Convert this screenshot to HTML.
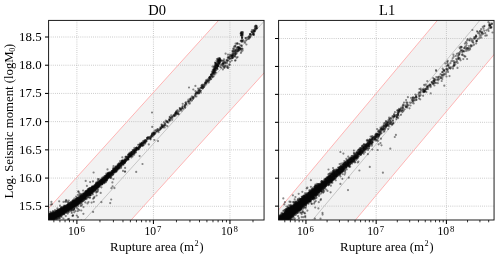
<!DOCTYPE html><html><head><meta charset="utf-8"><style>html,body{margin:0;padding:0;background:#fff}svg{display:block}text{font-family:"Liberation Serif",serif;fill:#000}</style></head><body>
<svg style="will-change:transform" xmlns="http://www.w3.org/2000/svg" width="500" height="258" viewBox="0 0 500 258">
<rect width="500" height="258" fill="#fff"/>
<defs>
<clipPath id="c0"><rect x="48.6" y="20.4" width="215.45000000000002" height="199.6"/></clipPath>
<clipPath id="c1"><rect x="278.6" y="20.4" width="215.45" height="199.6"/></clipPath>
</defs>
<g clip-path="url(#c0)">
<polygon points="43.60,213.95 269.05,-35.42 269.05,67.45 43.60,316.82" fill="#f2f2f2"/>
<line x1="76.90" y1="20.4" x2="76.90" y2="220.0" stroke="#b0b0b0" stroke-width="0.8" stroke-dasharray="0.8 1.32"/>
<line x1="153.43" y1="20.4" x2="153.43" y2="220.0" stroke="#b0b0b0" stroke-width="0.8" stroke-dasharray="0.8 1.32"/>
<line x1="229.95" y1="20.4" x2="229.95" y2="220.0" stroke="#b0b0b0" stroke-width="0.8" stroke-dasharray="0.8 1.32"/>
<line x1="48.6" y1="206.29" x2="264.05" y2="206.29" stroke="#b0b0b0" stroke-width="0.8" stroke-dasharray="0.8 1.32"/>
<line x1="48.6" y1="178.07" x2="264.05" y2="178.07" stroke="#b0b0b0" stroke-width="0.8" stroke-dasharray="0.8 1.32"/>
<line x1="48.6" y1="149.86" x2="264.05" y2="149.86" stroke="#b0b0b0" stroke-width="0.8" stroke-dasharray="0.8 1.32"/>
<line x1="48.6" y1="121.64" x2="264.05" y2="121.64" stroke="#b0b0b0" stroke-width="0.8" stroke-dasharray="0.8 1.32"/>
<line x1="48.6" y1="93.43" x2="264.05" y2="93.43" stroke="#b0b0b0" stroke-width="0.8" stroke-dasharray="0.8 1.32"/>
<line x1="48.6" y1="65.22" x2="264.05" y2="65.22" stroke="#b0b0b0" stroke-width="0.8" stroke-dasharray="0.8 1.32"/>
<line x1="48.6" y1="37.00" x2="264.05" y2="37.00" stroke="#b0b0b0" stroke-width="0.8" stroke-dasharray="0.8 1.32"/>
<line x1="43.60" y1="213.95" x2="269.05" y2="-35.42" stroke="#ffadad" stroke-width="0.9"/>
<line x1="43.60" y1="316.82" x2="269.05" y2="67.45" stroke="#ffadad" stroke-width="0.9"/>
<line x1="43.60" y1="265.13" x2="269.05" y2="15.76" stroke="#a8a8a8" stroke-width="0.6"/>
<path d="M42.2 220.3h0M49.9 218.8h0M44.3 218.4h0M40.6 221.0h0M43.1 221.6h0M47.5 220.6h0M40.5 222.1h0M45.2 220.0h0M53.4 218.4h0M61.7 232.0h0M45.1 218.9h0M60.6 225.0h0M46.7 218.9h0M51.8 216.7h0M41.4 220.9h0M42.9 219.5h0M47.2 220.5h0M44.6 219.6h0M54.5 215.1h0M51.2 219.0h0M55.1 216.2h0M40.5 221.5h0M47.6 216.1h0M57.1 214.9h0M47.4 217.3h0M47.1 221.6h0M50.6 218.2h0M46.8 216.9h0M46.8 220.6h0M51.1 218.4h0M55.7 213.3h0M45.6 220.7h0M52.8 215.8h0M52.7 218.9h0M49.4 218.0h0M42.2 224.8h0M50.3 219.6h0M44.6 221.4h0M44.7 223.0h0M55.8 216.8h0M56.7 214.1h0M47.9 219.2h0M45.9 217.8h0M47.0 219.0h0M53.0 217.1h0M55.2 212.4h0M48.5 220.4h0M43.6 220.2h0M50.7 216.3h0M47.7 221.4h0M54.7 216.1h0M57.4 215.9h0M49.3 218.2h0M41.8 223.6h0M44.4 218.9h0M49.2 218.9h0M50.9 216.9h0M52.0 218.9h0M52.9 214.9h0M52.6 215.5h0M55.9 214.7h0M52.3 215.0h0M55.5 214.7h0M53.9 214.5h0M45.3 219.2h0M45.7 218.6h0M42.4 222.8h0M56.3 215.8h0M53.1 216.2h0M48.7 216.1h0M55.6 215.2h0M39.7 218.8h0M49.8 219.4h0M43.6 219.9h0M43.5 219.3h0M50.5 215.9h0M50.3 216.2h0M45.0 218.6h0M50.9 215.5h0M55.0 215.3h0M42.4 219.9h0M50.0 216.8h0M55.8 214.8h0M46.9 220.8h0M51.6 218.6h0M45.1 219.4h0M44.0 219.8h0M43.2 218.6h0M50.7 218.6h0M39.5 220.1h0M50.1 219.6h0M56.3 216.0h0M40.3 218.3h0M55.1 213.8h0M45.5 218.1h0M41.6 217.6h0M42.3 219.3h0M40.6 221.8h0M43.2 218.6h0M51.0 217.8h0M44.1 220.7h0M41.7 220.2h0M52.7 217.3h0M48.2 217.7h0M45.6 221.7h0M53.1 218.1h0M47.9 219.5h0M43.6 221.7h0M55.5 216.8h0M43.7 221.9h0M47.6 218.9h0M49.7 216.9h0M41.1 223.2h0M44.9 221.2h0M43.3 220.3h0M46.1 218.6h0M51.7 218.3h0M53.8 216.0h0M41.9 221.8h0M55.5 214.8h0M49.8 218.7h0M55.1 215.1h0M48.7 215.7h0M48.4 217.3h0M41.1 221.6h0M47.0 218.7h0M49.5 218.2h0M48.4 220.0h0M51.2 217.6h0M48.7 220.7h0M40.5 220.8h0M43.6 219.6h0M51.9 214.6h0M46.9 220.3h0M39.3 219.1h0M43.8 220.8h0M53.4 215.8h0M43.0 221.8h0M50.4 217.4h0M55.2 217.7h0M49.4 215.5h0M44.6 221.4h0M45.0 218.8h0M48.5 216.0h0M44.8 219.6h0M41.9 221.8h0M44.2 220.1h0M47.9 216.3h0M43.1 221.7h0M44.5 219.5h0M49.7 217.8h0M48.0 219.2h0M51.8 214.3h0M51.2 216.7h0M52.4 215.0h0M53.3 216.2h0M52.5 217.1h0M43.2 221.5h0M49.4 218.2h0M44.1 218.2h0M45.3 212.3h0M43.1 222.4h0M43.6 219.5h0M44.1 219.8h0M40.4 222.6h0M40.6 222.9h0M49.2 218.9h0M52.5 219.0h0M53.5 218.5h0M40.0 221.3h0M48.9 218.1h0M57.1 215.4h0M52.8 213.4h0M44.6 220.5h0M52.1 218.0h0M41.0 221.3h0M45.0 219.4h0M52.0 216.1h0M52.2 213.0h0M51.1 218.4h0M47.0 218.2h0M42.8 223.1h0M46.5 221.1h0M51.2 214.5h0M40.3 220.6h0M50.7 217.6h0M51.8 218.4h0M41.1 219.6h0M47.5 220.6h0M52.5 216.4h0M45.9 219.1h0M46.7 221.1h0M55.8 216.3h0M47.2 218.6h0M55.2 213.7h0M55.3 215.2h0M53.2 213.6h0M41.8 222.2h0M50.9 216.3h0M44.1 220.8h0M42.6 221.5h0M54.0 215.4h0M52.8 211.7h0M54.6 213.0h0M53.3 218.2h0M48.8 219.2h0M48.9 215.6h0M44.9 218.8h0M50.4 219.6h0M47.0 222.0h0M54.3 215.8h0M56.7 214.2h0M45.0 218.2h0M50.3 217.2h0M42.7 220.4h0M48.4 218.1h0M52.2 216.8h0M48.4 218.9h0M48.0 218.6h0M53.7 215.0h0M40.8 221.0h0M40.5 219.5h0M50.4 217.8h0M47.9 222.1h0M39.9 220.8h0M54.7 219.1h0M45.9 217.7h0M56.2 216.4h0M55.7 216.5h0M44.5 222.3h0M45.2 221.2h0M46.9 219.9h0M39.9 220.4h0M45.5 220.3h0M50.1 217.8h0M49.4 219.4h0M48.3 216.3h0M51.4 217.5h0M52.1 216.9h0M50.7 218.3h0M50.3 216.2h0M47.6 217.6h0M56.0 215.5h0M54.3 217.3h0M53.3 217.0h0M49.5 217.9h0M45.8 220.4h0M45.2 220.1h0M56.4 213.2h0M56.8 215.3h0M51.2 214.8h0M41.7 221.1h0M50.9 218.3h0M53.9 218.8h0M45.5 217.5h0M56.7 213.8h0M52.8 216.8h0M39.6 221.1h0M51.7 217.0h0M46.6 218.3h0M41.1 220.9h0M56.0 215.2h0M41.6 222.2h0M44.3 220.7h0M51.6 213.6h0M44.8 221.2h0M47.4 217.0h0M56.6 214.8h0M46.7 217.4h0M51.0 216.2h0M43.2 220.3h0M46.1 220.0h0M53.1 233.0h0M45.0 219.5h0M47.8 217.6h0M45.6 218.3h0M47.8 219.7h0M52.6 219.4h0M41.3 221.2h0M52.5 218.0h0M49.4 214.5h0M45.6 219.5h0M48.6 216.9h0M56.1 214.4h0M54.3 218.3h0M49.4 217.7h0M46.4 218.9h0M46.2 222.6h0M54.5 215.3h0M49.0 219.1h0M47.2 218.0h0M50.7 216.5h0M42.1 222.5h0M40.5 219.9h0M44.8 219.9h0M43.9 221.8h0M40.8 221.7h0M39.9 220.0h0M47.5 215.2h0M46.3 219.7h0M50.8 223.6h0M49.8 218.4h0M49.6 216.2h0M41.6 223.0h0M44.1 220.0h0M41.4 219.6h0M46.5 220.0h0M40.1 222.1h0M43.0 220.4h0M49.1 220.3h0M47.9 218.2h0M51.0 213.6h0M42.7 222.7h0M48.1 215.9h0M40.9 219.3h0M52.6 215.5h0M56.1 215.9h0M53.9 217.5h0M69.9 205.6h0M63.2 212.7h0M66.8 209.6h0M57.6 211.8h0M69.3 207.8h0M58.6 212.3h0M74.6 202.2h0M65.5 209.8h0M76.7 202.9h0M77.2 202.6h0M76.5 203.3h0M70.3 204.2h0M67.9 205.4h0M69.4 207.6h0M68.8 209.7h0M63.8 207.6h0M64.2 210.1h0M71.0 207.3h0M64.7 206.4h0M75.4 201.4h0M65.6 208.7h0M57.3 212.9h0M66.9 207.9h0M57.8 214.7h0M73.3 203.0h0M67.2 209.2h0M57.8 214.9h0M63.5 201.9h0M67.2 208.5h0M73.5 206.1h0M70.1 206.3h0M66.2 212.2h0M64.0 209.8h0M72.0 203.9h0M61.6 212.2h0M69.1 206.7h0M70.4 204.6h0M62.9 213.8h0M58.7 214.6h0M56.6 213.4h0M75.0 201.4h0M68.3 208.8h0M70.9 208.8h0M74.4 203.6h0M77.2 204.2h0M58.4 213.0h0M74.9 204.8h0M68.6 207.2h0M59.3 212.9h0M60.4 214.1h0M75.0 205.7h0M66.0 210.8h0M70.7 206.7h0M58.3 212.9h0M73.1 204.9h0M73.5 203.4h0M71.6 209.2h0M62.8 210.9h0M77.5 203.5h0M61.4 211.6h0M60.9 214.0h0M75.9 204.3h0M61.8 213.9h0M76.1 202.5h0M63.6 211.1h0M62.3 210.1h0M70.9 207.4h0M58.6 215.1h0M68.4 208.7h0M58.3 214.2h0M71.0 207.1h0M71.9 205.3h0M73.0 200.4h0M74.1 205.2h0M61.0 212.6h0M72.3 205.3h0M64.5 210.9h0M74.8 203.9h0M70.7 204.3h0M76.6 203.5h0M61.7 209.3h0M77.1 203.1h0M75.6 201.9h0M66.3 210.5h0M68.1 209.3h0M73.5 205.0h0M73.8 204.1h0M63.6 208.2h0M66.1 207.3h0M58.2 214.0h0M61.2 210.3h0M69.3 207.2h0M60.6 214.4h0M75.8 204.5h0M69.2 205.2h0M59.0 213.6h0M59.8 211.7h0M73.0 202.5h0M62.2 213.0h0M64.5 211.0h0M67.5 206.9h0M65.8 208.2h0M59.4 211.4h0M75.2 205.1h0M60.6 212.1h0M68.8 206.5h0M65.0 210.0h0M75.3 202.7h0M73.5 204.5h0M64.0 209.7h0M59.9 215.1h0M69.2 208.5h0M67.6 210.1h0M59.3 211.7h0M65.4 211.3h0M65.1 211.2h0M67.6 202.1h0M63.2 211.5h0M68.0 208.3h0M78.0 217.2h0M72.3 207.7h0M75.0 200.9h0M74.8 202.6h0M63.5 209.5h0M76.5 201.5h0M76.3 204.2h0M65.2 210.2h0M65.3 211.0h0M62.2 212.1h0M58.3 216.0h0M66.8 208.3h0M69.5 205.6h0M71.6 208.5h0M65.6 210.6h0M64.8 209.2h0M75.1 204.2h0M61.0 207.4h0M58.2 213.7h0M67.6 208.5h0M67.7 206.8h0M59.6 215.0h0M68.7 206.5h0M68.5 207.2h0M64.7 208.3h0M61.9 214.5h0M75.2 203.4h0M70.5 222.0h0M60.3 209.1h0M75.8 202.9h0M66.8 208.9h0M69.9 206.2h0M77.0 203.0h0M65.9 211.4h0M63.7 209.5h0M69.4 205.2h0M66.7 208.7h0M65.5 209.0h0M72.3 206.1h0M64.3 213.5h0M58.2 211.5h0M62.1 211.6h0M61.7 212.8h0M56.6 211.8h0M64.0 207.5h0M70.3 204.1h0M57.2 212.2h0M61.7 211.2h0M67.9 208.4h0M64.1 209.0h0M63.2 208.6h0M71.3 207.1h0M64.0 209.5h0M69.7 206.4h0M69.7 206.0h0M60.9 210.6h0M63.1 210.8h0M70.4 204.4h0M75.6 202.7h0M69.6 208.5h0M71.5 208.1h0M67.6 207.8h0M71.4 205.1h0M65.1 208.9h0M65.1 207.4h0M60.6 211.6h0M59.7 213.4h0M65.8 210.2h0M76.8 215.5h0M63.2 213.3h0M65.1 206.5h0M57.7 211.4h0M72.8 205.4h0M71.4 205.9h0M65.4 209.6h0M66.7 210.1h0M71.4 203.6h0M70.0 206.9h0M76.7 203.4h0M69.1 208.3h0M70.6 204.8h0M62.3 211.9h0M61.3 213.5h0M64.1 208.4h0M64.6 207.6h0M70.8 202.2h0M65.0 210.3h0M68.1 204.3h0M59.2 212.3h0M59.2 213.8h0M69.0 206.2h0M71.6 204.9h0M74.3 205.2h0M70.2 208.3h0M58.3 213.8h0M75.9 201.7h0M71.4 206.5h0M73.8 202.6h0M71.7 203.5h0M61.5 211.0h0M62.9 211.0h0M61.6 212.6h0M73.7 201.0h0M65.6 207.5h0M62.1 211.3h0M63.8 207.4h0M67.0 210.7h0M66.7 212.8h0M73.0 201.7h0M57.3 212.9h0M75.5 202.4h0M74.6 203.5h0M61.3 212.7h0M67.1 206.1h0M75.6 201.9h0M66.1 205.9h0M73.0 200.7h0M70.6 207.5h0M58.3 212.1h0M74.3 203.7h0M59.6 214.4h0M60.7 210.5h0M60.8 211.1h0M58.9 213.3h0M77.6 204.6h0M65.5 211.2h0M70.4 207.0h0M63.7 209.6h0M63.6 211.4h0M66.6 209.6h0M74.9 205.7h0M61.8 213.3h0M70.2 204.5h0M62.1 211.3h0M57.2 212.9h0M65.7 211.1h0M68.5 208.5h0M62.0 210.0h0M63.7 208.1h0M63.0 211.8h0M65.7 207.2h0M70.7 207.8h0M67.0 206.9h0M57.5 215.2h0M66.6 207.5h0M71.5 209.4h0M70.5 208.1h0M63.0 212.2h0M73.9 202.2h0M73.5 205.5h0M63.8 211.4h0M72.0 205.5h0M76.1 202.8h0M76.8 202.3h0M57.2 211.1h0M71.5 206.0h0M73.4 204.1h0M60.7 211.5h0M60.6 211.2h0M67.5 205.0h0M68.9 207.8h0M75.0 203.6h0M66.7 211.8h0M61.4 212.2h0M69.6 206.1h0M57.5 213.5h0M61.0 211.8h0M59.8 212.9h0M63.5 212.6h0M63.9 209.0h0M71.6 205.2h0M72.9 204.8h0M73.3 203.2h0M61.3 212.1h0M77.3 203.2h0M74.6 202.7h0M77.0 203.6h0M58.9 216.0h0M60.4 212.9h0M63.1 210.6h0M58.1 211.9h0M68.0 208.9h0M63.1 212.5h0M76.7 205.4h0M66.3 207.6h0M78.3 199.4h0M77.1 198.9h0M83.7 196.9h0M78.5 200.5h0M87.8 191.2h0M83.5 194.7h0M88.3 192.4h0M86.1 194.7h0M80.8 199.1h0M86.1 199.1h0M90.3 191.4h0M90.9 190.4h0M95.6 187.3h0M80.8 197.1h0M88.6 191.8h0M78.6 199.1h0M90.1 182.1h0M83.1 197.2h0M96.8 186.1h0M88.9 193.2h0M78.6 200.2h0M93.0 181.4h0M91.5 191.2h0M95.0 186.3h0M82.1 197.4h0M94.7 187.8h0M89.8 193.6h0M77.1 199.6h0M82.5 199.6h0M88.2 191.4h0M78.8 203.6h0M82.8 195.4h0M90.4 189.9h0M84.6 199.7h0M82.2 200.3h0M80.4 202.1h0M83.0 196.8h0M89.5 193.1h0M79.9 202.3h0M76.3 199.1h0M90.7 189.9h0M75.9 199.5h0M86.3 192.8h0M80.0 199.2h0M95.1 186.8h0M89.7 189.5h0M88.1 191.5h0M89.4 191.1h0M80.2 194.9h0M94.3 186.5h0M83.6 195.3h0M81.4 202.9h0M89.6 188.9h0M90.7 189.7h0M89.9 191.1h0M85.0 195.1h0M86.9 194.7h0M91.5 191.5h0M81.8 197.3h0M86.4 191.1h0M93.3 191.0h0M82.0 198.4h0M88.1 193.4h0M87.6 193.7h0M83.0 196.1h0M81.8 197.9h0M78.7 199.2h0M86.7 193.4h0M85.8 193.9h0M97.3 186.2h0M94.9 189.7h0M92.6 188.0h0M87.6 193.3h0M82.5 198.7h0M94.6 188.2h0M97.3 191.9h0M78.6 201.0h0M80.1 197.2h0M93.1 187.9h0M84.8 196.9h0M77.1 199.4h0M88.5 192.4h0M81.1 196.7h0M91.2 191.1h0M82.5 197.0h0M92.5 190.2h0M93.0 188.7h0M96.6 187.7h0M84.7 193.6h0M87.3 191.9h0M85.8 192.5h0M94.3 186.7h0M81.0 198.3h0M86.3 195.8h0M92.2 186.4h0M77.6 201.5h0M90.4 193.9h0M77.5 201.3h0M85.6 194.6h0M84.7 197.1h0M88.2 191.9h0M90.0 191.8h0M89.4 192.7h0M83.8 196.0h0M76.4 199.4h0M80.7 198.8h0M81.9 200.0h0M91.6 188.8h0M84.0 197.9h0M77.6 202.7h0M80.2 198.0h0M94.4 190.8h0M84.3 198.0h0M86.2 193.4h0M87.6 192.3h0M79.6 196.2h0M78.4 200.2h0M92.9 190.3h0M78.4 197.6h0M80.6 199.1h0M95.8 184.4h0M94.3 187.7h0M87.3 194.0h0M77.5 200.5h0M78.1 203.2h0M80.5 199.9h0M100.7 192.9h0M78.1 202.1h0M79.1 202.2h0M77.4 200.2h0M79.2 201.2h0M82.4 196.1h0M77.5 200.0h0M90.3 189.6h0M92.5 191.0h0M91.5 191.1h0M83.3 196.0h0M83.7 199.9h0M96.6 186.2h0M94.8 189.4h0M80.3 201.2h0M93.1 198.7h0M81.8 198.2h0M78.3 202.7h0M86.3 191.8h0M83.9 196.9h0M83.9 199.0h0M77.1 200.3h0M85.4 194.5h0M93.7 188.3h0M83.0 196.4h0M89.1 192.8h0M88.1 191.3h0M79.1 197.6h0M81.3 196.1h0M81.2 196.3h0M96.8 186.0h0M94.9 187.1h0M82.4 195.1h0M79.9 201.3h0M92.6 190.5h0M88.8 189.4h0M94.0 189.5h0M87.0 193.4h0M94.4 187.6h0M81.0 198.2h0M86.7 194.8h0M84.4 196.9h0M91.4 190.5h0M78.4 191.5h0M93.4 187.6h0M86.4 193.8h0M92.4 191.0h0M82.3 195.9h0M79.7 199.5h0M91.6 192.4h0M78.5 199.6h0M97.1 186.2h0M82.3 199.6h0M78.8 201.9h0M82.8 199.5h0M96.4 187.6h0M79.8 197.7h0M78.8 200.9h0M85.7 180.9h0M85.2 197.3h0M92.5 190.8h0M84.9 198.1h0M76.5 200.7h0M93.5 189.6h0M78.7 198.2h0M93.9 190.3h0M91.2 188.0h0M79.2 201.2h0M79.0 198.6h0M93.3 189.7h0M91.4 189.0h0M89.5 195.0h0M95.5 186.5h0M89.8 190.1h0M81.9 194.1h0M96.4 185.6h0M109.3 177.6h0M109.3 176.8h0M97.8 186.1h0M102.8 181.9h0M97.2 184.0h0M99.9 181.6h0M106.4 180.1h0M106.8 177.9h0M100.6 182.2h0M109.9 173.2h0M107.8 176.2h0M112.2 170.9h0M99.2 184.2h0M96.1 182.5h0M101.2 181.5h0M106.2 178.7h0M107.9 178.6h0M117.6 170.1h0M98.1 186.4h0M112.7 173.0h0M98.9 184.8h0M116.0 170.6h0M106.1 176.9h0M103.1 180.5h0M107.6 176.3h0M97.0 185.2h0M112.5 171.2h0M105.0 179.0h0M106.4 176.3h0M114.2 171.3h0M111.2 173.3h0M96.6 184.9h0M105.9 179.5h0M102.3 181.8h0M108.1 175.8h0M105.6 178.7h0M102.4 183.4h0M116.1 171.0h0M117.3 169.2h0M103.7 181.4h0M117.1 169.6h0M100.5 183.2h0M113.8 171.1h0M114.6 172.0h0M97.5 183.1h0M97.5 185.7h0M98.3 185.7h0M110.1 172.9h0M113.3 171.7h0M99.2 184.5h0M109.4 175.7h0M113.5 168.9h0M116.3 171.3h0M96.0 184.5h0M109.6 175.2h0M108.0 175.8h0M112.8 174.4h0M112.5 174.2h0M101.2 184.3h0M110.9 174.1h0M107.5 178.3h0M104.5 178.5h0M101.8 184.2h0M104.4 178.2h0M106.2 178.2h0M97.4 183.9h0M106.4 176.2h0M115.6 169.0h0M102.2 179.7h0M109.0 175.8h0M111.3 173.2h0M103.3 179.5h0M100.1 183.4h0M99.1 185.0h0M100.5 180.4h0M100.0 185.0h0M107.7 177.9h0M101.3 183.3h0M103.3 178.4h0M101.0 183.4h0M107.9 173.7h0M112.9 171.4h0M106.9 178.6h0M101.9 181.6h0M114.9 169.0h0M101.7 181.9h0M111.4 172.8h0M105.7 179.1h0M110.3 172.9h0M103.6 181.7h0M102.7 179.8h0M103.0 181.0h0M101.4 181.5h0M99.3 181.0h0M97.2 184.6h0M101.6 181.8h0M113.4 179.1h0M108.1 177.5h0M101.8 181.6h0M107.9 176.2h0M107.0 175.0h0M99.7 183.6h0M104.1 179.8h0M103.2 181.4h0M105.1 180.3h0M97.0 185.5h0M113.7 171.4h0M102.4 183.3h0M104.1 177.8h0M97.9 183.6h0M112.8 172.2h0M107.7 175.9h0M99.5 185.8h0M128.4 154.9h0M123.6 162.2h0M124.5 160.8h0M124.6 160.5h0M119.1 163.9h0M122.2 162.4h0M126.7 159.0h0M137.0 148.8h0M124.5 160.8h0M127.9 158.9h0M116.3 167.1h0M134.5 149.0h0M127.5 158.1h0M129.4 156.3h0M135.1 149.3h0M118.6 167.8h0M124.6 162.6h0M117.7 166.0h0M119.4 165.2h0M136.2 171.9h0M118.9 166.9h0M120.2 164.6h0M121.2 165.1h0M136.1 149.9h0M119.6 166.1h0M125.6 160.2h0M116.3 167.5h0M117.6 168.2h0M119.0 168.1h0M119.5 165.0h0M132.0 154.1h0M123.0 170.9h0M134.6 151.6h0M121.0 168.0h0M117.1 167.1h0M120.4 165.0h0M128.0 158.5h0M125.5 160.1h0M134.7 151.0h0M123.6 161.5h0M123.7 161.2h0M129.3 156.6h0M119.4 164.2h0M125.4 161.3h0M116.8 167.8h0M128.5 156.1h0M126.2 157.2h0M130.8 155.2h0M135.6 149.7h0M118.5 166.0h0M121.1 163.4h0M119.6 165.2h0M136.2 149.6h0M127.5 158.8h0M147.8 137.6h0M142.7 145.1h0M140.0 145.2h0M154.4 140.0h0M155.6 131.9h0M153.8 133.2h0M151.2 136.1h0M141.9 143.4h0M145.8 141.3h0M152.1 133.8h0M150.9 137.3h0M139.3 144.5h0M153.8 132.4h0M144.3 141.8h0M149.3 137.3h0M145.6 142.0h0M154.5 133.9h0M145.0 142.7h0M156.0 131.6h0M140.6 145.4h0M154.7 130.6h0M149.8 137.9h0M159.8 129.8h0M162.2 126.8h0M162.3 127.0h0M174.7 114.8h0M164.4 125.3h0M169.2 119.3h0M170.9 118.2h0M157.3 129.4h0M172.0 117.0h0M164.8 123.7h0M163.9 122.4h0M172.4 118.0h0M167.3 121.8h0M188.4 103.0h0M195.1 96.2h0M192.9 99.0h0M183.2 108.8h0M177.5 110.2h0M188.6 101.3h0M189.5 99.7h0M194.2 96.8h0M180.8 109.0h0M178.5 114.0h0M188.4 99.7h0M193.2 98.4h0M199.5 92.0h0M198.0 88.6h0M207.9 80.9h0M210.6 78.8h0M208.3 80.5h0M209.0 80.2h0M203.8 87.0h0M200.6 90.7h0M197.3 92.5h0M202.5 86.5h0M207.6 79.4h0M199.3 91.5h0M215.0 67.2h0M217.1 64.0h0M217.7 65.6h0M214.3 67.0h0M211.6 74.5h0M218.7 61.0h0M219.2 60.6h0M214.0 71.2h0M218.1 63.1h0M218.1 61.5h0M212.4 77.0h0M214.2 71.0h0M213.0 72.8h0M220.8 60.4h0M212.7 76.4h0M213.7 73.2h0M220.6 61.4h0M213.6 69.8h0M217.1 65.0h0M213.5 71.1h0M224.9 62.5h0M219.5 60.2h0M214.0 71.5h0M241.6 51.5h0M227.7 57.9h0M226.3 61.5h0M232.1 57.2h0M217.9 65.8h0M233.0 51.2h0M227.1 61.3h0M237.5 47.4h0M233.5 48.4h0M223.7 63.4h0M231.9 58.2h0M242.6 50.6h0M227.0 61.8h0M234.0 49.0h0M221.0 64.9h0M235.4 46.2h0M221.1 65.0h0M229.9 54.5h0M238.4 50.8h0M232.5 55.1h0M237.0 49.8h0M233.2 54.2h0M236.0 50.2h0M237.7 51.3h0M230.8 56.0h0M241.7 40.8h0M242.2 36.7h0M240.9 33.3h0M241.4 35.2h0M241.5 32.9h0M256.7 28.6h0M256.0 25.7h0M249.6 36.4h0M252.0 32.3h0M254.9 26.5h0M246.4 44.5h0M250.5 34.2h0M255.9 29.5h0M253.7 35.0h0M254.0 31.2h0M218.6 66.0h0M214.9 68.5h0M214.0 67.1h0M217.4 63.0h0M216.0 72.6h0M213.8 70.4h0M214.4 65.7h0M218.9 58.3h0M217.9 58.6h0M218.8 62.7h0M215.5 64.8h0M218.6 66.0h0" stroke="#000" stroke-opacity="0.45" stroke-width="2.2" stroke-linecap="round" fill="none"/><path d="M46.5 216.8h0M42.8 222.6h0M47.1 221.4h0M51.8 218.8h0M44.3 220.4h0M48.5 223.3h0M54.8 214.6h0M48.3 219.8h0M55.0 217.2h0M54.1 218.7h0M52.3 215.1h0M42.8 220.2h0M52.6 215.0h0M52.0 204.2h0M50.3 216.3h0M49.2 218.5h0M51.5 217.0h0M46.0 217.7h0M55.2 215.3h0M44.1 218.3h0M47.8 218.1h0M42.6 223.0h0M52.4 216.5h0M50.1 218.0h0M39.9 220.1h0M48.7 221.0h0M44.5 220.4h0M54.8 218.2h0M43.4 218.3h0M42.9 220.8h0M54.9 213.0h0M48.7 217.4h0M49.3 217.2h0M47.7 218.9h0M42.4 223.5h0M51.6 217.9h0M45.0 219.6h0M51.0 217.4h0M40.6 220.7h0M40.7 221.0h0M44.4 219.8h0M56.6 213.7h0M56.4 213.9h0M53.9 216.3h0M43.9 221.0h0M56.5 214.0h0M48.1 220.5h0M50.5 215.0h0M54.5 213.7h0M42.0 221.9h0M49.1 216.6h0M40.4 219.9h0M47.1 219.7h0M53.6 216.2h0M43.7 221.5h0M54.5 214.6h0M39.9 215.6h0M56.0 214.3h0M49.7 217.5h0M53.6 218.9h0M46.7 218.2h0M56.1 214.0h0M52.1 216.8h0M51.2 218.6h0M45.7 219.1h0M54.3 213.4h0M48.2 218.6h0M47.3 218.3h0M48.1 215.6h0M47.6 218.7h0M45.2 218.6h0M55.6 214.4h0M42.7 225.2h0M53.6 215.5h0M56.1 217.2h0M55.9 216.3h0M47.8 219.4h0M57.4 215.8h0M44.7 219.7h0M53.0 215.3h0M46.7 218.5h0M45.7 218.6h0M44.6 220.6h0M55.8 215.4h0M53.2 214.9h0M51.5 215.9h0M50.6 216.1h0M42.2 221.5h0M40.4 221.2h0M49.2 217.6h0M55.0 210.1h0M49.2 216.2h0M46.5 220.5h0M48.1 219.2h0M52.6 217.2h0M46.6 220.0h0M46.3 220.5h0M56.5 214.0h0M51.1 217.8h0M45.8 217.3h0M47.7 217.2h0M42.9 219.8h0M56.1 214.6h0M53.6 215.5h0M49.1 220.6h0M53.1 211.2h0M46.8 216.9h0M52.9 215.3h0M47.9 217.3h0M44.4 218.7h0M56.3 213.4h0M45.6 223.4h0M40.7 220.3h0M46.4 218.1h0M45.1 221.4h0M56.1 216.7h0M44.5 220.1h0M43.8 223.4h0M56.1 216.6h0M52.2 214.0h0M49.2 218.0h0M52.4 216.8h0M49.0 220.0h0M54.6 214.6h0M43.4 220.5h0M47.2 221.2h0M55.5 216.3h0M42.8 220.8h0M48.4 216.5h0M45.0 215.7h0M48.3 216.3h0M55.8 214.8h0M43.1 219.5h0M51.9 214.4h0M47.8 220.2h0M53.0 213.7h0M42.2 218.2h0M45.6 216.9h0M44.0 219.0h0M51.4 218.7h0M40.5 222.4h0M51.4 218.6h0M49.0 217.2h0M46.3 219.9h0M51.4 218.2h0M40.4 220.7h0M47.1 222.0h0M45.4 218.6h0M44.2 219.2h0M52.9 215.9h0M56.2 215.4h0M48.4 215.6h0M47.2 215.3h0M49.8 219.7h0M44.8 220.4h0M41.7 218.0h0M50.9 218.0h0M51.8 217.0h0M45.2 221.3h0M48.8 220.0h0M54.9 215.3h0M53.7 214.5h0M45.5 218.2h0M42.7 221.1h0M49.7 218.2h0M48.0 218.2h0M41.2 221.5h0M40.9 224.0h0M41.5 219.1h0M53.9 216.8h0M50.5 219.2h0M44.3 219.2h0M55.5 223.2h0M46.5 217.9h0M52.1 218.3h0M50.0 218.6h0M47.1 218.2h0M48.8 217.1h0M48.8 216.6h0M41.5 222.5h0M50.9 216.2h0M50.9 217.4h0M53.5 214.2h0M47.1 219.3h0M48.5 217.9h0M51.0 216.9h0M50.1 221.3h0M40.7 219.7h0M50.6 214.4h0M48.4 218.5h0M49.9 218.0h0M48.3 218.2h0M55.3 215.4h0M41.6 222.3h0M41.8 223.4h0M52.1 217.4h0M53.5 218.9h0M50.1 218.2h0M41.9 220.1h0M43.5 221.4h0M46.6 220.0h0M54.2 214.9h0M56.9 214.3h0M54.0 217.0h0M56.8 218.0h0M44.6 219.9h0M48.7 216.8h0M39.2 218.6h0M55.4 215.1h0M43.4 227.7h0M45.2 219.1h0M50.6 221.2h0M55.2 215.5h0M44.2 220.2h0M44.2 217.8h0M41.3 219.7h0M54.3 216.8h0M41.2 218.7h0M51.3 216.7h0M50.6 217.0h0M54.1 215.3h0M51.8 219.3h0M39.9 221.6h0M47.2 217.7h0M42.5 222.8h0M45.7 217.2h0M41.0 220.9h0M50.0 217.8h0M43.8 224.2h0M51.1 216.4h0M51.5 216.3h0M41.6 221.1h0M49.3 216.0h0M51.7 218.6h0M39.4 220.4h0M53.9 214.5h0M44.5 220.3h0M52.9 213.4h0M44.5 218.4h0M49.8 220.6h0M41.5 224.0h0M49.2 218.6h0M40.8 219.6h0M55.9 216.3h0M44.6 222.9h0M55.8 212.3h0M43.6 219.2h0M44.2 222.2h0M41.3 220.9h0M47.4 219.6h0M44.7 221.4h0M54.3 214.9h0M55.9 214.7h0M49.7 218.1h0M52.5 217.3h0M47.2 216.6h0M55.3 216.6h0M50.3 213.9h0M42.0 219.8h0M44.8 220.4h0M56.0 214.4h0M45.2 218.2h0M44.0 221.1h0M42.1 222.6h0M42.6 220.0h0M47.5 220.3h0M46.7 217.7h0M46.9 218.0h0M40.5 221.7h0M46.1 217.9h0M52.2 215.4h0M44.0 220.7h0M45.0 220.8h0M43.7 220.3h0M45.9 219.0h0M39.6 218.3h0M40.6 222.7h0M46.8 219.0h0M49.5 219.3h0M52.0 215.0h0M46.7 221.1h0M51.5 216.7h0M43.8 221.2h0M51.3 216.7h0M55.3 215.9h0M55.2 216.9h0M44.8 220.5h0M40.4 222.0h0M43.3 219.1h0M42.0 220.6h0M57.1 216.0h0M50.0 218.4h0M54.5 215.2h0M51.8 214.2h0M42.9 218.8h0M46.4 217.0h0M41.4 222.3h0M43.6 219.2h0M53.7 215.0h0M40.1 219.2h0M55.4 216.2h0M53.9 218.3h0M46.6 216.3h0M53.7 219.8h0M47.4 219.7h0M49.4 216.5h0M45.7 218.3h0M51.3 216.8h0M44.2 219.7h0M47.3 218.0h0M42.7 217.3h0M45.1 220.3h0M51.7 218.9h0M47.2 219.2h0M44.8 220.4h0M52.5 214.3h0M48.0 219.0h0M44.2 219.3h0M71.0 203.4h0M74.8 201.8h0M59.2 215.5h0M66.4 206.8h0M57.5 214.6h0M60.9 211.2h0M69.1 209.1h0M61.2 213.9h0M61.3 212.8h0M62.3 210.5h0M70.2 208.2h0M57.4 214.0h0M74.3 204.3h0M79.3 210.1h0M69.7 207.4h0M68.6 209.1h0M73.1 205.3h0M62.7 210.2h0M71.0 205.3h0M61.4 207.4h0M68.7 206.1h0M66.9 209.5h0M62.3 211.1h0M73.4 205.2h0M61.7 212.7h0M58.7 216.3h0M73.5 201.3h0M65.1 209.7h0M58.9 213.5h0M56.6 213.5h0M65.1 211.8h0M70.6 205.3h0M65.1 208.8h0M66.8 210.7h0M71.7 206.0h0M76.5 202.3h0M58.9 215.8h0M57.2 212.5h0M74.2 205.1h0M64.8 210.7h0M60.3 211.4h0M74.0 204.1h0M72.2 206.7h0M72.7 204.8h0M68.6 211.3h0M59.3 213.0h0M64.6 210.2h0M64.7 209.1h0M61.6 209.6h0M70.1 206.2h0M75.3 202.3h0M69.5 205.3h0M60.9 210.6h0M59.3 212.3h0M61.3 213.1h0M73.5 205.0h0M68.1 206.7h0M65.9 210.6h0M69.2 207.5h0M75.9 201.5h0M74.9 204.6h0M75.4 201.9h0M61.1 211.7h0M67.4 207.0h0M68.8 209.2h0M65.6 209.8h0M60.4 212.2h0M62.1 208.5h0M62.4 209.0h0M71.4 204.5h0M57.3 214.7h0M69.1 204.4h0M61.3 213.0h0M62.1 211.5h0M61.9 211.6h0M67.0 209.3h0M58.2 212.2h0M74.0 203.1h0M60.0 213.4h0M64.2 208.8h0M67.0 207.6h0M66.8 208.0h0M63.4 213.8h0M68.3 208.3h0M57.8 213.2h0M65.4 210.0h0M75.2 204.3h0M68.6 207.6h0M73.4 206.7h0M71.5 206.0h0M60.9 213.4h0M71.7 206.2h0M66.5 209.2h0M60.9 214.7h0M74.2 202.7h0M69.6 203.5h0M61.1 210.7h0M61.6 210.8h0M68.4 209.3h0M74.4 203.8h0M64.6 209.3h0M67.4 205.4h0M57.9 214.5h0M58.4 214.7h0M73.7 205.1h0M76.7 203.1h0M74.3 203.7h0M65.7 208.1h0M71.7 204.5h0M61.6 211.5h0M63.2 211.5h0M69.2 207.7h0M70.1 207.3h0M64.1 208.2h0M62.9 209.2h0M63.0 210.2h0M73.5 207.3h0M72.7 204.6h0M59.7 213.8h0M59.7 215.8h0M63.2 212.0h0M74.6 205.5h0M59.4 213.2h0M57.7 213.3h0M71.9 205.8h0M67.5 209.4h0M58.3 214.0h0M73.4 210.2h0M72.5 204.3h0M63.4 211.3h0M57.9 213.1h0M69.8 208.7h0M64.5 208.1h0M68.5 210.6h0M60.8 211.3h0M75.9 202.5h0M64.9 209.2h0M65.2 210.7h0M58.3 209.9h0M59.9 209.8h0M60.8 211.1h0M71.3 206.7h0M72.4 206.3h0M67.5 207.3h0M61.4 212.0h0M72.3 203.8h0M60.3 212.1h0M62.7 211.7h0M58.4 214.1h0M70.5 205.0h0M64.2 205.6h0M68.2 206.8h0M73.4 204.3h0M60.5 215.6h0M65.7 208.1h0M74.8 205.8h0M57.7 215.2h0M65.3 201.7h0M62.7 212.1h0M74.1 200.0h0M58.2 215.8h0M59.9 214.0h0M60.8 213.4h0M71.1 203.1h0M61.8 208.9h0M76.1 201.8h0M66.5 209.8h0M58.8 214.2h0M68.8 207.6h0M76.5 201.8h0M60.3 212.5h0M65.7 209.2h0M74.0 206.9h0M62.3 208.1h0M66.8 221.8h0M58.1 212.9h0M62.0 210.9h0M65.2 206.9h0M63.2 212.6h0M67.1 208.1h0M76.1 201.5h0M72.9 203.7h0M60.2 213.4h0M70.8 207.7h0M58.1 214.6h0M59.0 215.3h0M72.8 203.4h0M58.0 214.4h0M72.2 206.5h0M64.4 208.8h0M73.2 203.5h0M64.4 211.8h0M69.6 206.8h0M76.4 204.0h0M57.4 210.6h0M67.8 209.1h0M62.9 211.5h0M67.2 206.4h0M69.1 208.4h0M66.2 208.9h0M74.5 203.2h0M65.2 210.3h0M61.3 212.4h0M61.4 211.1h0M75.6 204.9h0M72.2 201.1h0M57.3 215.0h0M57.7 214.1h0M73.6 203.4h0M63.3 210.2h0M66.5 206.6h0M60.8 214.0h0M69.3 209.0h0M55.8 211.0h0M59.3 215.3h0M67.0 207.3h0M59.3 215.1h0M57.3 214.7h0M66.4 209.2h0M74.8 203.6h0M61.4 209.8h0M64.7 210.8h0M64.2 211.0h0M58.0 215.2h0M62.8 211.1h0M66.9 210.0h0M59.4 211.5h0M75.5 204.7h0M67.7 206.5h0M63.2 210.8h0M70.0 207.9h0M59.3 214.0h0M58.7 213.6h0M59.5 211.3h0M62.9 211.5h0M72.1 204.8h0M57.8 214.1h0M73.5 204.5h0M71.4 205.3h0M70.4 206.0h0M56.5 213.7h0M66.6 209.3h0M73.5 204.4h0M59.7 211.6h0M76.6 204.4h0M75.3 201.8h0M72.8 215.5h0M72.7 205.4h0M57.7 213.5h0M67.0 207.6h0M65.9 209.6h0M63.6 211.3h0M62.0 211.2h0M63.1 210.0h0M63.4 213.6h0M63.1 210.3h0M58.5 214.3h0M58.0 211.7h0M58.9 212.8h0M68.3 208.1h0M67.5 208.7h0M69.5 204.4h0M62.9 210.3h0M75.1 201.0h0M59.0 217.6h0M66.5 209.5h0M62.7 210.7h0M67.5 207.3h0M69.8 211.1h0M63.7 210.9h0M64.1 213.8h0M63.6 206.3h0M63.5 211.7h0M61.5 211.1h0M61.3 213.2h0M60.5 212.7h0M59.7 216.3h0M63.2 211.8h0M70.2 206.4h0M60.3 212.3h0M71.7 208.5h0M74.3 206.6h0M77.8 211.1h0M67.9 205.1h0M66.7 209.0h0M74.6 206.3h0M67.4 206.7h0M63.5 207.9h0M75.6 201.7h0M67.4 207.2h0M70.4 205.8h0M58.0 214.7h0M74.2 208.1h0M62.2 211.5h0M72.6 202.6h0M74.6 204.9h0M72.8 206.3h0M67.5 205.6h0M59.2 214.7h0M60.0 211.7h0M73.9 201.6h0M77.9 204.6h0M63.6 211.2h0M66.2 209.1h0M83.9 197.0h0M80.4 202.0h0M79.7 202.6h0M92.5 187.0h0M79.5 200.5h0M87.2 191.5h0M90.4 195.0h0M96.6 187.2h0M82.2 196.1h0M78.8 201.9h0M79.9 198.8h0M94.7 189.9h0M91.2 188.3h0M95.5 187.3h0M84.7 195.8h0M85.7 192.1h0M88.8 195.0h0M81.2 196.4h0M94.4 190.2h0M82.8 196.9h0M78.4 203.3h0M88.5 191.1h0M82.3 196.9h0M81.3 198.5h0M80.8 202.4h0M82.0 199.7h0M89.4 194.0h0M92.2 189.2h0M94.8 186.5h0M81.6 195.2h0M93.3 191.4h0M95.6 185.0h0M95.0 186.5h0M87.3 191.2h0M77.1 201.2h0M78.8 202.1h0M77.5 202.1h0M77.6 199.0h0M90.9 190.9h0M85.3 197.2h0M79.6 198.3h0M88.1 194.2h0M91.8 188.9h0M86.8 191.7h0M83.5 198.2h0M82.6 198.5h0M89.3 191.2h0M87.1 194.7h0M84.5 195.7h0M78.3 201.2h0M86.5 194.6h0M96.1 185.7h0M86.4 193.0h0M89.0 193.6h0M85.0 194.3h0M85.2 194.2h0M83.7 193.9h0M80.9 199.3h0M96.5 187.8h0M83.5 193.5h0M77.3 198.5h0M82.0 197.2h0M83.7 196.9h0M87.4 193.4h0M83.2 196.6h0M86.9 185.9h0M94.8 186.7h0M79.2 200.7h0M92.8 186.9h0M78.7 199.8h0M82.1 204.5h0M78.3 200.5h0M84.2 196.9h0M83.4 197.0h0M87.1 193.4h0M78.4 201.8h0M90.9 191.8h0M95.1 186.2h0M82.7 197.3h0M88.4 194.0h0M87.9 194.6h0M91.6 192.3h0M78.1 199.1h0M77.0 201.3h0M92.7 189.9h0M81.6 198.4h0M93.8 186.8h0M85.5 195.9h0M89.8 190.7h0M82.2 196.5h0M88.0 189.4h0M81.1 196.0h0M89.3 190.3h0M81.1 201.5h0M75.9 199.8h0M92.8 194.5h0M92.4 191.3h0M88.7 194.3h0M85.3 202.4h0M78.6 201.7h0M78.6 198.9h0M94.0 188.0h0M90.4 189.4h0M93.9 188.8h0M76.5 201.1h0M79.5 200.1h0M89.8 194.0h0M81.4 199.3h0M84.2 195.2h0M80.6 197.0h0M80.1 199.6h0M92.1 190.7h0M91.0 190.2h0M93.3 190.0h0M93.2 189.1h0M81.4 197.7h0M90.4 190.4h0M87.5 191.0h0M79.8 199.3h0M76.0 199.5h0M83.1 190.6h0M90.4 192.2h0M82.1 196.7h0M92.8 189.2h0M86.4 193.1h0M91.1 190.7h0M81.2 197.3h0M80.6 199.0h0M81.8 195.5h0M87.0 193.8h0M87.4 194.6h0M90.7 191.8h0M80.8 198.5h0M93.9 187.7h0M91.4 188.8h0M80.2 201.8h0M91.0 190.4h0M91.8 187.9h0M78.6 199.9h0M81.7 205.5h0M96.5 186.1h0M87.2 193.8h0M84.5 197.7h0M88.2 192.8h0M84.8 197.4h0M90.2 191.9h0M81.4 195.8h0M85.9 194.9h0M88.7 189.8h0M86.4 193.9h0M88.7 195.5h0M83.9 198.3h0M81.2 200.6h0M77.8 202.3h0M82.1 201.5h0M81.1 204.3h0M82.2 198.3h0M84.5 197.0h0M80.3 198.8h0M88.4 193.4h0M84.6 198.6h0M78.7 198.9h0M93.3 186.3h0M90.3 189.1h0M95.6 187.6h0M84.0 195.7h0M90.1 188.4h0M77.2 198.8h0M92.8 188.6h0M82.6 198.7h0M76.9 200.4h0M91.2 189.4h0M77.7 200.1h0M77.9 200.3h0M93.0 189.4h0M75.7 200.1h0M80.3 202.8h0M88.0 192.7h0M76.5 200.6h0M87.2 194.3h0M90.9 190.8h0M94.9 190.1h0M80.9 199.6h0M86.4 193.0h0M96.7 187.0h0M82.7 197.1h0M79.2 199.9h0M81.3 197.4h0M88.3 192.3h0M91.3 190.9h0M86.8 194.9h0M95.8 184.5h0M88.2 197.0h0M90.5 191.3h0M85.9 193.5h0M96.3 188.7h0M85.1 198.5h0M91.7 190.0h0M82.8 198.4h0M83.1 196.0h0M84.9 194.6h0M90.0 189.7h0M99.7 184.0h0M107.2 175.9h0M97.7 185.8h0M109.2 173.8h0M104.8 178.5h0M107.9 175.5h0M98.0 184.0h0M106.9 176.5h0M105.8 178.5h0M109.1 175.4h0M106.2 175.8h0M108.2 178.0h0M112.5 170.9h0M101.1 181.1h0M99.0 185.4h0M101.3 182.5h0M115.9 169.8h0M98.2 182.2h0M116.3 170.3h0M104.9 180.3h0M101.8 181.7h0M105.2 181.7h0M103.4 177.3h0M115.0 169.2h0M97.3 185.1h0M101.6 180.6h0M108.3 176.2h0M97.2 184.5h0M101.4 184.1h0M109.8 174.7h0M97.2 185.3h0M100.0 184.0h0M112.1 172.4h0M101.1 182.2h0M104.9 178.4h0M105.2 179.6h0M101.6 178.5h0M97.6 182.7h0M103.5 178.4h0M107.6 177.4h0M107.0 179.2h0M107.5 177.1h0M98.2 186.7h0M107.8 176.9h0M108.8 175.2h0M108.9 173.7h0M100.0 184.5h0M97.7 183.6h0M104.6 177.7h0M106.6 177.0h0M111.1 174.5h0M107.5 177.1h0M114.1 169.9h0M102.3 183.6h0M112.0 174.4h0M109.2 174.7h0M102.3 183.1h0M116.8 168.0h0M114.1 171.2h0M105.5 180.5h0M113.8 170.7h0M101.0 183.4h0M108.5 174.6h0M112.4 174.2h0M108.0 176.7h0M99.3 182.0h0M113.7 169.5h0M113.0 174.7h0M98.1 186.5h0M103.2 182.0h0M112.8 172.0h0M102.4 180.6h0M102.8 181.1h0M108.3 173.6h0M106.9 174.9h0M110.6 174.3h0M106.2 177.8h0M101.7 181.4h0M106.5 177.2h0M106.8 177.4h0M100.5 181.7h0M101.3 179.5h0M114.4 169.6h0M113.1 170.1h0M109.5 175.3h0M112.8 171.6h0M106.9 180.4h0M109.4 175.9h0M105.3 175.9h0M102.2 182.9h0M114.2 172.2h0M101.5 182.0h0M98.9 182.2h0M100.8 183.6h0M107.6 178.1h0M105.2 179.9h0M104.0 178.6h0M116.5 168.4h0M112.4 172.4h0M111.8 175.3h0M115.3 170.0h0M97.9 184.0h0M98.4 184.3h0M104.2 176.7h0M106.8 179.2h0M102.3 178.8h0M100.4 183.3h0M112.0 172.6h0M114.5 188.1h0M100.9 183.4h0M113.8 171.0h0M104.6 179.4h0M122.3 157.3h0M133.4 151.9h0M118.4 168.0h0M126.8 157.3h0M118.4 165.8h0M134.8 151.4h0M131.5 152.9h0M121.3 163.3h0M134.7 149.4h0M125.8 160.4h0M134.9 149.4h0M118.0 167.0h0M125.1 159.1h0M135.6 151.7h0M122.3 164.2h0M119.5 167.3h0M117.5 167.4h0M121.4 162.4h0M125.9 158.9h0M132.5 152.3h0M118.4 167.0h0M117.2 168.1h0M119.0 164.4h0M120.1 161.2h0M127.9 159.2h0M123.5 163.0h0M131.4 154.3h0M135.5 148.6h0M134.4 152.9h0M117.8 164.3h0M134.4 147.9h0M134.2 154.7h0M132.2 152.6h0M120.3 165.5h0M130.7 155.6h0M129.1 154.0h0M129.7 155.7h0M125.9 156.6h0M132.6 151.7h0M123.8 162.4h0M121.7 164.9h0M121.8 160.9h0M122.0 161.2h0M135.9 151.0h0M121.4 163.0h0M142.5 164.0h0M122.9 163.9h0M127.0 160.1h0M137.0 149.5h0M127.6 157.6h0M117.6 168.2h0M120.3 163.8h0M126.0 159.9h0M127.8 157.3h0M118.6 164.6h0M145.3 140.2h0M147.9 137.4h0M150.3 139.1h0M155.4 133.3h0M145.2 143.6h0M147.3 138.9h0M139.9 147.4h0M139.8 144.9h0M140.0 146.9h0M144.7 142.6h0M136.5 147.8h0M143.9 143.6h0M142.5 143.6h0M138.5 148.7h0M153.7 133.1h0M147.3 137.7h0M138.3 148.3h0M146.7 141.0h0M140.8 144.1h0M138.8 146.5h0M152.2 134.2h0M143.3 143.3h0M161.6 124.5h0M167.3 126.2h0M175.2 114.2h0M165.2 123.4h0M157.9 129.2h0M169.1 120.4h0M172.8 116.4h0M152.0 112.5h0M158.1 129.3h0M174.7 115.7h0M158.6 132.2h0M161.0 128.1h0M158.5 130.8h0M182.6 108.2h0M196.5 92.9h0M194.8 95.3h0M186.0 103.8h0M176.3 112.2h0M195.2 95.1h0M184.7 106.5h0M189.8 103.6h0M190.6 99.0h0M196.0 93.8h0M176.2 112.0h0M202.1 86.2h0M201.4 87.5h0M207.9 82.3h0M193.3 89.5h0M199.8 88.4h0M202.9 87.9h0M205.9 83.2h0M197.3 93.4h0M195.4 85.9h0M208.8 82.4h0M202.5 85.1h0M207.3 80.7h0M209.2 78.1h0M216.1 67.7h0M215.8 64.8h0M220.2 59.8h0M219.7 62.3h0M228.6 67.3h0M217.2 65.8h0M210.6 77.0h0M215.7 68.1h0M213.5 70.7h0M212.0 74.3h0M219.4 61.5h0M218.1 64.0h0M211.8 73.6h0M213.9 69.6h0M219.3 63.7h0M215.9 63.5h0M210.1 77.1h0M217.8 64.0h0M216.1 66.2h0M217.9 59.8h0M214.4 71.4h0M217.5 64.0h0M216.1 66.6h0M233.7 53.2h0M237.9 47.1h0M241.8 46.2h0M230.0 58.4h0M228.2 68.1h0M235.1 55.7h0M238.9 49.0h0M234.6 47.2h0M228.0 54.7h0M224.3 66.7h0M233.7 52.0h0M226.5 60.2h0M234.0 46.6h0M225.1 63.0h0M235.6 60.3h0M228.7 58.3h0M223.0 63.3h0M227.5 60.2h0M233.9 55.4h0M238.3 47.4h0M233.7 54.8h0M237.5 43.3h0M235.0 54.7h0M239.3 48.2h0M242.0 48.5h0M242.4 34.4h0M242.9 41.5h0M242.1 33.5h0M242.0 37.7h0M241.6 33.3h0M251.0 35.8h0M254.4 30.3h0M255.3 26.4h0M250.7 34.7h0M255.4 25.8h0M243.9 41.6h0M248.9 39.0h0M256.8 26.2h0M253.0 34.0h0M257.0 27.8h0M220.1 59.1h0M219.3 62.2h0M219.6 59.8h0M214.7 72.6h0M214.2 71.5h0M219.9 59.0h0M213.5 72.1h0M217.9 65.9h0M215.9 63.7h0M218.2 60.5h0M216.3 66.3h0M217.2 68.7h0" stroke="#000" stroke-opacity="0.45" stroke-width="2.2" stroke-linecap="round" fill="none"/><path d="M42.6 224.2h0M53.8 217.7h0M51.8 218.8h0M45.9 220.0h0M51.4 218.4h0M44.8 218.8h0M51.5 215.7h0M41.8 222.1h0M44.7 219.7h0M57.0 215.1h0M43.4 222.3h0M50.8 218.0h0M48.7 218.7h0M48.6 216.7h0M47.0 214.5h0M47.4 220.8h0M52.6 216.1h0M51.3 215.0h0M44.1 218.2h0M49.5 217.0h0M47.0 217.0h0M51.7 215.1h0M41.1 222.6h0M49.7 217.2h0M53.0 215.9h0M42.9 221.4h0M51.3 217.2h0M54.7 217.3h0M54.8 215.6h0M50.7 218.6h0M51.2 216.8h0M42.1 220.6h0M42.8 220.5h0M54.6 214.5h0M52.2 216.6h0M45.4 221.9h0M47.5 218.8h0M44.2 218.4h0M45.1 219.6h0M48.5 214.8h0M51.5 214.5h0M42.3 218.4h0M56.7 214.2h0M56.8 214.1h0M46.7 217.0h0M54.9 214.1h0M50.7 216.9h0M50.4 215.8h0M56.9 217.1h0M45.7 221.9h0M53.9 214.4h0M50.2 217.9h0M39.5 219.0h0M55.2 214.4h0M44.5 220.9h0M44.0 221.9h0M51.3 217.9h0M56.0 215.9h0M43.3 220.5h0M45.8 218.1h0M49.1 214.9h0M50.8 204.7h0M44.9 219.8h0M53.7 212.9h0M50.9 219.9h0M54.0 228.4h0M49.4 214.9h0M50.1 221.3h0M49.3 216.2h0M50.8 213.6h0M43.1 224.4h0M52.1 212.8h0M54.0 215.5h0M55.8 216.2h0M50.0 218.7h0M50.6 212.9h0M48.5 218.4h0M49.9 215.7h0M51.9 216.1h0M45.5 220.9h0M49.4 215.3h0M53.7 218.3h0M42.5 222.3h0M49.0 219.9h0M39.9 219.9h0M55.1 212.7h0M50.9 216.3h0M51.3 217.4h0M39.8 219.7h0M55.1 215.5h0M52.5 215.4h0M55.2 216.0h0M50.9 217.1h0M44.9 221.3h0M44.8 218.8h0M42.6 220.3h0M46.7 219.7h0M52.9 218.7h0M54.2 222.6h0M40.7 218.5h0M46.2 218.1h0M51.9 218.9h0M53.3 216.2h0M41.5 219.3h0M53.5 216.9h0M52.1 216.8h0M55.9 215.4h0M40.2 220.7h0M45.9 219.2h0M53.5 216.7h0M47.1 218.1h0M53.7 216.7h0M51.0 218.0h0M47.1 217.5h0M53.0 217.8h0M48.7 216.8h0M41.1 220.2h0M52.0 218.1h0M50.1 218.1h0M47.5 224.1h0M40.7 221.1h0M47.5 216.9h0M40.5 223.1h0M47.4 222.0h0M51.2 216.5h0M45.3 220.4h0M43.0 219.1h0M48.2 217.5h0M51.2 216.9h0M55.2 214.8h0M54.3 214.7h0M51.5 217.2h0M54.8 212.5h0M52.4 214.1h0M47.7 215.7h0M53.4 215.2h0M53.9 216.1h0M51.3 218.6h0M41.3 224.7h0M43.3 219.9h0M54.1 215.4h0M40.3 220.4h0M47.7 218.7h0M53.6 218.0h0M56.9 216.5h0M52.7 216.9h0M44.4 222.3h0M50.5 220.1h0M49.3 215.3h0M45.8 217.5h0M45.4 220.4h0M49.4 219.1h0M47.2 217.4h0M50.0 217.7h0M39.6 220.6h0M53.9 217.1h0M42.7 220.7h0M46.0 217.7h0M44.5 219.6h0M53.1 217.3h0M45.5 217.6h0M40.2 221.5h0M50.9 217.3h0M43.9 218.8h0M55.6 214.3h0M50.9 226.7h0M49.7 216.6h0M46.2 220.4h0M42.6 221.6h0M52.3 217.4h0M46.7 217.3h0M56.2 215.9h0M44.0 219.8h0M46.3 218.8h0M53.0 213.9h0M50.5 216.8h0M45.4 219.6h0M47.4 220.1h0M43.6 219.9h0M48.3 217.6h0M52.9 215.9h0M52.8 217.9h0M41.1 219.8h0M47.8 217.5h0M52.3 218.1h0M47.2 219.9h0M46.0 219.7h0M40.3 222.2h0M55.4 241.0h0M48.7 218.4h0M52.9 216.1h0M57.6 216.8h0M48.3 216.1h0M45.7 220.0h0M40.7 221.5h0M55.0 214.6h0M43.3 220.8h0M45.4 218.4h0M49.5 219.5h0M52.9 219.6h0M51.6 219.1h0M44.8 217.7h0M54.7 214.7h0M52.4 215.4h0M47.4 219.6h0M48.9 216.0h0M48.5 216.6h0M50.7 218.0h0M47.0 220.6h0M50.4 218.7h0M43.2 220.7h0M44.5 222.5h0M44.7 219.2h0M43.3 218.0h0M51.3 216.8h0M49.6 214.7h0M48.3 218.9h0M52.5 218.2h0M42.9 224.0h0M56.6 215.5h0M54.0 216.4h0M52.9 218.1h0M42.3 219.2h0M41.3 220.9h0M52.8 217.9h0M39.2 220.2h0M40.9 221.5h0M53.3 216.3h0M47.4 216.8h0M47.8 218.7h0M41.3 222.5h0M41.6 218.8h0M41.2 220.6h0M46.0 218.9h0M54.8 214.5h0M43.1 221.0h0M40.3 218.9h0M49.9 218.4h0M40.6 218.4h0M43.6 225.0h0M53.2 215.8h0M49.4 220.3h0M40.3 222.3h0M48.0 218.3h0M45.5 218.6h0M48.9 218.5h0M46.7 221.2h0M45.7 220.8h0M54.4 214.5h0M55.6 216.5h0M55.0 216.1h0M41.1 220.0h0M43.5 219.4h0M43.6 221.9h0M55.7 214.8h0M53.3 216.2h0M53.7 215.6h0M56.8 218.9h0M54.5 213.2h0M53.1 218.1h0M45.2 218.9h0M45.4 220.7h0M41.0 220.3h0M47.6 218.4h0M52.1 217.2h0M40.7 223.5h0M43.2 219.0h0M50.9 214.1h0M42.0 221.7h0M47.8 217.3h0M51.2 218.3h0M45.6 219.0h0M52.5 216.7h0M45.1 221.5h0M51.8 217.9h0M45.0 224.1h0M44.6 220.7h0M42.8 219.7h0M52.1 217.1h0M56.0 215.5h0M55.2 216.2h0M42.5 221.4h0M51.0 215.2h0M51.5 217.0h0M45.9 220.4h0M51.1 217.1h0M44.3 218.8h0M44.7 221.7h0M46.1 218.9h0M55.3 213.5h0M51.0 215.6h0M52.1 217.6h0M42.5 220.6h0M56.5 214.6h0M42.7 223.0h0M44.6 221.5h0M48.2 219.0h0M54.2 217.2h0M41.3 220.9h0M52.3 217.8h0M40.7 223.6h0M51.7 216.3h0M40.6 221.6h0M53.9 212.1h0M46.1 218.8h0M46.8 219.4h0M43.9 222.3h0M50.6 216.4h0M56.4 214.6h0M53.3 218.4h0M47.8 219.2h0M50.8 220.5h0M56.8 217.6h0M53.2 215.7h0M42.5 217.9h0M52.8 214.5h0M40.5 222.6h0M76.4 205.5h0M59.6 211.8h0M71.6 204.2h0M59.6 211.8h0M76.6 203.1h0M70.3 205.3h0M61.6 210.6h0M76.0 206.1h0M74.1 203.8h0M62.9 209.7h0M60.5 208.7h0M65.3 209.5h0M69.0 206.5h0M59.9 213.5h0M72.1 205.1h0M72.2 205.3h0M75.4 203.0h0M68.7 206.2h0M70.3 206.3h0M63.2 209.9h0M74.3 207.6h0M74.7 204.1h0M75.8 202.7h0M73.4 204.8h0M65.2 210.2h0M68.4 208.6h0M61.8 213.4h0M64.1 207.6h0M67.7 206.6h0M62.5 214.2h0M68.6 208.1h0M58.4 211.8h0M57.7 214.7h0M76.5 202.4h0M67.7 206.4h0M64.4 211.6h0M66.9 209.2h0M67.1 208.9h0M61.9 209.5h0M60.1 211.2h0M58.0 212.2h0M58.1 214.8h0M61.9 213.3h0M73.4 203.3h0M71.0 204.1h0M69.6 207.9h0M73.0 204.9h0M59.2 215.2h0M72.0 202.5h0M57.4 215.0h0M61.2 213.9h0M67.0 208.4h0M62.0 209.5h0M65.4 209.1h0M71.2 204.0h0M63.7 211.9h0M71.2 207.6h0M72.2 204.6h0M69.6 208.5h0M68.7 206.3h0M71.2 207.4h0M71.6 206.0h0M69.6 203.3h0M59.7 213.0h0M75.6 204.0h0M74.6 205.8h0M63.2 211.1h0M60.0 213.2h0M66.5 212.2h0M65.5 209.2h0M73.0 201.9h0M62.3 213.5h0M58.7 213.7h0M64.7 209.7h0M76.0 200.6h0M66.9 209.4h0M76.2 203.2h0M58.2 212.4h0M61.3 215.3h0M62.2 213.1h0M63.4 210.1h0M61.4 211.4h0M70.4 205.2h0M63.1 211.0h0M68.0 208.5h0M77.9 203.6h0M56.2 211.6h0M74.5 203.7h0M69.7 206.7h0M61.4 210.8h0M67.9 208.0h0M61.6 211.2h0M59.2 212.8h0M57.4 213.2h0M73.5 201.7h0M65.3 210.7h0M65.6 207.1h0M59.1 213.0h0M61.3 210.5h0M69.2 207.9h0M57.9 212.0h0M60.5 214.8h0M66.2 208.5h0M70.0 208.5h0M76.5 202.6h0M57.0 211.2h0M66.8 209.5h0M55.5 211.3h0M59.0 214.5h0M70.4 203.7h0M71.7 205.4h0M77.1 203.5h0M60.2 214.6h0M59.5 213.2h0M60.1 210.6h0M59.7 218.1h0M73.3 203.1h0M75.0 206.8h0M66.8 209.2h0M71.6 205.7h0M67.9 204.5h0M59.7 214.5h0M74.0 205.5h0M58.7 214.4h0M73.4 202.5h0M68.9 208.0h0M67.4 206.3h0M65.3 208.3h0M68.2 208.1h0M59.1 212.0h0M66.2 206.9h0M71.6 202.5h0M68.9 208.6h0M62.5 211.0h0M76.5 204.2h0M72.0 208.8h0M67.7 207.3h0M75.6 202.3h0M73.7 207.7h0M69.1 207.2h0M61.2 210.5h0M63.3 210.5h0M71.2 206.8h0M73.3 206.3h0M62.3 213.0h0M63.1 208.5h0M71.1 207.5h0M62.4 212.5h0M64.2 208.6h0M65.8 211.4h0M69.8 207.0h0M66.3 210.6h0M74.1 205.8h0M59.4 211.6h0M70.2 207.4h0M60.3 211.9h0M67.0 207.8h0M71.3 204.2h0M66.0 200.3h0M58.1 209.7h0M59.2 201.3h0M66.7 205.4h0M69.3 209.2h0M58.7 212.7h0M61.5 212.6h0M62.8 210.7h0M58.0 212.8h0M67.8 208.3h0M59.7 211.5h0M65.8 209.6h0M64.9 210.7h0M62.7 211.2h0M60.3 212.2h0M66.4 211.2h0M66.8 209.3h0M59.5 214.2h0M62.2 209.7h0M73.6 204.2h0M60.2 212.3h0M66.1 208.2h0M63.7 211.0h0M72.3 203.3h0M58.0 213.5h0M65.2 208.1h0M61.3 210.0h0M69.0 207.6h0M65.8 216.1h0M66.8 210.2h0M59.2 215.2h0M70.5 205.1h0M60.3 213.6h0M71.8 205.9h0M60.7 211.9h0M59.6 212.2h0M74.3 203.9h0M76.3 202.3h0M74.9 203.0h0M60.5 211.6h0M75.7 203.5h0M66.6 208.6h0M68.8 209.5h0M74.5 203.0h0M73.0 202.5h0M74.6 201.8h0M74.8 202.3h0M63.5 210.1h0M72.3 204.3h0M74.8 201.8h0M70.2 204.4h0M75.2 202.0h0M73.2 204.1h0M76.2 202.6h0M72.1 204.5h0M68.0 208.6h0M68.3 207.2h0M71.7 207.1h0M57.4 211.7h0M74.3 203.8h0M66.2 210.5h0M69.9 204.2h0M65.6 211.1h0M66.3 209.8h0M68.0 209.6h0M66.8 209.5h0M62.5 208.4h0M67.0 208.1h0M61.5 212.3h0M59.9 212.7h0M59.2 213.9h0M62.3 211.4h0M59.0 211.8h0M70.7 207.6h0M65.9 207.6h0M69.2 206.8h0M75.8 203.3h0M76.6 202.3h0M77.5 204.1h0M62.5 211.4h0M62.9 209.3h0M56.5 211.2h0M66.4 207.9h0M57.5 213.4h0M71.1 204.8h0M62.5 209.6h0M75.2 205.1h0M73.7 226.7h0M71.0 204.3h0M66.3 209.1h0M58.8 210.8h0M67.0 207.5h0M76.1 201.7h0M63.0 210.5h0M59.5 212.7h0M73.9 203.8h0M68.2 205.9h0M66.5 211.7h0M66.2 209.2h0M60.4 210.6h0M66.1 210.2h0M68.6 212.2h0M61.6 210.7h0M69.0 208.6h0M61.3 210.3h0M70.5 204.8h0M61.2 213.2h0M64.6 207.4h0M76.1 203.9h0M74.3 200.4h0M72.7 206.3h0M61.6 212.3h0M63.3 213.1h0M74.7 203.4h0M76.2 203.8h0M66.7 209.1h0M60.8 214.2h0M59.8 211.8h0M66.6 209.2h0M67.9 207.0h0M73.6 210.1h0M71.0 206.8h0M68.5 202.7h0M58.7 211.9h0M57.8 215.0h0M62.8 212.7h0M56.9 213.7h0M66.0 200.0h0M69.3 208.3h0M71.9 206.2h0M58.6 210.9h0M63.6 211.5h0M72.5 216.0h0M63.6 209.2h0M73.5 202.6h0M70.5 205.0h0M68.7 206.3h0M64.6 208.3h0M72.4 204.5h0M75.5 204.9h0M57.1 212.9h0M68.3 204.4h0M72.1 210.2h0M74.1 207.2h0M58.0 211.8h0M68.8 207.5h0M71.4 205.3h0M87.4 189.9h0M88.5 189.0h0M92.7 190.2h0M87.4 194.5h0M85.2 197.2h0M90.9 189.7h0M85.0 195.9h0M82.9 197.5h0M92.2 187.3h0M82.1 198.1h0M79.7 195.4h0M83.1 194.5h0M83.8 194.2h0M85.8 191.7h0M79.1 199.7h0M84.5 196.0h0M89.7 190.8h0M91.3 190.4h0M86.5 194.4h0M81.0 199.3h0M88.3 192.2h0M86.7 194.7h0M92.3 189.8h0M90.2 191.6h0M85.0 193.2h0M97.7 187.5h0M79.4 199.2h0M94.6 187.4h0M97.3 186.3h0M84.0 197.4h0M86.6 195.5h0M88.1 197.5h0M88.8 193.0h0M85.9 194.4h0M89.0 189.9h0M96.2 188.1h0M85.5 195.3h0M80.3 201.3h0M94.7 187.6h0M84.5 194.0h0M90.8 190.8h0M86.7 191.9h0M89.1 192.9h0M85.9 195.2h0M95.5 188.5h0M80.1 198.9h0M85.3 196.9h0M94.6 187.7h0M87.2 194.4h0M87.1 196.0h0M81.6 199.4h0M94.2 187.1h0M85.9 195.7h0M81.0 199.9h0M84.9 197.7h0M81.3 197.3h0M84.5 194.4h0M94.0 188.2h0M94.6 188.2h0M85.7 194.1h0M82.0 196.6h0M96.7 185.6h0M88.2 191.9h0M91.6 189.8h0M77.2 199.4h0M80.0 199.9h0M91.7 189.1h0M91.6 189.8h0M77.5 200.6h0M91.2 187.9h0M87.6 193.2h0M84.9 193.2h0M94.7 188.3h0M76.8 201.6h0M84.4 196.2h0M78.4 191.6h0M78.0 199.2h0M87.5 193.4h0M93.3 188.5h0M77.2 199.5h0M89.8 193.3h0M77.6 202.0h0M77.5 200.9h0M79.5 200.6h0M94.9 187.0h0M89.2 194.8h0M77.8 200.6h0M80.7 198.3h0M85.9 196.7h0M77.0 197.8h0M79.6 200.9h0M91.8 190.1h0M81.4 201.2h0M81.6 198.0h0M81.4 198.7h0M87.2 193.5h0M77.7 202.5h0M86.8 193.4h0M90.0 191.3h0M81.0 199.0h0M89.1 193.6h0M91.1 191.6h0M83.5 197.9h0M85.2 195.4h0M92.6 187.1h0M93.6 187.9h0M82.5 198.2h0M80.4 198.4h0M87.2 192.0h0M80.7 205.9h0M88.1 193.0h0M80.2 198.0h0M86.2 193.4h0M89.8 191.4h0M91.2 192.2h0M92.9 189.4h0M93.8 187.9h0M80.6 196.0h0M87.2 194.1h0M98.2 188.5h0M91.2 189.6h0M79.7 201.7h0M79.8 201.2h0M79.1 200.6h0M88.2 193.4h0M87.4 194.8h0M92.1 190.8h0M98.1 189.1h0M89.9 192.7h0M97.6 187.3h0M86.7 191.6h0M95.7 187.8h0M85.5 195.7h0M91.1 191.1h0M79.0 200.0h0M95.4 187.7h0M91.8 193.1h0M87.7 192.8h0M89.2 192.1h0M82.9 196.7h0M89.4 189.8h0M93.7 189.6h0M94.6 187.5h0M87.1 198.5h0M93.7 188.1h0M78.1 202.5h0M89.7 190.2h0M90.5 192.3h0M91.1 191.2h0M88.9 193.8h0M82.6 198.9h0M80.6 194.2h0M92.6 187.7h0M82.6 196.6h0M86.8 194.1h0M85.9 192.0h0M92.7 189.7h0M83.1 193.6h0M85.1 198.5h0M91.9 189.4h0M83.9 194.4h0M78.7 199.7h0M96.1 187.1h0M88.1 194.4h0M83.2 196.6h0M85.8 194.3h0M85.9 193.3h0M79.6 203.0h0M90.0 190.9h0M97.4 187.0h0M93.9 187.0h0M86.4 195.4h0M93.1 188.3h0M97.1 188.0h0M82.6 198.7h0M86.1 193.2h0M81.3 197.0h0M95.9 186.0h0M95.6 186.8h0M88.7 193.5h0M85.8 194.9h0M83.7 198.0h0M96.2 192.6h0M97.0 187.6h0M84.2 194.8h0M78.9 201.3h0M81.5 201.1h0M87.1 193.9h0M92.0 190.5h0M80.6 200.4h0M95.4 185.4h0M88.1 193.6h0M79.8 200.7h0M90.7 189.9h0M86.9 193.4h0M87.7 194.7h0M77.0 200.5h0M88.9 191.5h0M78.7 198.7h0M92.8 191.0h0M89.5 194.5h0M112.9 171.7h0M105.4 179.3h0M110.4 172.8h0M108.4 174.8h0M105.5 178.8h0M99.0 185.9h0M110.0 175.8h0M112.3 171.2h0M106.0 177.4h0M102.4 177.7h0M111.1 178.1h0M104.4 180.5h0M108.1 176.0h0M112.6 186.4h0M106.8 179.8h0M109.9 174.6h0M105.2 178.7h0M105.8 178.2h0M104.5 176.6h0M106.6 177.1h0M99.6 186.8h0M96.5 184.6h0M113.3 170.9h0M102.4 183.0h0M93.6 172.5h0M102.1 182.4h0M108.2 173.7h0M98.5 182.9h0M106.6 177.4h0M100.0 182.0h0M101.6 184.1h0M115.6 167.3h0M105.7 182.3h0M111.4 176.1h0M100.6 183.8h0M102.0 183.7h0M110.5 173.2h0M104.4 177.9h0M109.2 176.5h0M100.3 184.4h0M103.4 180.4h0M115.4 171.0h0M102.2 180.5h0M115.4 168.0h0M102.4 179.7h0M100.8 183.2h0M99.2 182.3h0M100.3 181.2h0M110.7 175.2h0M113.5 171.0h0M109.7 172.8h0M108.7 172.6h0M107.5 178.5h0M96.2 183.8h0M114.4 169.9h0M108.9 176.8h0M101.1 180.6h0M99.6 184.3h0M97.5 186.0h0M111.7 172.5h0M101.8 184.0h0M102.8 181.7h0M110.2 176.5h0M104.3 181.9h0M115.5 168.8h0M114.3 170.7h0M111.5 174.0h0M105.3 178.6h0M109.6 173.4h0M114.6 169.7h0M107.5 173.5h0M116.9 168.6h0M100.9 183.7h0M106.0 178.4h0M107.0 179.5h0M101.5 184.8h0M111.3 174.2h0M102.6 181.0h0M105.9 176.8h0M100.5 181.5h0M108.4 174.2h0M99.0 185.1h0M99.2 183.9h0M109.8 175.6h0M106.6 179.0h0M104.5 178.0h0M110.8 174.2h0M105.7 179.5h0M104.3 177.5h0M109.1 176.1h0M107.7 175.1h0M98.9 179.2h0M102.8 181.4h0M109.5 175.9h0M112.1 172.8h0M96.5 184.1h0M112.9 171.8h0M97.0 184.1h0M112.6 171.2h0M106.8 176.2h0M116.8 168.6h0M115.8 171.5h0M100.1 183.3h0M99.8 183.9h0M99.8 181.3h0M102.1 183.8h0M96.9 184.4h0M105.7 178.3h0M100.3 184.0h0M111.7 175.3h0M112.4 171.5h0M107.2 177.1h0M107.9 178.1h0M127.9 159.3h0M135.4 151.9h0M122.7 160.0h0M128.1 157.4h0M139.6 156.1h0M120.5 165.5h0M130.9 155.9h0M124.3 159.7h0M129.1 156.8h0M122.3 164.4h0M123.4 161.1h0M125.2 160.7h0M131.3 152.9h0M125.2 161.1h0M129.6 153.6h0M117.8 167.5h0M131.3 155.2h0M135.4 151.5h0M129.3 156.5h0M134.3 151.7h0M133.1 152.8h0M135.2 150.5h0M128.4 154.3h0M129.9 156.3h0M130.2 156.4h0M120.9 163.2h0M132.8 151.6h0M130.7 153.5h0M134.2 153.1h0M129.7 157.0h0M122.7 161.9h0M136.2 147.8h0M123.5 163.8h0M119.7 164.9h0M118.6 167.7h0M132.6 154.4h0M124.6 162.5h0M125.7 159.8h0M132.5 152.2h0M122.8 162.2h0M128.6 159.5h0M129.3 154.6h0M123.8 160.6h0M124.9 160.4h0M128.9 157.2h0M119.0 165.3h0M117.6 168.9h0M134.2 150.6h0M136.2 149.8h0M133.4 150.0h0M127.4 156.5h0M132.7 152.8h0M117.6 166.9h0M134.8 152.6h0M131.7 156.1h0M138.6 148.7h0M154.1 133.7h0M144.3 142.0h0M150.6 137.9h0M154.8 132.8h0M143.1 141.0h0M147.1 138.3h0M142.4 143.6h0M147.8 139.2h0M139.2 148.6h0M140.6 146.1h0M143.3 145.4h0M154.7 133.7h0M139.0 146.9h0M144.7 141.1h0M142.9 143.5h0M139.4 147.7h0M137.2 147.9h0M141.1 144.7h0M140.0 146.0h0M151.8 134.9h0M156.2 130.6h0M177.0 114.2h0M166.9 121.2h0M156.0 130.2h0M175.9 113.0h0M170.3 119.5h0M163.2 127.4h0M170.2 120.3h0M172.0 117.0h0M172.2 119.8h0M169.7 116.9h0M171.2 115.3h0M175.1 113.1h0M162.5 125.9h0M190.4 100.2h0M189.4 101.7h0M179.4 111.2h0M176.6 111.7h0M178.7 114.3h0M176.1 111.6h0M179.3 110.7h0M193.1 98.3h0M185.1 107.8h0M176.5 111.0h0M189.0 87.5h0M208.5 80.2h0M209.8 78.2h0M203.2 86.3h0M205.3 83.2h0M211.1 79.1h0M206.0 82.9h0M198.9 93.5h0M198.0 93.0h0M205.5 83.3h0M196.3 92.5h0M206.8 80.6h0M204.2 85.4h0M197.6 91.5h0M220.0 60.4h0M216.4 68.4h0M212.2 72.6h0M212.7 71.8h0M212.2 76.2h0M211.0 74.9h0M216.2 68.9h0M215.1 72.0h0M217.1 65.6h0M218.9 60.3h0M218.2 60.3h0M215.7 66.4h0M219.1 60.2h0M219.1 63.1h0M213.1 72.9h0M216.1 65.8h0M214.8 69.9h0M217.7 66.1h0M209.6 77.4h0M214.4 67.6h0M211.7 75.6h0M212.1 76.8h0M222.8 60.9h0M230.9 58.4h0M240.5 45.5h0M232.2 56.1h0M223.2 65.9h0M235.2 45.9h0M239.1 47.8h0M239.0 47.4h0M222.0 64.1h0M229.8 58.9h0M235.3 56.4h0M223.8 61.7h0M236.7 53.4h0M233.9 56.6h0M227.1 67.0h0M223.5 64.6h0M237.2 50.9h0M234.6 50.8h0M237.7 50.2h0M240.9 48.8h0M232.7 52.4h0M236.1 52.0h0M236.2 51.7h0M232.8 57.7h0M235.8 53.9h0M240.9 35.0h0M241.2 32.1h0M242.0 34.2h0M242.9 33.3h0M243.1 40.1h0M241.0 32.9h0M252.0 30.2h0M256.4 26.5h0M245.8 38.2h0M255.2 28.8h0M245.1 42.8h0M251.6 31.4h0M255.0 31.3h0M252.6 34.4h0M253.5 32.4h0M256.1 27.9h0M215.7 69.7h0M219.9 62.8h0M214.4 66.9h0M211.9 71.6h0M214.4 69.0h0M214.6 69.5h0M217.4 69.2h0M215.0 67.3h0M216.9 59.0h0M215.3 63.0h0M216.8 68.3h0" stroke="#000" stroke-opacity="0.45" stroke-width="2.2" stroke-linecap="round" fill="none"/><path d="M45.1 218.2h0M43.0 217.8h0M52.6 215.2h0M52.9 218.1h0M49.0 217.5h0M40.0 221.6h0M44.0 221.3h0M41.8 221.3h0M40.4 222.2h0M44.9 219.3h0M56.8 215.1h0M48.2 216.7h0M50.6 217.6h0M42.3 222.7h0M43.3 221.2h0M41.7 220.8h0M46.3 218.6h0M49.0 219.6h0M43.9 218.6h0M50.5 217.1h0M46.0 217.4h0M50.5 217.6h0M42.8 223.6h0M45.1 217.7h0M52.5 216.6h0M47.1 218.6h0M48.9 216.0h0M51.8 217.2h0M42.5 221.2h0M44.9 218.2h0M53.4 216.2h0M46.0 222.1h0M50.4 216.1h0M53.0 216.5h0M49.8 215.8h0M52.2 214.4h0M50.0 218.6h0M44.9 221.0h0M52.6 216.2h0M51.4 216.1h0M46.5 218.6h0M46.2 221.5h0M56.4 213.5h0M48.2 216.5h0M48.0 217.7h0M42.3 224.2h0M52.2 216.4h0M56.0 214.9h0M41.8 221.5h0M48.5 217.8h0M40.0 220.5h0M45.6 217.7h0M46.6 218.6h0M56.3 217.3h0M52.4 215.1h0M51.3 217.6h0M40.5 221.4h0M50.7 216.5h0M46.4 219.7h0M47.6 217.1h0M46.2 216.9h0M50.9 216.1h0M50.4 215.6h0M46.6 220.9h0M57.1 215.0h0M48.2 215.2h0M47.8 217.3h0M48.9 220.5h0M55.2 214.5h0M42.9 222.3h0M38.7 216.7h0M55.0 215.3h0M54.2 218.4h0M42.7 220.8h0M47.5 222.3h0M44.5 218.0h0M43.6 221.7h0M51.3 215.5h0M40.9 223.0h0M43.6 217.3h0M56.8 214.9h0M44.9 218.7h0M50.9 219.2h0M55.1 216.1h0M48.3 219.1h0M53.3 215.6h0M47.8 217.9h0M52.2 217.7h0M55.5 212.6h0M41.5 221.1h0M55.0 213.4h0M54.8 218.1h0M52.8 219.0h0M48.9 220.8h0M44.4 218.0h0M50.2 218.3h0M47.2 220.6h0M50.4 218.6h0M52.2 218.1h0M41.6 221.0h0M56.0 215.1h0M49.1 220.1h0M49.5 217.2h0M48.6 220.2h0M51.6 217.5h0M54.1 214.3h0M55.4 212.9h0M41.4 221.5h0M41.9 220.4h0M46.4 218.6h0M51.3 218.0h0M42.6 219.2h0M40.9 221.9h0M55.3 216.5h0M49.1 220.5h0M49.3 218.0h0M55.9 214.4h0M56.3 217.8h0M51.6 216.8h0M41.0 223.3h0M53.1 216.1h0M50.1 219.7h0M52.0 216.4h0M45.8 218.5h0M42.2 219.5h0M46.5 220.4h0M54.0 214.7h0M44.7 218.3h0M43.2 220.3h0M47.5 217.4h0M43.3 222.1h0M47.0 222.4h0M44.1 219.2h0M44.7 219.0h0M50.1 217.6h0M56.7 216.4h0M41.7 221.3h0M54.0 215.7h0M46.7 210.5h0M45.8 219.1h0M45.8 221.5h0M42.0 216.4h0M56.0 216.8h0M46.4 216.5h0M42.3 220.8h0M48.7 218.6h0M53.9 213.7h0M41.6 223.7h0M49.1 219.6h0M53.4 213.2h0M48.9 218.6h0M48.5 216.2h0M43.4 218.3h0M45.1 219.3h0M41.5 221.4h0M56.3 214.3h0M49.3 219.3h0M50.0 214.6h0M41.4 221.1h0M51.7 218.6h0M52.9 214.1h0M45.7 219.2h0M41.7 224.8h0M49.8 216.9h0M57.3 216.5h0M46.9 230.8h0M54.1 215.8h0M47.1 214.5h0M43.2 220.1h0M45.1 221.8h0M49.3 218.5h0M46.0 219.1h0M47.3 219.8h0M46.0 217.6h0M55.7 214.3h0M48.7 218.1h0M43.1 219.0h0M50.8 214.9h0M45.6 218.3h0M48.1 221.1h0M49.9 219.2h0M44.9 219.5h0M45.0 218.1h0M48.5 219.6h0M54.9 215.1h0M40.9 221.0h0M45.4 219.9h0M52.8 216.4h0M56.4 216.9h0M55.6 215.2h0M41.4 219.0h0M41.6 220.2h0M42.2 219.3h0M50.7 216.2h0M45.0 218.0h0M52.8 218.8h0M47.5 218.7h0M48.8 216.6h0M54.7 213.4h0M55.3 215.0h0M55.4 215.0h0M46.6 217.9h0M49.2 217.0h0M52.4 216.8h0M45.1 218.4h0M44.6 222.2h0M40.0 218.5h0M53.7 215.2h0M44.8 220.7h0M43.6 221.1h0M53.7 215.8h0M45.8 220.2h0M41.1 221.7h0M46.1 221.5h0M55.6 215.8h0M44.4 223.0h0M41.3 223.6h0M46.9 220.5h0M50.4 219.4h0M44.3 221.9h0M53.4 217.7h0M41.1 221.1h0M49.1 217.4h0M52.5 216.3h0M48.8 214.1h0M50.3 217.1h0M43.2 220.9h0M50.7 217.6h0M43.1 220.9h0M52.6 217.0h0M44.8 222.4h0M41.1 222.4h0M47.0 218.8h0M40.1 222.0h0M51.5 215.1h0M45.3 220.4h0M46.4 218.4h0M44.7 220.3h0M42.2 221.8h0M55.6 213.5h0M57.1 216.5h0M46.3 218.4h0M53.3 215.4h0M47.7 216.5h0M55.6 214.0h0M56.1 217.7h0M42.0 221.7h0M55.0 216.1h0M45.7 217.9h0M41.9 224.0h0M48.3 219.3h0M53.4 216.4h0M52.8 216.3h0M56.0 216.9h0M43.2 219.8h0M43.6 220.3h0M56.3 214.5h0M56.7 214.6h0M56.1 213.7h0M39.5 219.1h0M46.5 219.4h0M48.1 220.3h0M41.1 220.2h0M43.5 221.3h0M49.3 215.8h0M55.4 215.4h0M52.2 217.9h0M46.2 219.2h0M49.7 225.3h0M42.6 219.3h0M46.9 219.8h0M43.3 220.0h0M50.5 216.2h0M57.1 216.0h0M43.1 220.6h0M54.7 218.7h0M41.2 221.6h0M43.6 222.0h0M52.4 219.4h0M45.9 219.7h0M55.1 214.5h0M56.3 216.1h0M50.3 215.0h0M55.9 215.6h0M49.7 218.2h0M49.3 215.8h0M42.4 222.9h0M41.5 219.9h0M49.6 221.7h0M48.0 219.6h0M41.6 221.7h0M49.8 216.5h0M44.1 218.7h0M48.8 218.4h0M56.1 213.3h0M51.8 216.2h0M43.8 218.3h0M51.4 216.7h0M43.0 218.9h0M43.8 218.2h0M51.7 216.4h0M55.0 214.1h0M43.2 221.3h0M44.8 220.7h0M44.4 221.6h0M48.0 218.7h0M46.0 218.3h0M43.5 218.7h0M40.4 220.5h0M41.9 221.8h0M41.4 222.8h0M49.8 218.3h0M52.4 215.5h0M48.8 218.0h0M44.5 220.3h0M42.8 222.0h0M42.6 220.9h0M65.3 207.5h0M60.5 212.8h0M58.6 215.5h0M60.5 216.3h0M68.6 208.9h0M76.5 202.2h0M59.5 212.7h0M75.7 202.7h0M62.3 212.2h0M68.9 205.7h0M66.6 208.8h0M63.7 207.4h0M61.3 211.7h0M63.1 211.8h0M75.6 201.5h0M64.9 206.7h0M56.8 213.8h0M76.0 204.0h0M65.7 210.0h0M63.1 209.2h0M64.9 207.6h0M62.0 211.1h0M67.8 206.7h0M70.5 205.7h0M63.7 210.3h0M57.7 214.0h0M69.4 206.1h0M59.9 212.7h0M77.2 202.6h0M58.7 210.4h0M61.0 213.2h0M61.8 212.8h0M70.4 206.9h0M60.6 211.6h0M76.2 203.1h0M73.7 205.6h0M65.3 212.6h0M66.2 209.3h0M69.3 208.9h0M62.1 210.2h0M69.0 205.1h0M59.1 215.0h0M74.9 202.1h0M76.3 202.7h0M71.8 206.2h0M72.3 203.8h0M72.9 202.3h0M67.9 205.0h0M58.1 213.5h0M63.5 212.1h0M73.7 203.0h0M60.2 211.2h0M72.7 203.1h0M59.5 214.0h0M71.6 205.4h0M75.2 202.5h0M60.4 214.7h0M56.9 214.0h0M75.6 203.3h0M66.8 210.3h0M56.1 212.9h0M67.8 213.6h0M67.3 207.4h0M67.9 207.9h0M58.5 211.9h0M68.3 209.4h0M73.4 202.6h0M70.3 207.1h0M64.0 210.4h0M69.4 208.2h0M64.8 209.9h0M69.3 204.5h0M61.3 209.4h0M68.0 219.2h0M74.5 205.7h0M65.1 210.8h0M65.2 208.6h0M76.4 203.4h0M71.6 205.6h0M62.2 208.4h0M67.8 205.9h0M73.3 203.9h0M67.8 208.7h0M64.7 208.5h0M61.0 212.1h0M59.3 210.0h0M65.6 208.7h0M64.9 210.3h0M61.0 210.4h0M69.5 209.9h0M66.3 209.7h0M67.5 209.3h0M76.4 201.8h0M73.1 204.9h0M62.8 212.3h0M73.3 202.8h0M63.4 210.8h0M71.5 207.2h0M63.4 207.4h0M69.3 203.1h0M73.8 206.7h0M69.2 209.6h0M66.6 207.2h0M71.0 205.8h0M68.4 207.7h0M64.5 209.1h0M72.9 202.7h0M61.1 211.1h0M70.6 209.2h0M67.6 207.3h0M61.8 212.9h0M67.1 208.4h0M63.3 210.8h0M60.0 211.8h0M63.6 211.3h0M65.9 209.1h0M70.1 209.9h0M70.7 207.9h0M61.2 211.6h0M75.0 201.0h0M58.5 212.6h0M64.4 210.6h0M59.2 213.6h0M58.2 213.5h0M74.1 203.7h0M59.3 211.3h0M65.3 210.5h0M68.5 209.9h0M59.4 212.9h0M60.4 210.9h0M68.7 206.3h0M62.2 209.7h0M62.9 211.6h0M69.1 207.9h0M72.8 203.5h0M64.5 210.1h0M68.1 207.6h0M77.4 204.3h0M65.8 208.5h0M68.7 227.8h0M51.4 201.9h0M76.2 205.1h0M62.6 210.2h0M74.4 206.3h0M64.0 209.5h0M74.9 202.1h0M60.0 215.6h0M63.8 210.4h0M58.3 212.8h0M63.7 212.2h0M57.2 214.8h0M60.1 210.7h0M61.8 210.0h0M71.7 207.5h0M57.9 213.6h0M57.4 214.6h0M59.6 214.9h0M69.3 208.2h0M63.5 212.4h0M76.8 207.9h0M75.6 201.9h0M65.9 209.2h0M64.2 208.6h0M70.7 206.4h0M77.2 204.1h0M74.4 204.8h0M57.4 208.4h0M74.8 203.3h0M66.9 209.0h0M75.7 205.0h0M76.1 202.3h0M59.5 211.7h0M58.1 214.0h0M75.4 202.1h0M60.4 213.2h0M61.8 208.3h0M75.5 202.9h0M71.2 205.4h0M60.0 211.1h0M72.4 204.9h0M58.5 215.1h0M67.9 208.9h0M65.4 210.4h0M64.2 213.0h0M62.1 209.9h0M60.1 211.3h0M66.4 206.4h0M64.4 207.3h0M72.1 206.9h0M72.2 207.8h0M61.5 212.1h0M63.5 212.7h0M71.8 201.8h0M71.2 206.5h0M58.4 213.6h0M60.9 211.4h0M74.1 202.1h0M61.8 211.2h0M60.1 213.2h0M60.5 210.8h0M63.4 218.5h0M73.1 205.1h0M66.6 207.8h0M63.5 210.5h0M65.5 212.0h0M77.2 204.0h0M58.0 215.2h0M62.8 209.1h0M60.5 211.1h0M71.8 205.4h0M68.0 208.1h0M57.7 212.1h0M72.5 206.0h0M64.2 212.2h0M59.7 212.0h0M61.9 212.1h0M58.3 216.1h0M60.1 213.1h0M58.3 215.1h0M73.6 206.0h0M75.2 202.3h0M66.1 208.0h0M63.9 206.5h0M63.1 207.9h0M60.3 210.9h0M66.1 209.5h0M75.6 202.1h0M72.4 204.0h0M65.3 208.7h0M63.9 210.2h0M59.4 213.3h0M64.1 207.6h0M58.7 212.2h0M71.6 204.6h0M70.6 206.3h0M72.3 204.2h0M62.6 210.4h0M76.1 204.7h0M61.3 212.8h0M74.3 200.9h0M65.2 207.4h0M62.3 210.9h0M67.0 208.9h0M72.6 203.8h0M61.3 210.5h0M69.9 205.7h0M58.9 213.1h0M66.3 206.7h0M68.6 205.2h0M61.3 210.6h0M63.8 208.7h0M67.1 209.6h0M76.8 203.7h0M62.1 213.3h0M71.5 207.7h0M66.2 210.2h0M58.2 214.5h0M68.9 207.6h0M61.3 211.6h0M61.9 211.4h0M61.7 212.7h0M60.5 208.9h0M71.4 206.1h0M68.6 204.6h0M58.8 213.8h0M72.1 209.5h0M71.0 204.5h0M65.0 206.0h0M67.2 207.2h0M75.5 203.0h0M56.8 213.8h0M57.0 210.4h0M75.2 203.2h0M73.5 203.2h0M57.3 214.5h0M56.8 213.3h0M69.9 209.9h0M64.5 208.3h0M71.1 206.7h0M60.9 211.1h0M69.2 207.3h0M70.8 207.2h0M73.3 205.5h0M76.4 202.7h0M63.8 208.6h0M59.1 212.5h0M70.9 205.7h0M67.9 208.3h0M71.4 203.1h0M74.1 205.1h0M65.3 209.9h0M70.4 206.0h0M61.7 211.4h0M74.7 201.8h0M62.5 209.5h0M73.1 215.3h0M59.4 213.7h0M58.4 210.8h0M62.6 214.8h0M74.8 203.9h0M64.2 214.3h0M75.6 203.6h0M66.0 208.2h0M68.5 208.5h0M70.3 205.7h0M80.4 199.8h0M92.6 193.5h0M87.5 191.4h0M78.5 198.7h0M78.0 200.6h0M83.5 198.1h0M95.6 185.8h0M85.2 197.5h0M87.2 193.4h0M89.5 192.8h0M80.9 198.3h0M85.8 192.1h0M83.7 198.3h0M89.6 191.9h0M85.9 196.1h0M77.4 199.6h0M86.7 195.0h0M81.5 197.8h0M81.6 201.3h0M78.0 201.4h0M96.9 187.0h0M92.7 189.6h0M88.1 191.5h0M82.2 197.4h0M81.5 197.3h0M77.6 202.0h0M83.6 198.2h0M86.6 193.4h0M79.3 204.0h0M85.2 191.7h0M93.4 188.6h0M78.9 197.7h0M79.2 198.6h0M82.4 199.0h0M79.3 193.1h0M81.4 196.6h0M82.6 197.5h0M87.1 196.9h0M95.1 188.5h0M91.0 189.8h0M90.3 190.9h0M75.0 198.5h0M78.9 201.6h0M82.2 197.5h0M94.0 197.9h0M93.6 190.8h0M89.1 193.2h0M82.8 197.3h0M96.8 186.8h0M85.1 193.7h0M90.7 191.6h0M77.7 202.9h0M92.5 189.2h0M77.1 201.8h0M95.2 187.9h0M91.7 190.4h0M89.4 190.9h0M79.3 199.4h0M76.7 199.4h0M83.1 196.6h0M90.7 191.2h0M90.2 191.0h0M92.1 188.3h0M83.0 200.9h0M95.6 187.7h0M93.5 186.6h0M78.1 200.7h0M78.4 200.7h0M90.2 191.1h0M84.5 195.6h0M88.0 190.5h0M93.6 187.7h0M86.6 193.2h0M95.4 185.6h0M83.1 200.4h0M79.0 200.2h0M80.4 196.5h0M74.3 198.5h0M80.6 201.3h0M91.2 192.6h0M86.2 193.5h0M86.7 195.0h0M90.1 193.7h0M79.8 199.2h0M96.3 186.1h0M79.7 197.7h0M81.7 197.2h0M83.9 198.1h0M87.0 193.3h0M81.6 198.9h0M93.8 201.8h0M79.0 202.8h0M78.6 201.8h0M81.3 198.6h0M94.3 188.4h0M90.0 197.8h0M92.3 187.4h0M79.1 198.3h0M96.6 186.8h0M83.9 196.2h0M89.5 191.9h0M81.9 195.2h0M90.1 194.1h0M84.7 196.8h0M86.6 194.5h0M91.4 190.3h0M88.1 194.0h0M89.4 190.7h0M84.6 197.3h0M80.2 198.9h0M92.1 190.8h0M79.6 201.7h0M89.8 192.2h0M90.4 193.6h0M95.0 188.9h0M90.7 194.7h0M91.3 190.7h0M80.3 201.1h0M91.7 191.3h0M79.7 200.4h0M85.2 196.3h0M92.3 191.1h0M81.1 198.0h0M92.3 190.5h0M80.3 198.2h0M79.7 200.1h0M87.6 192.0h0M84.3 194.4h0M91.5 190.4h0M78.2 200.4h0M92.8 192.1h0M91.0 191.0h0M89.9 188.6h0M79.1 201.1h0M82.6 196.3h0M84.9 192.4h0M84.3 195.5h0M83.9 194.6h0M85.7 195.0h0M80.1 198.7h0M81.0 200.8h0M86.6 196.7h0M77.6 200.5h0M87.7 195.8h0M89.8 188.6h0M78.2 201.8h0M78.3 198.4h0M78.2 200.7h0M80.8 197.1h0M93.7 187.1h0M84.7 195.8h0M77.8 198.8h0M78.6 198.6h0M83.6 197.4h0M86.9 195.7h0M92.8 190.4h0M76.2 199.3h0M76.0 199.8h0M78.0 194.9h0M88.2 193.0h0M90.4 193.5h0M96.3 191.5h0M86.7 192.4h0M80.2 197.5h0M94.1 186.8h0M88.6 189.3h0M80.8 199.7h0M86.3 194.3h0M96.0 186.0h0M95.3 187.5h0M79.4 200.9h0M88.9 191.4h0M95.3 189.5h0M87.5 191.6h0M80.6 199.9h0M80.9 196.2h0M92.1 191.6h0M94.5 188.0h0M92.2 192.7h0M78.6 201.5h0M79.0 199.8h0M84.7 194.8h0M94.9 184.8h0M94.5 188.4h0M80.0 199.8h0M83.3 198.8h0M90.8 194.9h0M89.2 191.9h0M81.3 199.6h0M86.5 193.6h0M96.3 188.6h0M77.9 200.5h0M78.1 202.1h0M83.2 197.6h0M93.1 211.9h0M82.6 199.0h0M92.6 192.8h0M79.3 200.0h0M88.2 190.8h0M84.6 195.9h0M76.7 200.7h0M101.6 182.2h0M102.6 184.1h0M105.7 177.5h0M101.4 183.3h0M112.9 172.9h0M96.0 183.6h0M116.1 167.9h0M106.1 178.2h0M102.3 179.6h0M106.2 180.1h0M110.2 177.6h0M113.9 172.0h0M102.9 181.9h0M110.8 173.3h0M114.4 168.7h0M98.9 183.2h0M105.1 176.7h0M113.7 168.8h0M114.7 171.3h0M104.2 182.0h0M105.9 176.5h0M104.1 178.2h0M97.4 184.8h0M97.4 185.9h0M99.4 182.8h0M99.9 182.2h0M107.3 177.1h0M115.4 170.1h0M114.3 169.3h0M98.7 185.0h0M97.3 183.3h0M112.4 172.4h0M113.4 172.3h0M107.0 175.6h0M115.7 171.0h0M102.6 180.4h0M98.1 184.6h0M107.2 176.3h0M110.3 172.0h0M110.5 172.3h0M108.1 177.1h0M112.5 172.3h0M112.6 173.2h0M114.5 170.5h0M115.3 171.3h0M113.7 170.5h0M100.9 180.4h0M106.1 181.5h0M116.5 171.6h0M109.9 175.0h0M102.8 180.7h0M109.4 176.6h0M99.4 184.0h0M102.6 180.0h0M99.4 183.6h0M97.7 185.6h0M103.3 178.7h0M108.8 174.1h0M98.1 183.5h0M107.2 175.8h0M106.3 177.0h0M114.1 171.8h0M106.6 178.8h0M106.8 175.7h0M107.4 176.8h0M104.7 177.3h0M102.2 179.6h0M114.7 168.7h0M116.2 168.7h0M102.7 179.9h0M112.0 172.2h0M109.0 175.2h0M113.5 168.9h0M98.3 184.8h0M107.1 178.3h0M98.4 186.7h0M115.7 168.7h0M99.3 182.9h0M98.8 184.7h0M105.1 178.3h0M105.1 179.9h0M110.7 173.6h0M102.9 179.1h0M98.1 185.0h0M97.8 179.0h0M99.2 184.1h0M104.7 180.2h0M98.2 185.4h0M110.7 172.3h0M109.4 174.9h0M108.9 175.9h0M108.1 174.5h0M107.7 174.7h0M115.3 171.1h0M111.7 171.1h0M110.7 176.6h0M97.1 183.2h0M102.5 181.2h0M111.1 175.6h0M116.3 167.8h0M108.2 173.6h0M106.3 177.5h0M98.5 185.1h0M107.5 169.4h0M104.8 180.2h0M99.5 184.6h0M106.7 177.5h0M105.2 180.3h0M109.6 173.8h0M110.3 174.2h0M97.4 184.7h0M111.4 188.2h0M105.5 175.9h0M122.6 162.5h0M117.5 168.6h0M120.9 163.3h0M118.1 166.9h0M121.2 164.5h0M120.3 164.0h0M123.3 163.6h0M125.9 160.0h0M123.5 161.1h0M121.1 166.2h0M126.0 159.4h0M129.9 153.9h0M134.2 153.3h0M119.6 165.3h0M124.0 161.0h0M130.7 155.7h0M122.5 162.6h0M134.3 150.5h0M126.0 160.9h0M128.8 156.6h0M119.8 166.4h0M118.3 165.3h0M119.1 165.7h0M123.0 162.7h0M119.1 165.4h0M131.4 152.1h0M125.9 159.8h0M130.9 154.1h0M134.2 150.8h0M119.0 167.3h0M122.0 160.9h0M133.3 154.6h0M136.1 148.5h0M121.4 164.9h0M124.8 162.6h0M120.2 165.0h0M126.9 158.7h0M121.9 162.0h0M123.5 164.8h0M121.1 165.4h0M122.4 163.2h0M118.0 165.6h0M127.8 159.5h0M125.3 160.5h0M118.5 164.6h0M119.3 165.7h0M115.7 166.4h0M117.2 168.1h0M118.9 164.3h0M131.3 157.4h0M120.4 164.4h0M125.4 161.2h0M117.6 168.7h0M125.0 161.1h0M129.9 155.4h0M140.1 143.3h0M156.9 131.6h0M138.2 148.3h0M141.3 144.8h0M152.3 136.2h0M151.7 135.4h0M151.6 135.8h0M138.1 144.8h0M150.3 137.8h0M142.2 142.5h0M145.4 141.8h0M150.1 136.9h0M152.2 126.9h0M146.0 140.3h0M143.5 142.7h0M143.6 142.4h0M140.1 144.7h0M153.3 135.0h0M141.5 145.5h0M147.2 138.1h0M139.0 147.3h0M162.9 125.8h0M160.4 128.3h0M174.5 116.1h0M176.3 112.4h0M158.2 130.7h0M160.3 127.4h0M164.0 125.4h0M163.6 126.3h0M161.9 124.9h0M165.6 125.2h0M175.7 115.4h0M162.1 126.7h0M176.0 113.0h0M178.2 112.1h0M192.9 97.4h0M192.4 97.6h0M182.7 103.8h0M177.1 111.7h0M187.6 101.5h0M196.4 96.5h0M184.8 104.9h0M182.4 107.1h0M180.3 109.3h0M185.9 104.0h0M185.6 102.6h0M207.6 81.5h0M200.5 90.7h0M201.1 87.5h0M205.9 80.3h0M199.4 90.5h0M209.8 79.6h0M205.4 83.4h0M206.3 81.5h0M209.1 80.4h0M202.2 84.9h0M202.4 84.9h0M203.9 84.6h0M209.1 78.2h0M219.0 61.0h0M217.5 64.2h0M213.5 76.4h0M212.0 76.3h0M216.6 64.8h0M213.3 73.2h0M216.8 63.2h0M220.6 60.7h0M219.0 60.6h0M220.0 61.3h0M217.1 63.4h0M217.9 65.0h0M219.4 60.3h0M217.7 66.3h0M209.9 76.8h0M214.4 70.0h0M215.1 68.6h0M219.6 60.2h0M220.1 60.6h0M215.3 68.8h0M213.5 73.2h0M219.3 62.2h0M226.9 63.3h0M223.0 64.1h0M235.4 54.2h0M232.3 51.0h0M239.5 49.8h0M230.1 61.9h0M236.8 43.6h0M228.4 60.5h0M225.6 53.7h0M235.4 52.5h0M229.3 57.7h0M235.0 60.6h0M232.6 55.0h0M224.2 67.6h0M225.4 65.6h0M231.5 55.7h0M229.8 64.8h0M222.9 69.4h0M222.0 60.6h0M235.6 43.7h0M241.4 45.3h0M240.0 48.0h0M236.6 57.8h0M232.2 55.4h0M239.1 47.7h0M240.7 41.0h0M241.3 35.5h0M242.1 38.1h0M241.9 33.1h0M242.9 32.2h0M241.8 40.4h0M248.4 37.4h0M249.3 37.8h0M251.7 31.9h0M254.1 31.2h0M254.8 28.0h0M249.9 34.1h0M254.3 30.7h0M253.7 34.9h0M253.5 30.2h0M253.9 34.6h0M217.7 65.4h0M216.5 60.8h0M215.9 63.2h0M213.9 70.2h0M213.3 74.0h0M214.9 73.7h0M214.8 69.8h0M216.9 68.0h0M219.6 58.4h0M212.9 69.7h0M218.6 61.5h0" stroke="#000" stroke-opacity="0.45" stroke-width="2.2" stroke-linecap="round" fill="none"/><path d="M43.0 219.4h0M56.1 217.0h0M50.1 218.1h0M55.3 213.6h0M47.7 218.6h0M51.2 217.7h0M49.1 217.4h0M42.2 222.7h0M41.5 219.5h0M43.3 220.7h0M47.4 219.2h0M53.4 216.0h0M43.5 219.7h0M44.6 219.6h0M50.7 214.8h0M41.0 217.7h0M48.4 217.2h0M48.9 218.2h0M44.2 220.8h0M53.1 217.8h0M49.5 218.3h0M53.1 216.7h0M42.7 220.8h0M54.3 214.3h0M42.7 220.4h0M46.1 218.8h0M43.6 221.1h0M46.6 219.0h0M56.5 218.1h0M47.1 219.4h0M47.3 218.0h0M48.7 217.5h0M53.5 218.4h0M56.8 216.3h0M55.6 216.7h0M47.1 219.5h0M41.9 222.2h0M54.4 215.6h0M44.8 218.1h0M56.7 214.0h0M45.8 220.6h0M42.0 219.6h0M44.3 217.3h0M45.7 220.3h0M55.7 216.1h0M56.6 215.8h0M42.8 225.4h0M54.7 214.4h0M46.3 220.7h0M50.7 224.0h0M56.8 217.5h0M55.5 214.9h0M49.1 219.4h0M42.3 222.9h0M53.8 214.9h0M50.8 217.7h0M51.9 216.2h0M53.6 216.2h0M46.9 221.4h0M46.1 217.7h0M42.0 221.5h0M46.3 221.0h0M57.0 214.7h0M51.5 217.6h0M56.3 214.9h0M40.8 221.4h0M49.5 218.6h0M52.3 218.4h0M43.5 219.7h0M45.2 218.1h0M46.3 218.8h0M54.3 212.3h0M45.3 220.8h0M39.9 221.6h0M53.4 219.0h0M42.6 218.3h0M52.2 218.1h0M43.0 220.4h0M48.0 217.8h0M45.2 221.7h0M50.9 214.3h0M53.2 212.9h0M50.6 216.5h0M49.2 215.4h0M42.2 220.8h0M54.1 216.7h0M44.6 219.2h0M42.5 221.0h0M48.1 218.8h0M41.8 221.8h0M40.8 219.6h0M46.2 219.1h0M42.8 221.2h0M41.7 217.7h0M54.3 215.0h0M48.7 219.2h0M54.8 215.5h0M52.9 216.0h0M52.2 217.7h0M46.1 219.4h0M43.3 223.7h0M52.0 220.5h0M51.9 221.0h0M40.2 221.7h0M44.4 222.1h0M51.9 215.8h0M56.3 215.3h0M51.6 218.0h0M42.1 220.1h0M53.5 214.0h0M48.6 218.0h0M44.4 219.9h0M42.9 224.0h0M44.5 223.7h0M45.2 219.9h0M49.2 215.7h0M42.0 221.6h0M46.7 217.9h0M41.7 217.9h0M43.8 221.3h0M47.8 217.6h0M51.9 217.3h0M44.9 220.1h0M45.7 217.3h0M53.0 215.4h0M49.5 217.7h0M49.5 220.0h0M44.8 220.8h0M44.6 219.8h0M49.1 217.4h0M51.3 218.6h0M43.4 221.3h0M50.5 214.4h0M41.8 222.4h0M54.5 215.8h0M41.9 222.8h0M46.3 221.0h0M51.9 214.9h0M41.4 222.1h0M55.2 215.2h0M50.6 216.4h0M41.8 220.1h0M42.5 223.7h0M42.8 223.6h0M42.9 220.7h0M42.8 219.6h0M49.1 216.3h0M55.2 216.2h0M41.6 219.4h0M43.8 221.2h0M48.5 219.4h0M54.3 215.6h0M52.1 215.0h0M50.9 220.4h0M56.9 217.0h0M42.1 222.4h0M54.7 214.7h0M54.4 215.9h0M38.8 218.5h0M43.3 219.7h0M53.2 216.2h0M50.4 216.8h0M41.5 220.8h0M53.2 215.5h0M53.3 217.9h0M51.6 215.5h0M51.6 217.7h0M55.0 218.6h0M47.9 218.3h0M43.3 219.1h0M51.6 216.2h0M46.7 219.5h0M40.2 221.1h0M46.8 217.9h0M42.1 223.1h0M53.2 217.1h0M54.1 214.7h0M57.6 215.8h0M54.7 218.1h0M52.5 218.0h0M40.4 220.4h0M54.4 217.3h0M50.2 229.7h0M44.6 217.5h0M49.5 215.8h0M53.7 216.3h0M48.5 218.4h0M43.1 218.8h0M55.4 214.1h0M44.5 218.7h0M44.0 219.9h0M50.0 217.2h0M61.7 227.5h0M42.8 222.0h0M51.1 215.5h0M49.0 217.3h0M57.6 224.3h0M51.1 217.5h0M56.4 214.6h0M41.7 220.2h0M46.3 220.0h0M45.1 220.0h0M50.2 217.7h0M44.1 220.4h0M48.4 219.8h0M44.4 219.3h0M47.2 218.6h0M44.9 216.8h0M48.7 216.0h0M42.0 222.2h0M46.7 217.7h0M53.5 214.6h0M42.7 222.2h0M46.1 220.1h0M44.9 219.0h0M44.7 223.1h0M51.1 216.0h0M53.2 217.0h0M51.6 216.5h0M54.5 216.8h0M42.6 221.9h0M46.3 217.5h0M48.5 219.8h0M57.9 218.2h0M48.8 220.0h0M52.5 216.2h0M50.9 218.3h0M48.9 215.7h0M41.6 222.9h0M40.6 221.9h0M55.8 215.5h0M54.1 216.7h0M51.4 217.2h0M47.6 219.6h0M42.7 218.4h0M46.5 218.3h0M41.3 221.2h0M52.7 218.0h0M49.9 219.4h0M55.5 213.9h0M49.5 218.5h0M54.0 217.3h0M39.9 220.5h0M54.3 215.0h0M44.2 218.0h0M57.1 215.1h0M45.5 220.4h0M42.5 220.9h0M55.0 216.2h0M56.6 215.9h0M49.9 218.2h0M45.1 221.4h0M44.5 219.6h0M65.4 236.4h0M52.0 219.8h0M40.4 221.3h0M47.1 218.3h0M49.8 216.4h0M48.6 219.4h0M43.9 227.9h0M42.4 224.3h0M48.5 218.6h0M47.1 222.6h0M44.8 221.1h0M52.5 215.0h0M55.6 216.1h0M50.8 218.5h0M49.1 223.0h0M56.0 214.8h0M43.8 217.9h0M54.6 212.8h0M47.5 218.7h0M51.1 216.1h0M55.3 216.4h0M51.7 219.1h0M52.1 216.4h0M55.3 216.2h0M53.2 215.0h0M52.2 217.0h0M43.5 219.8h0M51.8 222.3h0M53.0 217.3h0M44.6 219.3h0M54.2 214.5h0M47.1 219.2h0M51.4 215.4h0M50.8 218.4h0M52.8 215.9h0M56.9 216.8h0M47.2 219.7h0M43.3 223.0h0M42.1 221.9h0M46.5 220.5h0M55.1 214.7h0M50.9 218.3h0M48.8 216.8h0M51.5 218.0h0M47.2 220.5h0M51.2 216.3h0M44.7 219.2h0M53.4 216.8h0M52.8 219.1h0M56.2 215.3h0M44.5 220.8h0M47.1 220.4h0M43.4 228.7h0M52.2 213.0h0M44.6 221.3h0M51.6 217.0h0M55.4 217.4h0M50.0 217.3h0M50.5 217.5h0M56.2 213.4h0M46.6 218.2h0M52.0 216.6h0M50.3 220.8h0M41.0 223.1h0M71.2 208.3h0M63.5 210.7h0M59.4 213.8h0M74.4 200.9h0M57.2 213.1h0M61.5 213.8h0M59.5 214.8h0M75.5 205.4h0M58.7 214.0h0M72.2 205.0h0M58.9 215.0h0M65.5 208.9h0M68.1 208.6h0M62.9 212.7h0M63.5 210.7h0M64.8 209.8h0M57.8 214.7h0M67.3 206.7h0M55.1 211.4h0M69.6 207.2h0M76.1 201.6h0M58.1 212.9h0M78.1 206.1h0M69.6 207.2h0M59.6 211.4h0M63.8 209.1h0M63.2 210.2h0M62.0 208.3h0M70.6 208.9h0M74.0 204.5h0M71.8 212.9h0M71.7 205.3h0M77.5 203.6h0M65.1 210.2h0M57.4 213.1h0M67.3 206.5h0M61.7 217.0h0M68.2 205.0h0M68.3 209.5h0M76.3 205.7h0M58.8 211.5h0M58.8 213.4h0M68.1 207.4h0M57.5 215.2h0M62.5 208.9h0M72.3 207.1h0M59.4 209.6h0M58.0 215.7h0M66.0 208.1h0M62.5 207.0h0M59.8 212.4h0M56.5 213.4h0M65.8 209.3h0M75.6 204.8h0M61.6 211.4h0M59.2 216.2h0M60.1 213.2h0M67.9 208.9h0M59.9 210.6h0M64.7 211.1h0M57.8 215.7h0M67.6 221.6h0M77.0 204.1h0M69.0 207.1h0M63.0 211.2h0M60.4 209.9h0M58.8 213.3h0M67.4 206.8h0M58.6 212.6h0M64.3 207.3h0M58.0 215.8h0M76.7 201.7h0M62.3 210.3h0M62.5 208.7h0M74.1 203.6h0M67.0 207.1h0M76.2 203.5h0M59.0 213.0h0M63.0 209.8h0M75.0 204.6h0M73.1 201.6h0M69.7 205.0h0M64.0 211.3h0M67.7 208.1h0M61.0 211.3h0M76.6 202.3h0M72.2 203.7h0M55.6 212.2h0M59.0 213.8h0M72.5 205.3h0M75.3 205.4h0M72.5 203.7h0M68.7 205.2h0M62.4 214.3h0M63.6 211.6h0M62.4 209.1h0M59.5 211.7h0M68.8 200.7h0M72.9 222.7h0M68.0 211.3h0M61.3 214.1h0M63.3 213.3h0M57.8 212.4h0M64.0 210.6h0M69.8 208.6h0M60.7 212.9h0M77.7 203.4h0M67.0 207.1h0M71.4 207.2h0M62.3 211.0h0M75.3 204.3h0M68.3 208.2h0M62.6 209.5h0M75.0 201.1h0M64.7 208.9h0M56.6 212.4h0M74.0 203.5h0M75.4 204.2h0M69.8 206.5h0M59.2 212.8h0M63.5 211.2h0M59.2 213.7h0M64.8 210.6h0M66.5 207.5h0M74.9 202.3h0M64.1 209.4h0M69.2 205.0h0M62.2 212.9h0M69.6 204.5h0M75.5 211.1h0M64.4 207.5h0M56.8 213.8h0M69.6 206.2h0M61.7 210.0h0M75.6 201.2h0M76.7 203.3h0M61.0 213.9h0M65.2 207.4h0M61.3 212.8h0M68.6 208.6h0M58.2 213.5h0M60.1 214.4h0M57.2 211.1h0M61.6 210.6h0M65.5 209.9h0M79.1 224.7h0M71.2 205.1h0M72.5 205.0h0M71.4 207.2h0M69.9 208.0h0M68.3 206.1h0M56.8 213.8h0M81.3 210.5h0M58.9 213.0h0M61.1 211.3h0M63.2 207.3h0M64.8 209.5h0M73.8 201.0h0M64.8 210.4h0M67.2 208.3h0M69.1 204.9h0M64.3 209.4h0M65.5 207.7h0M63.2 211.2h0M61.1 213.4h0M67.5 208.5h0M58.7 212.6h0M75.9 201.2h0M73.8 203.5h0M73.8 206.3h0M74.9 204.4h0M75.4 204.2h0M62.7 210.9h0M58.3 216.4h0M77.4 202.8h0M67.7 210.2h0M60.2 209.5h0M58.1 213.4h0M64.9 206.4h0M81.3 220.6h0M72.2 203.5h0M66.8 210.5h0M71.4 206.4h0M62.1 211.1h0M65.0 208.3h0M56.9 212.9h0M60.8 210.8h0M67.6 209.4h0M61.4 212.0h0M67.5 206.2h0M59.0 212.9h0M83.4 213.8h0M77.4 203.1h0M59.2 214.3h0M58.7 213.2h0M74.0 203.6h0M58.4 211.7h0M64.0 212.9h0M67.9 208.2h0M76.2 203.6h0M62.5 208.0h0M72.3 207.4h0M65.2 207.8h0M64.2 213.1h0M61.2 212.0h0M65.4 207.7h0M63.2 209.5h0M77.1 203.7h0M58.0 214.6h0M65.3 207.4h0M60.0 212.4h0M58.6 210.8h0M75.3 203.4h0M58.2 212.0h0M75.7 204.7h0M61.9 211.4h0M58.3 215.1h0M64.7 212.1h0M67.2 209.6h0M73.9 202.9h0M75.5 206.6h0M56.2 211.6h0M70.9 206.0h0M71.0 207.1h0M70.7 204.6h0M64.4 209.7h0M65.4 211.4h0M58.3 211.9h0M58.2 214.3h0M75.2 201.3h0M65.4 210.7h0M61.9 211.3h0M71.1 207.1h0M60.5 211.8h0M68.1 207.6h0M57.5 214.0h0M64.4 207.7h0M62.9 211.3h0M63.7 210.8h0M68.0 204.9h0M67.7 206.8h0M69.7 203.7h0M62.4 213.2h0M76.7 203.1h0M62.4 210.2h0M64.3 210.5h0M76.4 203.8h0M68.0 209.1h0M62.3 211.0h0M59.1 212.0h0M73.6 203.7h0M65.3 209.0h0M61.3 211.6h0M69.5 208.9h0M65.0 209.4h0M58.8 214.9h0M76.1 203.4h0M69.8 205.8h0M63.8 209.7h0M72.9 205.7h0M58.3 210.9h0M58.4 211.6h0M66.1 211.1h0M62.0 212.2h0M75.4 205.8h0M71.1 210.0h0M62.4 213.2h0M58.0 214.1h0M59.5 210.2h0M72.4 205.4h0M65.0 208.1h0M67.0 209.6h0M60.7 211.8h0M61.7 208.6h0M75.6 201.3h0M63.7 208.7h0M68.8 206.0h0M74.8 201.9h0M68.3 203.8h0M72.4 202.9h0M65.0 207.5h0M67.8 207.1h0M75.1 204.1h0M71.2 207.4h0M60.8 212.0h0M63.6 208.5h0M66.3 209.8h0M71.6 205.6h0M58.8 213.3h0M61.2 211.8h0M72.5 206.8h0M64.4 209.0h0M73.0 200.7h0M61.1 210.7h0M61.0 214.6h0M59.4 210.0h0M61.7 212.1h0M58.5 210.7h0M60.1 214.7h0M61.1 210.2h0M77.8 203.3h0M74.3 209.0h0M72.8 206.9h0M73.3 206.0h0M70.4 205.1h0M77.2 202.1h0M96.1 187.1h0M87.9 193.8h0M92.9 187.1h0M93.4 188.5h0M94.7 188.3h0M81.1 196.8h0M76.9 198.7h0M87.1 194.1h0M77.2 201.9h0M88.5 193.4h0M95.3 187.2h0M86.7 193.3h0M89.6 191.1h0M82.9 199.4h0M87.3 193.3h0M97.2 189.4h0M78.9 201.7h0M82.8 198.0h0M96.7 186.3h0M79.6 200.7h0M94.3 190.0h0M85.0 196.7h0M95.8 189.8h0M86.9 191.3h0M88.7 193.0h0M96.7 185.6h0M89.4 192.9h0M81.2 199.1h0M82.7 198.6h0M81.3 200.4h0M93.0 188.9h0M83.4 197.2h0M89.4 191.8h0M83.0 199.1h0M79.5 199.6h0M76.1 196.5h0M93.0 188.7h0M85.3 193.5h0M82.2 199.5h0M84.5 195.3h0M83.4 196.5h0M80.9 200.6h0M96.1 185.7h0M83.2 196.8h0M94.7 189.2h0M76.9 201.8h0M90.4 194.1h0M94.3 185.6h0M77.3 201.5h0M110.2 203.1h0M88.6 194.1h0M96.2 188.2h0M80.7 197.4h0M87.6 194.4h0M91.6 191.5h0M79.7 200.5h0M85.2 195.7h0M78.0 199.8h0M90.5 192.0h0M83.4 196.8h0M87.3 193.0h0M80.8 197.8h0M78.5 199.0h0M78.4 202.5h0M92.9 191.3h0M88.4 193.7h0M79.4 200.8h0M85.9 193.3h0M86.3 194.4h0M88.9 189.8h0M94.4 188.1h0M80.8 197.2h0M93.4 190.5h0M88.1 193.0h0M85.7 196.1h0M79.2 200.0h0M80.0 198.5h0M80.8 197.0h0M92.5 190.0h0M76.8 200.5h0M79.5 199.2h0M85.8 195.3h0M87.3 191.6h0M84.8 194.3h0M96.4 188.5h0M79.6 199.8h0M79.6 199.1h0M78.5 199.7h0M76.6 200.5h0M82.4 196.7h0M84.1 193.7h0M91.1 190.0h0M79.8 201.2h0M88.1 195.2h0M85.8 195.1h0M81.3 198.8h0M91.4 190.4h0M82.3 198.8h0M94.2 190.9h0M81.1 199.0h0M87.5 203.4h0M86.6 195.2h0M84.7 195.7h0M78.9 202.1h0M78.7 198.3h0M97.7 187.2h0M83.1 196.8h0M83.3 197.1h0M92.3 191.3h0M92.5 189.1h0M96.4 185.2h0M81.4 199.1h0M85.4 195.8h0M80.2 199.0h0M78.0 200.6h0M93.5 190.0h0M80.9 198.1h0M80.2 200.3h0M91.6 187.8h0M93.9 189.2h0M81.9 197.4h0M81.5 199.3h0M91.7 192.4h0M85.7 195.1h0M91.6 202.6h0M96.3 188.5h0M82.6 198.0h0M76.8 197.7h0M88.5 191.8h0M81.7 196.5h0M85.7 194.2h0M86.3 194.9h0M80.1 200.4h0M88.5 192.2h0M79.9 200.2h0M92.0 190.1h0M84.7 195.6h0M85.0 195.8h0M81.8 196.8h0M94.6 186.1h0M77.9 200.3h0M91.5 187.6h0M93.8 192.0h0M78.2 199.9h0M91.2 190.6h0M90.8 193.3h0M89.3 190.3h0M91.2 191.3h0M79.7 198.6h0M90.6 191.2h0M83.8 197.3h0M94.3 188.1h0M81.2 196.8h0M95.0 186.9h0M81.7 196.5h0M94.7 187.5h0M84.7 199.3h0M78.5 199.7h0M88.5 193.7h0M87.5 191.4h0M85.5 194.1h0M82.3 196.7h0M78.0 202.2h0M89.0 193.5h0M85.8 197.2h0M82.3 199.9h0M86.6 192.9h0M88.5 191.3h0M92.5 190.4h0M78.7 201.9h0M89.1 190.0h0M78.4 201.6h0M86.3 194.5h0M89.8 191.6h0M79.7 200.9h0M87.2 193.7h0M93.7 188.8h0M81.9 196.7h0M84.9 194.9h0M90.4 195.2h0M95.7 185.5h0M82.0 197.2h0M77.5 200.7h0M84.7 197.1h0M82.6 198.8h0M79.5 198.4h0M81.4 200.0h0M77.5 200.3h0M82.6 197.8h0M91.2 190.0h0M84.2 197.7h0M79.7 198.3h0M77.5 199.1h0M82.6 201.3h0M85.1 195.1h0M77.2 199.7h0M92.1 191.8h0M91.6 187.7h0M93.3 188.1h0M82.4 200.9h0M97.2 185.4h0M103.2 179.2h0M104.5 179.9h0M100.0 181.3h0M106.7 179.8h0M114.8 168.6h0M104.3 180.1h0M97.6 185.6h0M100.8 181.4h0M101.3 181.0h0M99.2 184.1h0M107.5 175.2h0M117.3 169.3h0M99.4 184.8h0M99.8 182.9h0M110.1 173.7h0M112.4 173.7h0M99.9 185.6h0M101.6 182.8h0M105.7 177.0h0M97.6 184.6h0M112.2 172.7h0M108.9 177.0h0M101.3 179.5h0M106.4 177.5h0M106.3 179.1h0M97.1 185.2h0M96.6 183.6h0M98.2 185.8h0M115.5 168.5h0M101.3 181.3h0M112.7 172.5h0M103.1 179.7h0M109.8 175.3h0M105.4 178.2h0M115.8 168.4h0M113.7 171.9h0M105.4 177.4h0M102.3 180.3h0M116.3 170.4h0M98.4 184.1h0M102.8 179.6h0M106.6 178.9h0M107.1 178.2h0M107.4 175.2h0M113.5 170.6h0M114.8 169.5h0M106.6 177.3h0M105.9 177.9h0M108.8 174.2h0M112.6 173.1h0M98.7 184.8h0M109.9 175.6h0M109.8 175.9h0M99.5 185.1h0M101.8 183.3h0M99.6 182.6h0M109.3 173.4h0M103.8 181.5h0M99.9 180.8h0M112.8 171.6h0M105.6 178.5h0M106.5 176.2h0M98.6 183.7h0M103.2 181.7h0M105.5 180.4h0M116.5 168.7h0M97.5 186.1h0M101.8 181.6h0M113.1 171.2h0M98.3 182.5h0M98.8 184.9h0M112.3 174.5h0M113.9 171.2h0M113.3 171.1h0M105.6 179.8h0M101.9 179.9h0M98.3 182.8h0M114.1 171.6h0M103.6 180.9h0M100.1 184.0h0M104.1 178.7h0M113.5 166.2h0M97.3 183.7h0M111.2 199.5h0M97.5 181.7h0M105.3 177.6h0M110.5 173.1h0M101.4 182.5h0M101.3 180.5h0M114.6 171.1h0M104.8 179.6h0M111.2 173.1h0M108.9 177.0h0M107.3 177.3h0M106.8 176.3h0M112.5 173.0h0M113.4 172.1h0M103.3 180.3h0M100.1 183.3h0M98.2 183.5h0M96.8 184.9h0M104.9 179.2h0M106.3 173.6h0M98.8 185.1h0M104.2 183.1h0M109.3 175.8h0M103.8 180.9h0M113.3 171.2h0M97.5 184.9h0M101.0 180.6h0M108.2 173.9h0M97.2 184.5h0M119.2 163.1h0M124.8 162.6h0M118.8 167.5h0M124.9 171.6h0M135.9 152.5h0M126.7 158.0h0M119.2 165.6h0M133.1 150.8h0M131.7 153.2h0M116.3 167.1h0M119.2 166.5h0M130.6 153.5h0M131.1 153.6h0M127.3 157.1h0M121.6 161.6h0M134.7 152.4h0M130.6 152.5h0M130.3 156.1h0M134.5 150.6h0M131.9 154.4h0M122.0 163.3h0M120.5 166.6h0M124.4 161.4h0M122.2 161.7h0M131.1 155.0h0M119.5 164.9h0M129.6 154.4h0M132.2 154.6h0M119.6 163.8h0M124.3 162.3h0M123.6 161.3h0M117.9 165.8h0M119.1 163.6h0M117.7 167.7h0M127.9 158.3h0M118.1 168.8h0M132.9 153.0h0M121.5 162.5h0M132.3 153.0h0M131.6 155.1h0M136.9 150.1h0M130.6 152.7h0M121.3 166.7h0M122.5 161.1h0M130.3 155.4h0M136.3 149.5h0M124.4 160.7h0M129.6 152.8h0M129.6 154.9h0M125.4 157.1h0M128.3 157.6h0M131.4 152.5h0M132.8 153.3h0M122.1 163.2h0M118.1 164.7h0M141.5 145.1h0M146.1 140.0h0M136.8 147.6h0M141.4 143.6h0M142.4 145.5h0M145.1 142.1h0M144.5 140.4h0M142.4 145.7h0M143.5 144.9h0M140.1 146.4h0M152.8 135.2h0M144.3 142.9h0M146.1 141.4h0M148.6 137.4h0M140.6 145.1h0M153.6 133.2h0M144.1 143.5h0M152.3 135.7h0M153.8 134.5h0M138.5 149.6h0M153.4 135.6h0M161.7 126.0h0M167.2 121.9h0M160.6 128.8h0M164.7 127.5h0M167.5 121.8h0M165.7 121.1h0M168.4 122.6h0M169.5 119.4h0M177.1 113.3h0M175.8 112.9h0M173.4 115.3h0M169.9 117.3h0M165.8 120.5h0M190.9 100.3h0M185.0 105.8h0M195.7 94.3h0M191.8 96.6h0M195.8 93.8h0M192.2 96.5h0M192.0 100.5h0M182.7 106.2h0M180.0 108.4h0M181.6 110.7h0M181.3 109.0h0M190.7 98.3h0M195.4 91.1h0M199.9 91.5h0M197.4 92.7h0M201.3 87.9h0M199.2 92.6h0M198.6 90.3h0M199.0 89.7h0M202.8 88.5h0M202.4 86.5h0M205.7 82.7h0M200.8 92.4h0M205.1 82.7h0M214.2 68.6h0M216.0 66.6h0M218.5 64.9h0M219.5 60.4h0M217.8 65.7h0M217.9 60.8h0M214.5 71.4h0M210.6 76.5h0M218.6 60.7h0M216.5 67.2h0M216.7 67.3h0M218.4 60.3h0M213.7 71.1h0M213.5 72.1h0M217.4 65.1h0M217.4 65.4h0M215.8 63.9h0M215.8 66.2h0M212.5 66.6h0M215.5 66.9h0M214.2 74.5h0M209.6 77.4h0M211.0 75.2h0M240.6 48.9h0M231.8 60.6h0M237.6 57.1h0M235.6 51.7h0M236.0 49.7h0M229.3 64.4h0M231.4 55.1h0M222.4 65.6h0M231.9 56.5h0M224.4 67.7h0M228.0 57.2h0M227.5 65.8h0M225.3 62.6h0M232.2 54.0h0M232.4 57.9h0M224.0 59.3h0M220.2 66.9h0M232.3 56.8h0M238.6 48.7h0M234.9 51.5h0M238.2 49.9h0M238.7 47.4h0M230.1 55.9h0M237.7 51.4h0M232.4 55.2h0M242.4 35.5h0M241.7 41.9h0M241.2 40.7h0M242.1 32.0h0M241.9 34.2h0M247.4 37.5h0M249.6 37.4h0M247.6 37.9h0M253.6 30.6h0M245.5 38.0h0M252.8 32.0h0M247.6 39.0h0M254.9 29.6h0M256.5 28.0h0M253.6 33.9h0M218.8 63.7h0M218.4 61.5h0M215.5 70.3h0M213.7 71.2h0M218.6 62.5h0M214.0 69.5h0M216.9 66.6h0M219.8 58.4h0M217.3 66.9h0M219.0 62.0h0M215.6 65.0h0M217.3 61.5h0" stroke="#000" stroke-opacity="0.45" stroke-width="2.2" stroke-linecap="round" fill="none"/><path d="M57.0 216.2h0M52.0 216.3h0M52.6 215.8h0M47.5 217.2h0M43.9 221.2h0M51.0 215.9h0M49.7 217.1h0M50.7 219.3h0M43.6 220.7h0M55.1 213.2h0M44.1 221.3h0M50.5 219.4h0M47.4 216.8h0M55.1 216.1h0M39.9 221.8h0M43.8 219.6h0M56.4 216.1h0M41.7 218.5h0M48.4 219.3h0M44.9 218.0h0M41.2 221.5h0M56.4 214.9h0M45.8 220.7h0M53.0 217.5h0M55.5 216.3h0M43.4 220.0h0M54.7 216.6h0M45.9 219.3h0M44.3 218.7h0M41.1 221.5h0M47.6 218.9h0M49.7 216.2h0M50.1 218.2h0M53.6 215.2h0M46.3 220.2h0M40.3 220.7h0M55.2 213.2h0M40.6 221.1h0M53.0 216.3h0M55.5 214.1h0M57.4 216.4h0M52.4 216.6h0M44.5 223.4h0M49.1 217.4h0M47.0 218.4h0M46.3 219.3h0M53.9 216.9h0M50.5 211.8h0M49.9 218.5h0M54.3 219.4h0M45.3 218.3h0M42.8 219.4h0M56.7 216.1h0M50.7 215.7h0M41.2 222.4h0M46.0 219.4h0M39.9 219.9h0M54.8 214.7h0M56.7 216.9h0M39.8 221.6h0M42.4 213.0h0M54.5 216.8h0M44.7 220.3h0M45.2 222.5h0M46.6 219.0h0M41.5 219.1h0M52.6 216.6h0M53.3 216.0h0M44.0 220.6h0M55.9 213.8h0M43.3 220.9h0M55.6 214.3h0M43.1 221.2h0M51.4 213.7h0M43.1 219.8h0M41.3 218.4h0M45.5 219.4h0M41.3 221.3h0M42.6 219.5h0M43.2 219.7h0M40.9 221.5h0M54.2 216.8h0M50.8 216.3h0M45.7 219.1h0M56.3 215.8h0M57.0 216.6h0M42.3 221.7h0M44.8 218.5h0M49.7 220.8h0M44.2 219.0h0M46.0 218.0h0M41.3 218.4h0M46.7 220.8h0M40.9 217.8h0M51.6 220.9h0M46.5 217.5h0M58.3 218.5h0M56.2 217.0h0M47.1 217.5h0M56.0 215.0h0M56.3 216.7h0M48.8 220.5h0M49.0 216.3h0M45.8 220.1h0M43.1 221.4h0M57.5 216.6h0M44.9 217.8h0M47.2 219.2h0M55.6 225.2h0M48.2 220.8h0M54.5 218.9h0M46.4 218.7h0M50.6 216.7h0M48.4 221.2h0M41.8 223.2h0M51.7 214.9h0M46.9 221.4h0M53.7 215.1h0M45.3 220.7h0M43.0 223.0h0M43.1 220.4h0M45.9 217.9h0M43.4 221.0h0M55.5 212.5h0M44.4 218.5h0M51.6 215.4h0M47.4 217.2h0M45.7 218.9h0M41.8 220.7h0M50.1 216.8h0M42.8 218.3h0M46.3 219.5h0M55.4 216.6h0M45.3 216.3h0M53.7 214.9h0M55.6 216.1h0M52.9 217.8h0M42.3 222.3h0M41.8 223.0h0M42.8 218.5h0M42.6 221.4h0M53.6 216.4h0M44.2 221.3h0M44.0 220.7h0M54.6 214.3h0M45.5 219.7h0M52.3 214.0h0M48.0 217.8h0M49.0 221.2h0M53.3 216.4h0M40.6 222.3h0M51.5 214.2h0M53.2 216.0h0M51.2 216.7h0M50.1 217.2h0M46.3 220.4h0M46.1 220.2h0M39.9 221.3h0M48.9 220.0h0M54.3 214.6h0M51.1 217.1h0M46.8 223.0h0M48.0 215.0h0M44.3 220.7h0M41.9 223.3h0M42.2 220.8h0M48.4 217.9h0M48.0 217.3h0M51.5 217.2h0M49.2 217.8h0M43.9 220.4h0M56.0 214.0h0M51.2 214.8h0M49.1 215.9h0M42.7 218.3h0M51.9 217.0h0M50.2 218.9h0M41.7 223.7h0M44.7 220.1h0M42.2 223.8h0M52.9 217.4h0M48.5 217.7h0M56.6 215.6h0M44.2 221.3h0M45.9 220.9h0M50.3 217.6h0M44.4 218.9h0M47.9 216.3h0M41.3 217.9h0M45.3 218.7h0M48.1 219.0h0M50.0 217.1h0M52.5 217.8h0M53.7 216.0h0M49.1 221.0h0M45.3 220.2h0M54.5 215.5h0M45.5 220.0h0M42.8 221.4h0M57.0 214.7h0M45.2 220.8h0M47.6 216.3h0M57.6 215.9h0M42.8 225.5h0M45.6 218.8h0M45.6 219.3h0M41.9 218.8h0M42.9 222.3h0M47.8 218.8h0M43.4 218.7h0M51.1 217.4h0M53.4 220.2h0M40.0 220.5h0M58.3 218.3h0M50.0 216.8h0M45.2 219.9h0M47.3 219.0h0M43.2 220.9h0M41.5 219.4h0M47.4 220.1h0M43.6 221.4h0M41.2 222.5h0M42.8 221.1h0M45.7 220.4h0M55.2 213.4h0M43.6 221.6h0M49.0 219.6h0M53.6 217.1h0M49.5 217.5h0M50.2 216.3h0M42.1 222.0h0M40.7 222.4h0M51.2 217.6h0M52.7 214.7h0M45.7 217.7h0M49.1 217.3h0M50.0 217.7h0M43.2 218.8h0M50.8 219.1h0M43.8 220.7h0M56.8 215.4h0M51.2 217.4h0M52.7 215.2h0M51.2 218.2h0M54.3 215.9h0M50.2 217.9h0M47.4 219.6h0M41.9 223.0h0M46.7 218.8h0M41.8 219.6h0M45.3 219.0h0M41.5 219.1h0M54.1 215.9h0M56.4 220.0h0M43.1 220.6h0M42.8 220.8h0M45.2 219.8h0M53.6 217.8h0M44.0 219.9h0M49.0 216.8h0M41.0 220.5h0M43.1 218.5h0M46.4 218.2h0M41.8 220.1h0M57.8 223.0h0M55.4 217.1h0M51.8 217.8h0M44.0 217.3h0M50.0 217.7h0M51.9 214.5h0M57.9 216.5h0M44.9 220.8h0M56.7 216.1h0M55.7 216.0h0M51.5 219.0h0M47.7 221.4h0M41.0 220.0h0M52.8 216.8h0M42.3 222.6h0M50.1 219.8h0M56.0 217.2h0M39.6 221.1h0M45.0 221.3h0M45.2 222.1h0M43.5 220.8h0M49.7 216.6h0M48.3 216.5h0M42.8 220.9h0M55.1 218.6h0M47.1 219.9h0M41.3 222.6h0M42.4 221.6h0M48.2 216.4h0M40.2 222.5h0M51.6 216.5h0M52.4 217.5h0M43.3 223.6h0M48.0 221.1h0M47.2 216.9h0M54.7 216.2h0M56.7 217.1h0M44.7 220.6h0M56.0 215.6h0M49.2 218.0h0M51.5 216.6h0M53.9 213.4h0M46.2 219.3h0M49.6 217.6h0M56.8 214.9h0M47.6 222.8h0M45.1 221.8h0M48.8 216.1h0M56.8 214.5h0M49.6 213.8h0M50.1 216.0h0M42.7 219.1h0M57.9 217.8h0M68.6 210.4h0M67.3 209.1h0M71.3 206.7h0M77.5 203.0h0M75.2 201.2h0M75.0 202.5h0M76.3 201.8h0M63.7 210.0h0M57.1 211.9h0M73.0 203.9h0M66.3 210.0h0M70.1 206.1h0M69.6 207.7h0M62.6 208.9h0M65.3 210.0h0M71.9 204.7h0M58.1 212.7h0M60.0 212.7h0M62.1 208.7h0M71.6 206.6h0M63.9 210.0h0M59.7 210.5h0M60.4 212.6h0M58.2 214.7h0M61.2 211.3h0M61.7 209.1h0M67.7 206.8h0M64.2 207.4h0M58.1 215.3h0M59.3 214.9h0M64.2 210.4h0M59.1 213.5h0M73.4 203.2h0M59.9 210.8h0M59.0 214.3h0M67.7 207.7h0M64.6 212.1h0M73.0 205.6h0M68.8 209.4h0M63.0 212.0h0M63.3 210.7h0M57.5 214.4h0M61.5 211.3h0M68.4 205.4h0M68.0 207.3h0M72.1 204.0h0M57.4 215.1h0M64.9 212.3h0M69.4 207.2h0M66.8 210.7h0M61.9 213.2h0M74.9 203.3h0M66.7 200.6h0M63.7 211.0h0M66.2 207.5h0M61.0 213.5h0M71.4 206.5h0M58.5 213.4h0M60.3 213.3h0M74.0 203.5h0M73.8 204.3h0M59.5 215.2h0M64.1 209.4h0M72.3 206.0h0M58.5 214.0h0M75.5 202.2h0M63.0 210.4h0M62.3 212.7h0M71.6 207.6h0M61.4 210.9h0M70.8 202.5h0M64.3 211.3h0M57.9 212.7h0M76.4 202.3h0M59.2 212.8h0M60.2 215.3h0M59.3 214.0h0M73.1 204.2h0M62.7 210.9h0M57.5 214.0h0M68.3 208.2h0M66.1 208.9h0M68.9 209.2h0M67.0 206.6h0M69.7 207.1h0M73.8 206.6h0M67.3 208.2h0M77.5 204.2h0M66.8 209.7h0M59.5 213.2h0M58.9 213.2h0M72.2 205.6h0M68.2 205.6h0M75.4 202.3h0M70.5 205.4h0M57.6 212.0h0M75.2 203.2h0M60.1 213.6h0M58.3 215.0h0M57.6 212.4h0M65.9 205.6h0M63.1 210.0h0M73.5 203.7h0M67.6 210.2h0M64.5 210.5h0M62.7 209.7h0M74.2 212.3h0M74.9 203.1h0M70.3 206.9h0M60.0 215.1h0M65.2 210.5h0M63.2 213.2h0M69.7 207.0h0M59.6 215.9h0M72.2 205.3h0M74.5 205.3h0M61.2 211.1h0M56.4 213.5h0M65.0 208.1h0M76.7 204.0h0M64.9 209.8h0M61.8 209.6h0M59.1 212.9h0M69.7 208.9h0M59.2 212.2h0M65.9 211.5h0M75.8 202.6h0M63.6 209.3h0M78.1 209.0h0M66.4 209.8h0M76.8 201.9h0M64.0 209.7h0M61.6 212.0h0M69.9 206.1h0M62.3 211.3h0M65.5 212.6h0M76.6 201.8h0M65.3 209.1h0M67.1 210.0h0M69.4 208.5h0M74.1 208.9h0M69.0 218.8h0M62.8 210.2h0M66.5 210.1h0M74.8 204.2h0M74.0 201.6h0M58.5 216.4h0M69.8 208.8h0M61.0 211.2h0M57.7 215.3h0M68.4 208.5h0M57.2 213.5h0M75.9 202.2h0M60.6 213.5h0M58.7 210.5h0M59.6 218.1h0M65.0 210.7h0M60.8 211.8h0M76.4 204.1h0M57.0 212.1h0M60.7 212.0h0M67.8 206.7h0M71.9 206.8h0M58.7 212.6h0M69.2 208.6h0M63.2 213.3h0M66.2 206.7h0M63.9 209.3h0M67.1 209.5h0M63.9 210.1h0M59.7 214.6h0M61.1 209.9h0M69.4 205.7h0M65.6 207.8h0M75.2 202.9h0M66.5 211.7h0M56.3 212.4h0M62.4 211.7h0M59.1 211.3h0M60.4 213.9h0M76.6 202.5h0M65.2 208.6h0M58.9 212.0h0M61.4 211.8h0M76.9 203.0h0M69.3 207.9h0M68.1 205.5h0M66.5 210.0h0M65.0 208.8h0M61.4 211.6h0M61.4 212.7h0M58.2 212.0h0M71.8 205.1h0M61.9 212.8h0M70.0 209.4h0M68.1 208.8h0M60.6 213.2h0M72.4 206.0h0M71.7 203.3h0M68.5 207.9h0M58.5 214.5h0M69.9 207.8h0M69.9 209.2h0M73.7 201.4h0M68.4 208.5h0M59.6 212.3h0M59.3 214.2h0M65.2 208.9h0M61.3 210.5h0M58.3 213.5h0M56.5 213.4h0M57.3 211.8h0M71.3 204.1h0M58.7 215.5h0M71.4 204.7h0M74.8 203.0h0M57.3 213.3h0M60.1 211.4h0M72.0 207.0h0M64.6 210.5h0M59.5 214.5h0M66.2 210.2h0M68.2 208.1h0M71.6 205.6h0M67.1 205.7h0M77.2 202.6h0M61.2 212.9h0M75.3 202.9h0M59.2 209.5h0M60.8 212.0h0M71.0 205.2h0M69.5 206.6h0M64.2 212.2h0M75.0 205.3h0M66.8 208.6h0M71.0 207.6h0M65.2 209.0h0M67.9 206.8h0M66.9 207.9h0M72.4 206.6h0M65.6 208.6h0M66.4 206.2h0M60.0 205.7h0M64.8 209.8h0M73.3 204.7h0M73.9 205.9h0M75.8 203.4h0M58.8 212.5h0M60.7 210.5h0M62.1 212.2h0M76.9 202.3h0M64.5 209.5h0M62.4 211.4h0M63.8 212.0h0M64.7 211.5h0M72.4 205.6h0M58.2 215.7h0M66.2 201.6h0M65.6 209.7h0M58.3 214.6h0M72.8 204.3h0M72.5 203.4h0M72.3 204.4h0M64.7 210.1h0M72.8 206.2h0M76.9 203.6h0M65.3 207.0h0M74.6 206.1h0M74.3 202.4h0M61.5 211.5h0M71.4 211.5h0M73.3 201.7h0M70.9 207.1h0M66.9 209.7h0M69.0 209.0h0M62.7 213.5h0M69.5 206.0h0M61.0 213.0h0M66.1 211.4h0M63.8 209.5h0M62.1 209.5h0M59.6 211.0h0M68.9 207.5h0M66.1 208.9h0M62.0 212.8h0M69.3 209.3h0M67.9 209.3h0M62.0 211.1h0M59.9 209.3h0M63.6 211.4h0M59.2 212.1h0M59.4 210.0h0M60.8 213.8h0M62.5 210.0h0M58.4 214.6h0M75.5 201.4h0M66.5 208.9h0M75.5 202.6h0M58.5 212.1h0M69.4 207.3h0M74.0 205.9h0M61.0 215.9h0M68.0 206.4h0M68.3 210.0h0M95.4 187.9h0M89.6 192.2h0M89.9 195.4h0M90.8 193.0h0M93.2 187.4h0M83.5 207.1h0M84.9 198.2h0M80.4 199.4h0M80.5 199.2h0M91.7 190.2h0M85.4 193.1h0M85.4 194.1h0M82.1 198.6h0M82.2 198.6h0M79.1 202.4h0M83.0 196.6h0M83.1 196.3h0M83.3 194.5h0M81.4 199.7h0M92.1 193.2h0M80.0 202.3h0M79.0 200.2h0M89.9 191.3h0M94.4 189.6h0M79.3 201.7h0M89.9 195.0h0M88.7 194.3h0M95.3 186.7h0M77.9 202.2h0M80.6 196.9h0M83.9 200.5h0M95.7 186.5h0M88.5 202.1h0M91.8 192.4h0M89.7 197.3h0M96.7 187.0h0M91.9 190.6h0M78.7 199.8h0M94.8 187.4h0M93.6 186.5h0M79.0 202.3h0M88.4 192.6h0M85.7 197.5h0M93.9 189.7h0M83.0 197.7h0M90.3 190.8h0M78.5 201.3h0M82.6 197.1h0M78.7 197.4h0M93.3 190.4h0M82.0 199.1h0M83.5 195.1h0M91.6 191.1h0M81.8 199.4h0M84.8 195.6h0M90.7 190.3h0M79.7 199.7h0M87.9 191.9h0M75.7 199.7h0M87.5 193.6h0M83.8 196.2h0M80.4 201.6h0M94.4 188.3h0M85.9 191.0h0M78.7 198.4h0M90.5 191.3h0M91.9 190.1h0M78.7 201.2h0M95.2 187.7h0M77.0 200.2h0M95.9 188.7h0M82.8 195.6h0M80.6 196.8h0M93.0 189.0h0M86.8 195.8h0M81.0 197.1h0M88.6 195.6h0M83.9 194.2h0M80.6 198.3h0M78.0 200.3h0M88.8 190.9h0M81.1 199.9h0M88.3 193.3h0M86.3 195.6h0M77.4 200.7h0M80.0 202.5h0M90.4 190.6h0M92.6 188.1h0M84.5 198.0h0M90.2 191.8h0M91.3 190.1h0M89.3 188.1h0M94.5 196.8h0M85.9 198.5h0M76.6 201.4h0M79.7 198.1h0M92.4 191.0h0M79.1 200.1h0M76.9 200.6h0M84.0 196.1h0M85.8 196.7h0M95.4 190.4h0M87.4 191.9h0M77.7 202.5h0M84.4 195.1h0M94.6 187.3h0M87.4 194.1h0M94.5 188.7h0M96.7 186.2h0M88.1 191.9h0M83.8 195.0h0M86.7 192.5h0M89.0 193.5h0M93.0 189.5h0M91.6 190.0h0M85.8 192.6h0M85.1 195.2h0M95.5 185.7h0M76.6 201.1h0M81.5 199.2h0M91.4 190.4h0M94.2 186.7h0M86.9 192.1h0M79.6 201.4h0M86.2 194.3h0M95.2 188.4h0M89.5 193.5h0M98.0 190.8h0M79.3 201.1h0M83.4 194.6h0M101.4 202.2h0M94.1 188.6h0M86.7 195.8h0M81.4 198.2h0M96.8 187.7h0M81.9 198.0h0M82.9 197.2h0M94.8 186.3h0M95.4 185.9h0M87.3 193.5h0M93.3 188.0h0M79.9 197.6h0M81.5 197.3h0M95.8 188.0h0M79.4 199.1h0M83.7 197.6h0M87.8 194.2h0M87.3 192.0h0M78.2 197.8h0M88.1 193.4h0M80.6 197.8h0M84.2 198.4h0M84.4 195.5h0M93.6 190.0h0M86.7 194.2h0M81.7 198.2h0M84.4 197.4h0M80.0 199.1h0M77.1 200.5h0M91.4 188.3h0M79.8 197.8h0M83.1 196.0h0M83.3 197.0h0M78.0 200.8h0M80.8 198.7h0M94.2 186.6h0M93.5 189.6h0M80.7 197.9h0M77.3 201.5h0M96.6 195.5h0M81.4 196.4h0M83.5 196.9h0M96.0 186.9h0M78.4 202.6h0M76.8 201.1h0M82.7 198.6h0M89.1 194.2h0M93.8 189.7h0M82.8 195.4h0M81.4 199.9h0M93.4 190.1h0M92.6 189.0h0M75.8 199.4h0M78.5 201.9h0M86.3 193.6h0M85.9 193.8h0M85.7 192.5h0M88.6 190.8h0M96.2 185.8h0M82.4 196.5h0M80.4 196.5h0M87.3 191.2h0M97.0 187.8h0M80.8 197.4h0M81.2 197.1h0M87.3 193.6h0M78.2 199.7h0M94.8 188.2h0M85.3 194.9h0M84.8 196.6h0M80.3 199.9h0M85.2 198.4h0M102.2 181.0h0M98.5 186.6h0M108.1 175.7h0M103.2 181.9h0M99.7 184.8h0M114.3 170.8h0M113.0 170.4h0M97.7 182.8h0M111.6 172.2h0M115.2 170.6h0M116.2 169.8h0M115.7 169.1h0M106.9 175.8h0M102.6 180.0h0M106.6 177.0h0M111.6 172.3h0M103.1 181.2h0M113.6 173.8h0M113.6 173.7h0M106.5 176.6h0M110.0 175.0h0M99.6 181.4h0M97.8 185.5h0M100.5 182.8h0M106.8 177.7h0M107.2 177.2h0M105.0 179.1h0M98.5 181.4h0M110.1 176.1h0M108.3 175.1h0M99.9 182.4h0M99.5 184.5h0M110.3 174.1h0M105.8 175.9h0M115.0 170.8h0M98.7 185.2h0M98.5 185.1h0M109.3 176.9h0M108.2 176.8h0M104.7 178.3h0M110.7 177.4h0M111.2 174.4h0M97.7 184.3h0M113.7 170.9h0M104.3 178.1h0M105.2 178.1h0M115.4 167.5h0M104.7 180.4h0M108.7 175.2h0M99.2 185.9h0M106.5 178.1h0M112.4 182.4h0M104.9 180.0h0M113.1 173.3h0M102.3 181.5h0M98.5 185.1h0M101.3 182.1h0M114.8 169.5h0M116.7 170.1h0M106.2 177.4h0M98.8 184.3h0M109.2 176.1h0M102.1 180.3h0M99.5 185.1h0M98.3 183.9h0M100.6 183.4h0M101.4 187.3h0M114.3 171.4h0M108.9 175.3h0M105.3 179.1h0M101.9 180.3h0M109.4 174.2h0M108.3 173.2h0M104.6 180.7h0M108.8 175.8h0M109.0 174.3h0M108.5 176.6h0M102.7 179.3h0M103.6 182.0h0M100.4 183.6h0M108.1 176.8h0M98.6 184.2h0M105.0 180.6h0M102.1 183.7h0M106.1 175.4h0M100.7 182.6h0M104.1 183.1h0M106.0 176.1h0M113.3 169.7h0M99.0 184.0h0M109.9 176.3h0M102.8 179.7h0M102.4 181.1h0M114.8 172.6h0M114.6 168.7h0M97.1 183.5h0M102.9 181.0h0M109.8 174.1h0M101.6 181.6h0M98.0 184.1h0M101.4 182.1h0M98.2 180.5h0M105.6 177.8h0M100.9 183.3h0M102.6 180.5h0M115.3 171.6h0M112.6 172.9h0M104.7 180.1h0M112.4 172.7h0M104.2 179.9h0M110.2 173.0h0M106.9 175.4h0M113.2 168.1h0M120.3 163.5h0M125.5 159.9h0M131.3 155.3h0M119.0 165.6h0M126.3 160.3h0M129.2 155.5h0M130.7 155.2h0M119.2 167.4h0M132.9 150.0h0M128.2 155.2h0M135.5 150.2h0M122.9 163.4h0M132.6 153.1h0M123.1 161.9h0M124.3 162.2h0M124.7 160.6h0M128.7 155.8h0M119.0 165.4h0M132.5 156.5h0M122.3 162.0h0M125.1 171.6h0M133.4 152.5h0M134.3 150.7h0M119.5 168.6h0M122.9 164.0h0M125.2 162.0h0M136.0 149.5h0M117.4 168.7h0M122.7 161.2h0M122.6 161.2h0M124.0 163.0h0M131.9 151.8h0M117.6 168.4h0M128.3 158.4h0M124.7 161.3h0M125.1 167.9h0M117.0 165.8h0M130.3 156.0h0M121.8 161.8h0M130.8 153.4h0M122.3 163.4h0M119.5 166.2h0M123.4 162.4h0M129.0 157.4h0M122.2 162.9h0M131.2 155.3h0M131.1 153.0h0M122.5 162.5h0M132.7 154.0h0M117.0 166.0h0M123.4 162.7h0M134.3 151.0h0M124.9 162.6h0M122.0 161.4h0M117.2 168.2h0M148.7 138.4h0M154.0 134.6h0M136.6 147.8h0M142.0 142.8h0M148.8 144.4h0M151.8 136.7h0M139.8 147.0h0M141.2 145.0h0M143.0 142.7h0M150.6 139.3h0M154.2 133.3h0M141.0 144.1h0M138.6 148.0h0M152.5 132.9h0M138.5 147.8h0M141.8 145.3h0M158.0 141.1h0M144.4 141.1h0M151.4 136.7h0M142.0 145.8h0M138.3 149.0h0M171.0 118.1h0M167.5 122.3h0M174.0 115.6h0M176.0 113.7h0M162.4 126.9h0M157.6 131.0h0M163.8 125.7h0M160.7 127.9h0M161.4 128.3h0M169.6 120.7h0M164.7 125.4h0M174.3 114.6h0M159.7 129.7h0M184.7 107.1h0M186.4 104.7h0M188.6 101.3h0M180.7 109.8h0M185.8 102.7h0M182.0 108.0h0M185.5 105.0h0M195.5 93.5h0M190.6 98.9h0M193.2 97.3h0M178.0 113.4h0M179.7 108.1h0M204.6 84.6h0M205.7 84.5h0M201.4 85.5h0M199.3 90.3h0M206.2 81.9h0M198.9 90.7h0M202.2 87.9h0M204.5 85.8h0M203.9 86.9h0M205.8 82.0h0M198.6 92.9h0M206.4 81.6h0M211.2 74.7h0M212.9 71.5h0M220.8 60.6h0M213.9 71.4h0M218.1 61.8h0M214.7 69.2h0M215.9 65.3h0M213.2 72.8h0M210.1 77.8h0M217.2 65.5h0M218.7 58.9h0M219.5 59.4h0M215.1 68.7h0M219.1 63.7h0M214.8 66.7h0M220.2 60.5h0M218.7 62.9h0M215.7 67.3h0M217.0 66.9h0M218.6 62.0h0M212.6 74.1h0M227.5 67.8h0M215.8 70.1h0M235.9 53.6h0M227.0 60.3h0M223.3 63.2h0M236.6 48.1h0M225.5 66.3h0M233.6 50.3h0M239.1 50.5h0M237.3 43.7h0M223.9 61.0h0M241.2 50.1h0M234.5 53.4h0M242.6 48.9h0M221.2 67.7h0M240.9 52.9h0M234.9 50.6h0M222.8 63.1h0M229.2 56.9h0M232.8 57.6h0M232.0 55.6h0M239.3 44.0h0M238.7 48.8h0M237.5 47.9h0M240.2 48.8h0M233.3 49.2h0M234.2 56.2h0M241.7 36.0h0M242.5 34.9h0M242.1 37.9h0M242.3 40.9h0M240.7 33.4h0M253.6 33.4h0M245.5 40.7h0M250.2 34.7h0M246.3 40.2h0M250.3 37.3h0M248.9 36.3h0M250.1 34.3h0M256.1 28.3h0M256.1 26.2h0M254.5 31.2h0M215.0 62.6h0M216.9 67.8h0M213.9 72.5h0M216.0 67.8h0M217.7 65.1h0M212.9 73.3h0M218.5 59.4h0M219.0 60.2h0M219.5 59.9h0M216.0 67.7h0M216.6 65.7h0M217.2 67.2h0" stroke="#000" stroke-opacity="0.45" stroke-width="2.2" stroke-linecap="round" fill="none"/>
</g>
<rect x="48.6" y="20.4" width="215.45000000000002" height="199.6" fill="none" stroke="#111" stroke-width="0.95"/>
<line x1="45.00" y1="206.29" x2="48.6" y2="206.29" stroke="#000" stroke-width="1.05"/>
<line x1="45.00" y1="178.07" x2="48.6" y2="178.07" stroke="#000" stroke-width="1.05"/>
<line x1="45.00" y1="149.86" x2="48.6" y2="149.86" stroke="#000" stroke-width="1.05"/>
<line x1="45.00" y1="121.64" x2="48.6" y2="121.64" stroke="#000" stroke-width="1.05"/>
<line x1="45.00" y1="93.43" x2="48.6" y2="93.43" stroke="#000" stroke-width="1.05"/>
<line x1="45.00" y1="65.22" x2="48.6" y2="65.22" stroke="#000" stroke-width="1.05"/>
<line x1="45.00" y1="37.00" x2="48.6" y2="37.00" stroke="#000" stroke-width="1.05"/>
<line x1="53.86" y1="220.0" x2="53.86" y2="222.30" stroke="#000" stroke-width="0.8"/>
<line x1="59.92" y1="220.0" x2="59.92" y2="222.30" stroke="#000" stroke-width="0.8"/>
<line x1="65.05" y1="220.0" x2="65.05" y2="222.30" stroke="#000" stroke-width="0.8"/>
<line x1="69.48" y1="220.0" x2="69.48" y2="222.30" stroke="#000" stroke-width="0.8"/>
<line x1="73.40" y1="220.0" x2="73.40" y2="222.30" stroke="#000" stroke-width="0.8"/>
<line x1="76.90" y1="220.0" x2="76.90" y2="224.00" stroke="#000" stroke-width="1.05"/>
<line x1="99.94" y1="220.0" x2="99.94" y2="222.30" stroke="#000" stroke-width="0.8"/>
<line x1="113.41" y1="220.0" x2="113.41" y2="222.30" stroke="#000" stroke-width="0.8"/>
<line x1="122.97" y1="220.0" x2="122.97" y2="222.30" stroke="#000" stroke-width="0.8"/>
<line x1="130.39" y1="220.0" x2="130.39" y2="222.30" stroke="#000" stroke-width="0.8"/>
<line x1="136.45" y1="220.0" x2="136.45" y2="222.30" stroke="#000" stroke-width="0.8"/>
<line x1="141.57" y1="220.0" x2="141.57" y2="222.30" stroke="#000" stroke-width="0.8"/>
<line x1="146.01" y1="220.0" x2="146.01" y2="222.30" stroke="#000" stroke-width="0.8"/>
<line x1="149.92" y1="220.0" x2="149.92" y2="222.30" stroke="#000" stroke-width="0.8"/>
<line x1="153.43" y1="220.0" x2="153.43" y2="224.00" stroke="#000" stroke-width="1.05"/>
<line x1="176.46" y1="220.0" x2="176.46" y2="222.30" stroke="#000" stroke-width="0.8"/>
<line x1="189.94" y1="220.0" x2="189.94" y2="222.30" stroke="#000" stroke-width="0.8"/>
<line x1="199.50" y1="220.0" x2="199.50" y2="222.30" stroke="#000" stroke-width="0.8"/>
<line x1="206.91" y1="220.0" x2="206.91" y2="222.30" stroke="#000" stroke-width="0.8"/>
<line x1="212.97" y1="220.0" x2="212.97" y2="222.30" stroke="#000" stroke-width="0.8"/>
<line x1="218.10" y1="220.0" x2="218.10" y2="222.30" stroke="#000" stroke-width="0.8"/>
<line x1="222.53" y1="220.0" x2="222.53" y2="222.30" stroke="#000" stroke-width="0.8"/>
<line x1="226.45" y1="220.0" x2="226.45" y2="222.30" stroke="#000" stroke-width="0.8"/>
<line x1="229.95" y1="220.0" x2="229.95" y2="224.00" stroke="#000" stroke-width="1.05"/>
<line x1="252.99" y1="220.0" x2="252.99" y2="222.30" stroke="#000" stroke-width="0.8"/>
<text x="68.00" y="235.1" font-size="11.9" textLength="11.6" lengthAdjust="spacingAndGlyphs">10</text>
<text x="80.40" y="231.8" font-size="8.8">6</text>
<text x="144.53" y="235.1" font-size="11.9" textLength="11.6" lengthAdjust="spacingAndGlyphs">10</text>
<text x="156.93" y="231.8" font-size="8.8">7</text>
<text x="221.05" y="235.1" font-size="11.9" textLength="11.6" lengthAdjust="spacingAndGlyphs">10</text>
<text x="233.45" y="231.8" font-size="8.8">8</text>
<text x="157.13" y="14.6" font-size="14.5" text-anchor="middle">D0</text>
<text x="110.08" y="250.7" font-size="12.2" textLength="84" lengthAdjust="spacingAndGlyphs">Rupture area (m</text>
<text x="194.48" y="246.4" font-size="8.2">2</text>
<text x="199.48" y="250.7" font-size="12.2">)</text>
<g clip-path="url(#c1)">
<polygon points="273.60,215.86 499.05,-53.23 499.05,48.64 273.60,317.73" fill="#f2f2f2"/>
<line x1="305.95" y1="20.4" x2="305.95" y2="220.0" stroke="#b0b0b0" stroke-width="0.8" stroke-dasharray="0.8 1.32"/>
<line x1="376.17" y1="20.4" x2="376.17" y2="220.0" stroke="#b0b0b0" stroke-width="0.8" stroke-dasharray="0.8 1.32"/>
<line x1="446.40" y1="20.4" x2="446.40" y2="220.0" stroke="#b0b0b0" stroke-width="0.8" stroke-dasharray="0.8 1.32"/>
<line x1="278.6" y1="206.14" x2="494.05" y2="206.14" stroke="#b0b0b0" stroke-width="0.8" stroke-dasharray="0.8 1.32"/>
<line x1="278.6" y1="178.20" x2="494.05" y2="178.20" stroke="#b0b0b0" stroke-width="0.8" stroke-dasharray="0.8 1.32"/>
<line x1="278.6" y1="150.26" x2="494.05" y2="150.26" stroke="#b0b0b0" stroke-width="0.8" stroke-dasharray="0.8 1.32"/>
<line x1="278.6" y1="122.32" x2="494.05" y2="122.32" stroke="#b0b0b0" stroke-width="0.8" stroke-dasharray="0.8 1.32"/>
<line x1="278.6" y1="94.38" x2="494.05" y2="94.38" stroke="#b0b0b0" stroke-width="0.8" stroke-dasharray="0.8 1.32"/>
<line x1="278.6" y1="66.44" x2="494.05" y2="66.44" stroke="#b0b0b0" stroke-width="0.8" stroke-dasharray="0.8 1.32"/>
<line x1="278.6" y1="38.50" x2="494.05" y2="38.50" stroke="#b0b0b0" stroke-width="0.8" stroke-dasharray="0.8 1.32"/>
<line x1="273.60" y1="215.86" x2="499.05" y2="-53.23" stroke="#ffadad" stroke-width="0.9"/>
<line x1="273.60" y1="317.73" x2="499.05" y2="48.64" stroke="#ffadad" stroke-width="0.9"/>
<line x1="273.60" y1="266.55" x2="499.05" y2="-2.55" stroke="#a8a8a8" stroke-width="0.6"/>
<path d="M282.1 223.0h0M272.2 226.9h0M280.5 219.2h0M276.6 224.6h0M274.9 224.8h0M272.9 227.1h0M281.6 221.4h0M276.5 221.2h0M286.6 215.5h0M274.5 226.9h0M286.9 217.0h0M282.3 219.2h0M287.0 219.9h0M274.7 228.4h0M280.3 221.2h0M286.4 218.6h0M273.9 226.8h0M283.1 226.0h0M285.3 217.5h0M271.5 228.9h0M288.2 224.7h0M280.6 225.2h0M286.5 216.9h0M273.1 226.5h0M286.7 216.8h0M282.6 216.8h0M277.2 223.1h0M285.1 219.6h0M278.1 225.4h0M272.9 223.4h0M272.4 228.4h0M281.7 221.2h0M273.2 229.9h0M274.3 227.2h0M276.1 221.8h0M280.4 218.1h0M283.4 218.1h0M285.1 215.2h0M284.2 221.9h0M285.9 223.4h0M277.4 225.8h0M281.3 218.3h0M278.8 226.8h0M275.5 225.7h0M278.7 220.8h0M278.5 216.4h0M278.5 223.1h0M279.0 228.1h0M275.5 228.2h0M287.2 215.9h0M276.2 225.1h0M281.9 221.4h0M288.3 217.6h0M273.2 224.3h0M279.5 225.7h0M277.6 222.6h0M285.2 214.8h0M286.9 219.8h0M281.8 216.8h0M274.9 226.5h0M283.5 216.1h0M282.9 216.8h0M286.4 221.0h0M285.3 217.8h0M285.2 216.2h0M273.6 230.0h0M275.6 224.1h0M280.3 222.7h0M283.2 220.4h0M278.6 221.9h0M273.7 229.5h0M272.4 230.1h0M284.8 220.3h0M287.5 216.7h0M287.2 218.9h0M283.7 216.2h0M287.2 216.6h0M291.7 230.5h0M280.7 219.0h0M275.6 224.5h0M278.9 228.5h0M276.3 225.6h0M282.3 220.1h0M286.0 219.0h0M285.9 221.0h0M285.8 218.0h0M274.3 224.2h0M277.2 223.1h0M273.7 227.0h0M281.7 219.7h0M279.7 225.4h0M275.1 223.4h0M275.9 226.8h0M280.2 234.9h0M283.9 219.9h0M285.3 214.9h0M280.8 217.0h0M271.1 228.1h0M276.7 226.9h0M273.7 229.5h0M278.8 217.9h0M282.8 215.0h0M279.7 216.6h0M283.6 215.0h0M276.5 230.0h0M276.4 221.8h0M275.3 228.7h0M275.0 227.5h0M276.0 223.3h0M280.8 220.0h0M275.2 223.7h0M281.6 226.8h0M277.9 228.3h0M281.5 221.2h0M272.6 228.3h0M283.3 224.0h0M277.8 226.4h0M275.3 224.7h0M277.1 223.0h0M281.6 221.3h0M276.6 225.7h0M276.1 222.4h0M283.6 221.0h0M282.4 222.8h0M281.2 218.0h0M280.8 221.8h0M288.6 217.9h0M281.6 221.0h0M277.0 220.7h0M272.1 228.3h0M279.6 224.2h0M277.6 227.8h0M277.1 226.6h0M271.4 227.6h0M275.2 230.9h0M280.7 223.0h0M274.4 221.6h0M279.2 220.2h0M279.9 221.3h0M286.8 218.6h0M285.0 216.0h0M279.7 220.1h0M275.7 221.3h0M274.5 231.5h0M286.2 216.0h0M283.6 220.7h0M278.7 222.1h0M272.0 227.5h0M280.3 217.7h0M274.8 231.8h0M285.8 214.5h0M284.7 219.5h0M282.4 222.3h0M272.7 230.2h0M283.6 223.0h0M286.3 218.7h0M282.1 220.8h0M282.4 217.5h0M282.7 215.6h0M280.6 227.2h0M276.8 222.8h0M278.8 222.6h0M274.3 225.1h0M286.9 219.0h0M282.3 224.2h0M270.7 225.9h0M281.1 222.4h0M273.7 227.0h0M284.6 217.8h0M280.2 221.5h0M276.3 224.3h0M280.2 217.0h0M280.4 220.6h0M284.5 218.8h0M273.2 230.5h0M277.6 210.0h0M268.8 224.6h0M286.1 215.2h0M288.2 220.1h0M277.3 228.7h0M274.1 226.2h0M277.6 223.4h0M285.2 216.9h0M280.3 219.5h0M280.1 222.5h0M286.5 219.9h0M281.8 219.7h0M274.9 229.0h0M283.1 218.0h0M280.8 226.0h0M276.3 228.3h0M282.5 216.6h0M273.1 229.1h0M279.2 217.8h0M277.6 229.1h0M286.1 218.3h0M287.7 219.4h0M274.4 230.3h0M281.9 224.9h0M270.5 228.4h0M276.5 224.1h0M283.6 216.6h0M275.1 225.2h0M272.1 226.7h0M275.7 228.6h0M278.8 222.4h0M278.2 224.3h0M279.4 222.2h0M276.1 226.5h0M282.8 221.5h0M285.9 215.9h0M286.8 217.4h0M281.1 217.3h0M280.1 226.5h0M285.3 217.1h0M282.0 225.3h0M273.8 228.8h0M273.3 231.2h0M270.3 225.0h0M286.6 217.0h0M285.0 218.9h0M278.5 225.8h0M275.6 229.9h0M279.6 222.5h0M279.8 224.9h0M281.2 226.7h0M282.7 223.4h0M284.0 222.3h0M283.9 218.4h0M284.8 216.7h0M277.8 223.0h0M273.4 229.4h0M277.0 216.3h0M281.9 222.6h0M272.4 228.6h0M282.0 216.3h0M279.7 220.1h0M287.5 218.2h0M277.7 222.7h0M274.8 226.1h0M283.4 221.7h0M274.3 228.2h0M278.9 220.5h0M275.9 228.6h0M276.2 226.7h0M285.9 218.4h0M277.0 223.9h0M274.1 225.3h0M281.1 224.9h0M284.7 220.2h0M273.6 226.5h0M284.9 216.6h0M276.7 224.9h0M279.2 225.7h0M274.9 229.4h0M273.8 227.9h0M278.7 225.0h0M279.2 221.3h0M286.1 215.7h0M273.1 230.1h0M279.1 224.0h0M276.1 226.2h0M281.6 217.2h0M278.3 222.9h0M271.5 227.4h0M279.3 222.8h0M285.3 216.4h0M280.8 222.6h0M276.1 227.1h0M285.5 217.5h0M279.2 223.5h0M272.8 226.9h0M285.8 215.3h0M278.9 236.3h0M274.9 228.0h0M276.9 222.4h0M286.8 215.8h0M278.9 227.8h0M271.9 228.9h0M281.5 221.4h0M280.0 218.4h0M288.2 217.4h0M275.1 226.3h0M277.8 224.4h0M279.0 224.4h0M280.8 221.7h0M275.1 229.1h0M274.6 229.2h0M277.6 225.3h0M282.1 220.1h0M283.2 218.4h0M279.0 224.7h0M282.2 221.2h0M282.0 221.5h0M278.6 219.1h0M278.6 220.4h0M281.0 220.6h0M272.2 229.1h0M278.6 221.6h0M277.9 222.9h0M284.8 218.3h0M281.9 220.7h0M278.3 224.8h0M278.2 225.1h0M281.3 220.0h0M283.9 219.9h0M276.8 226.2h0M286.4 225.8h0M272.7 230.3h0M282.7 219.6h0M276.1 227.7h0M278.0 233.1h0M276.2 226.2h0M285.0 219.8h0M273.6 228.9h0M276.8 221.4h0M279.0 218.7h0M279.0 224.8h0M285.9 216.8h0M272.4 230.2h0M286.1 215.5h0M281.4 220.3h0M273.0 227.2h0M277.2 227.7h0M279.9 221.7h0M272.7 230.1h0M285.6 214.6h0M274.3 220.9h0M276.7 223.9h0M278.5 223.2h0M283.2 217.9h0M283.9 219.4h0M281.6 222.1h0M280.7 216.6h0M278.4 222.3h0M272.1 227.5h0M276.7 221.2h0M277.0 220.0h0M283.5 217.0h0M276.0 223.0h0M278.5 222.7h0M274.3 221.5h0M276.4 225.0h0M271.5 227.6h0M274.5 226.5h0M279.4 223.8h0M286.5 215.2h0M275.4 222.3h0M273.4 224.7h0M282.5 220.4h0M273.9 229.1h0M278.7 222.1h0M277.1 221.8h0M273.4 227.1h0M275.3 227.4h0M278.7 222.2h0M284.1 215.3h0M278.6 222.7h0M280.9 224.5h0M271.4 228.9h0M274.0 222.3h0M271.6 228.9h0M284.3 220.8h0M276.1 222.9h0M281.2 222.0h0M276.1 224.8h0M286.4 215.8h0M277.6 224.3h0M270.7 228.4h0M273.3 226.9h0M276.6 230.6h0M277.4 232.7h0M281.4 221.7h0M280.1 220.6h0M277.3 224.5h0M284.4 219.6h0M272.4 228.7h0M271.5 228.1h0M272.3 229.8h0M282.0 221.0h0M282.0 218.6h0M276.5 224.9h0M284.2 215.4h0M276.8 222.2h0M275.2 230.6h0M278.6 221.2h0M276.8 231.7h0M284.7 218.3h0M282.3 222.9h0M276.0 227.9h0M279.1 220.4h0M277.8 221.5h0M274.7 230.8h0M278.2 225.7h0M280.2 218.7h0M280.4 218.9h0M287.2 216.5h0M270.9 227.5h0M282.9 225.7h0M282.7 213.7h0M279.2 220.2h0M275.6 225.3h0M285.0 214.3h0M282.4 223.8h0M281.3 221.8h0M287.9 217.2h0M276.9 227.6h0M288.3 219.4h0M273.2 227.0h0M287.6 217.0h0M274.4 224.0h0M281.8 218.9h0M275.6 222.4h0M272.3 229.5h0M275.3 227.0h0M284.1 221.6h0M276.5 228.1h0M285.4 214.0h0M273.8 228.2h0M283.9 214.4h0M288.2 218.0h0M284.2 235.6h0M272.6 229.9h0M277.3 220.9h0M284.6 213.4h0M284.2 222.6h0M278.7 225.7h0M279.8 223.1h0M273.5 225.2h0M287.4 219.3h0M273.5 230.9h0M278.0 226.1h0M279.1 227.7h0M275.1 229.4h0M274.3 231.4h0M286.1 212.8h0M289.5 215.7h0M305.7 200.7h0M297.2 207.8h0M290.1 218.2h0M301.1 201.6h0M288.5 211.9h0M290.7 207.5h0M288.7 216.5h0M301.5 206.5h0M298.5 203.7h0M292.8 209.3h0M302.1 200.9h0M303.3 202.3h0M299.7 207.2h0M296.2 202.1h0M289.9 217.7h0M296.3 206.4h0M297.0 206.4h0M300.8 207.3h0M295.7 206.6h0M287.8 214.0h0M303.6 196.1h0M286.7 214.2h0M307.2 200.2h0M291.1 213.1h0M293.7 210.5h0M294.2 208.7h0M302.1 199.5h0M296.7 208.8h0M288.6 209.6h0M308.5 203.7h0M303.7 201.8h0M291.2 210.8h0M291.3 214.3h0M304.0 205.1h0M288.6 216.6h0M291.8 208.8h0M292.0 213.1h0M289.5 212.8h0M292.4 214.7h0M288.0 213.4h0M296.6 210.5h0M302.0 204.8h0M297.7 204.7h0M292.7 212.6h0M299.3 207.7h0M293.6 209.3h0M295.2 208.0h0M302.4 201.2h0M294.5 202.7h0M291.1 212.8h0M286.8 214.4h0M300.6 203.1h0M286.1 210.7h0M300.6 206.4h0M298.0 203.3h0M296.8 208.3h0M292.9 213.2h0M285.9 211.2h0M302.9 198.5h0M287.5 213.2h0M305.8 198.5h0M293.2 210.8h0M295.9 209.3h0M293.8 206.0h0M292.8 210.7h0M292.4 214.2h0M302.4 205.2h0M296.8 209.7h0M297.6 205.8h0M303.6 207.5h0M301.5 201.3h0M301.1 199.9h0M297.1 207.9h0M295.7 210.9h0M287.2 214.8h0M294.9 207.3h0M286.5 213.5h0M286.9 212.1h0M298.3 207.7h0M292.5 214.1h0M301.7 204.5h0M288.1 214.4h0M306.1 198.4h0M305.0 200.1h0M289.0 215.8h0M294.9 208.0h0M300.4 203.5h0M299.1 207.1h0M287.0 214.4h0M305.4 201.1h0M290.1 213.1h0M286.0 213.9h0M290.6 213.7h0M288.4 213.5h0M306.5 221.6h0M306.2 198.8h0M305.0 204.2h0M288.5 216.0h0M300.5 206.9h0M288.4 208.6h0M303.7 198.1h0M301.9 204.5h0M295.5 210.1h0M302.1 203.9h0M297.1 202.3h0M289.5 210.5h0M292.1 211.7h0M293.7 211.5h0M290.6 217.1h0M300.1 202.7h0M298.5 210.3h0M288.7 212.9h0M306.0 198.8h0M304.2 202.8h0M294.9 210.1h0M302.8 202.3h0M305.5 198.5h0M299.6 203.1h0M294.8 204.3h0M294.1 208.4h0M300.2 203.1h0M289.2 211.1h0M293.2 210.8h0M297.6 209.0h0M303.3 202.2h0M286.9 209.3h0M286.5 214.4h0M296.0 206.2h0M289.8 209.0h0M291.2 214.4h0M293.6 212.0h0M292.4 209.6h0M305.8 204.9h0M304.5 198.8h0M290.6 201.9h0M296.8 206.3h0M293.5 208.1h0M293.5 206.1h0M300.1 207.7h0M299.0 203.7h0M302.6 201.7h0M296.4 211.3h0M296.7 204.9h0M287.5 212.0h0M290.5 211.6h0M302.0 205.6h0M292.6 212.5h0M303.1 200.2h0M294.0 209.7h0M293.4 210.0h0M286.2 210.9h0M291.5 216.9h0M304.6 201.7h0M300.7 201.5h0M287.9 214.0h0M301.8 204.6h0M289.8 215.3h0M294.7 210.9h0M294.0 213.3h0M305.7 200.4h0M294.5 208.6h0M289.4 215.0h0M292.6 213.5h0M305.5 201.3h0M302.1 205.0h0M308.0 201.4h0M295.6 208.4h0M300.7 199.9h0M304.9 202.1h0M292.5 210.0h0M298.1 202.6h0M303.9 199.7h0M289.3 216.8h0M301.1 203.4h0M289.6 209.8h0M295.5 208.1h0M307.5 199.3h0M301.7 205.3h0M291.5 208.2h0M294.3 207.2h0M294.8 209.3h0M289.9 211.7h0M294.7 207.0h0M305.9 203.5h0M292.5 209.3h0M305.1 197.2h0M303.2 200.8h0M289.5 211.7h0M301.9 204.9h0M293.8 210.7h0M292.6 211.5h0M292.0 209.7h0M288.7 216.0h0M301.1 203.0h0M290.1 215.1h0M295.1 208.8h0M294.6 209.4h0M305.1 200.5h0M293.5 208.3h0M290.1 213.8h0M299.0 207.6h0M289.7 217.8h0M297.9 199.1h0M297.7 207.4h0M299.3 207.7h0M287.1 214.9h0M298.6 209.5h0M288.6 208.8h0M301.3 206.0h0M299.6 208.4h0M304.0 197.4h0M290.5 212.8h0M299.6 203.2h0M303.4 205.2h0M288.3 214.3h0M301.2 202.8h0M297.0 204.1h0M290.9 210.6h0M302.0 205.4h0M294.4 210.7h0M290.5 214.1h0M293.7 211.1h0M298.4 206.1h0M297.0 203.2h0M301.8 201.7h0M296.3 211.6h0M295.6 208.6h0M298.0 203.7h0M291.8 212.4h0M289.3 213.1h0M285.7 212.8h0M298.4 206.9h0M290.6 214.0h0M289.1 212.1h0M295.4 206.7h0M304.9 201.6h0M304.6 202.7h0M306.7 199.1h0M289.1 210.1h0M288.5 211.5h0M292.0 209.9h0M292.0 210.0h0M298.1 205.3h0M290.2 215.4h0M304.7 196.3h0M288.5 216.1h0M304.5 200.7h0M287.3 213.9h0M300.8 204.6h0M299.7 207.2h0M297.1 206.5h0M290.6 212.3h0M300.5 201.4h0M303.8 202.5h0M291.7 209.2h0M292.8 207.8h0M287.0 212.9h0M294.4 212.6h0M295.1 212.9h0M300.5 199.1h0M301.1 202.4h0M306.4 202.3h0M289.2 211.6h0M300.0 203.3h0M298.1 207.5h0M290.2 217.7h0M298.4 207.0h0M290.1 209.7h0M320.5 218.7h0M286.1 212.1h0M289.9 214.4h0M296.5 206.4h0M291.0 212.1h0M299.6 203.8h0M300.5 208.4h0M293.6 210.7h0M297.1 204.3h0M292.4 209.5h0M296.9 205.9h0M299.3 198.3h0M291.6 210.9h0M288.1 215.0h0M305.4 197.7h0M299.0 206.1h0M302.9 200.7h0M305.3 198.3h0M296.5 207.1h0M297.3 207.3h0M305.9 204.2h0M301.9 202.7h0M291.0 213.1h0M303.4 199.8h0M296.4 205.1h0M297.0 204.9h0M296.8 206.5h0M289.6 211.6h0M302.6 205.5h0M306.0 197.8h0M290.7 212.2h0M298.2 206.6h0M290.2 214.8h0M290.0 213.7h0M294.7 210.5h0M305.8 199.1h0M293.4 211.2h0M306.4 202.3h0M289.7 213.7h0M288.7 217.0h0M298.5 209.7h0M296.0 205.9h0M291.2 212.3h0M302.2 199.7h0M294.0 210.1h0M303.8 203.1h0M302.8 204.6h0M294.2 211.5h0M292.6 212.6h0M304.3 201.1h0M300.2 209.2h0M295.9 212.6h0M302.7 200.4h0M298.0 207.7h0M296.0 207.3h0M297.6 205.7h0M305.8 200.4h0M300.3 203.8h0M301.8 204.9h0M301.4 199.5h0M288.9 215.1h0M305.1 202.1h0M304.9 213.4h0M296.6 204.8h0M304.0 202.8h0M289.1 211.3h0M292.3 211.8h0M304.2 202.5h0M296.5 209.8h0M297.5 210.4h0M291.9 206.9h0M303.1 198.7h0M291.3 212.9h0M302.3 203.1h0M304.0 204.4h0M292.9 210.9h0M307.7 199.7h0M302.0 204.6h0M301.4 206.5h0M298.4 203.9h0M296.9 207.2h0M292.5 212.0h0M288.9 212.3h0M297.5 209.5h0M290.3 217.8h0M298.1 205.2h0M307.1 202.9h0M297.3 210.0h0M299.4 203.4h0M290.6 213.0h0M300.3 204.5h0M289.5 214.1h0M307.7 199.7h0M297.1 208.8h0M299.4 210.2h0M293.2 207.7h0M290.8 214.9h0M300.8 203.5h0M296.1 203.1h0M292.7 209.8h0M287.5 210.7h0M285.9 213.4h0M292.1 209.8h0M291.7 210.4h0M306.1 200.7h0M305.4 200.8h0M299.3 205.3h0M305.0 203.4h0M307.2 199.4h0M302.2 204.8h0M294.4 208.4h0M301.8 200.9h0M299.4 207.7h0M294.7 210.5h0M288.5 213.5h0M291.0 208.0h0M298.6 206.3h0M295.5 210.7h0M305.4 203.5h0M291.8 216.0h0M298.4 204.2h0M292.4 214.0h0M296.7 207.6h0M288.4 216.4h0M294.5 210.4h0M299.0 209.9h0M300.3 201.9h0M298.6 208.6h0M296.7 207.8h0M305.2 200.4h0M294.3 209.5h0M305.7 197.9h0M305.5 200.8h0M291.3 208.8h0M301.6 205.4h0M312.6 197.5h0M319.7 186.8h0M312.9 191.9h0M310.4 197.0h0M309.8 195.5h0M320.1 190.3h0M306.6 197.9h0M315.4 189.6h0M324.3 183.9h0M315.7 189.5h0M326.4 183.4h0M318.5 185.3h0M326.3 181.9h0M323.0 186.5h0M310.6 193.3h0M314.4 191.4h0M311.4 190.9h0M311.2 192.5h0M320.2 187.6h0M316.8 190.5h0M310.3 197.1h0M319.7 188.8h0M321.2 190.4h0M312.4 194.0h0M309.2 193.7h0M315.8 191.7h0M308.0 197.1h0M325.7 186.4h0M308.0 199.0h0M315.9 190.2h0M316.3 191.0h0M322.0 187.3h0M315.5 194.5h0M309.3 193.5h0M309.9 195.4h0M310.2 199.8h0M309.8 196.1h0M321.1 188.8h0M319.8 184.8h0M313.0 196.0h0M307.7 197.0h0M317.9 188.8h0M324.6 185.6h0M315.8 188.0h0M315.6 189.8h0M320.2 186.9h0M313.8 193.7h0M314.0 190.9h0M317.2 187.8h0M311.9 191.4h0M313.7 192.3h0M316.9 183.8h0M323.3 181.6h0M326.0 184.1h0M326.4 182.2h0M307.1 196.8h0M309.7 194.1h0M322.9 190.2h0M321.5 184.7h0M308.2 199.4h0M318.0 185.8h0M311.7 192.9h0M310.9 196.3h0M321.6 190.7h0M311.5 195.8h0M315.7 191.5h0M325.2 180.7h0M308.3 196.5h0M308.4 198.5h0M317.6 190.8h0M325.2 182.5h0M316.6 190.3h0M312.6 191.4h0M311.2 193.4h0M320.3 185.2h0M311.3 195.4h0M307.8 197.8h0M317.8 187.2h0M310.8 196.2h0M321.0 185.6h0M307.1 197.1h0M310.1 193.2h0M316.5 189.7h0M319.5 186.9h0M308.8 196.5h0M306.9 198.3h0M315.3 194.1h0M309.5 196.7h0M310.4 195.0h0M319.4 189.4h0M320.0 187.7h0M314.3 190.6h0M317.2 189.5h0M312.2 196.8h0M315.3 189.8h0M313.6 198.7h0M315.2 190.8h0M317.1 186.8h0M328.6 184.8h0M317.5 190.5h0M309.1 196.2h0M309.2 200.1h0M321.9 187.4h0M313.3 197.5h0M318.8 202.2h0M316.3 193.1h0M314.2 191.0h0M313.0 189.4h0M313.3 193.3h0M322.7 183.3h0M306.9 196.4h0M318.5 187.7h0M316.1 192.4h0M315.3 190.4h0M310.6 197.0h0M313.1 189.1h0M318.6 187.4h0M321.6 183.8h0M327.5 183.7h0M316.6 190.2h0M309.5 194.9h0M314.0 190.9h0M320.8 189.3h0M310.4 196.1h0M310.8 194.0h0M307.7 194.5h0M306.3 197.3h0M317.5 190.7h0M315.0 192.5h0M321.1 184.7h0M308.2 197.2h0M323.9 182.2h0M314.7 188.2h0M313.8 189.0h0M311.4 192.4h0M312.4 194.9h0M313.4 193.4h0M316.2 185.5h0M310.6 200.6h0M309.8 194.7h0M316.1 195.3h0M324.3 181.6h0M322.4 188.8h0M321.0 187.2h0M319.6 186.0h0M307.4 193.7h0M312.4 197.2h0M323.2 185.2h0M309.4 200.8h0M315.7 194.1h0M313.8 194.2h0M315.4 191.7h0M319.1 190.0h0M313.3 190.7h0M320.3 184.8h0M309.6 197.2h0M322.0 186.8h0M311.8 195.5h0M318.6 186.8h0M323.4 185.6h0M314.1 192.5h0M310.0 194.7h0M325.1 184.2h0M308.8 193.4h0M326.3 183.5h0M314.8 190.2h0M317.2 191.9h0M323.4 181.4h0M316.7 188.5h0M326.6 183.1h0M309.2 191.3h0M307.9 199.2h0M325.6 180.2h0M319.4 190.8h0M320.4 187.8h0M326.3 189.5h0M323.0 184.2h0M309.9 196.5h0M318.1 189.1h0M307.7 198.5h0M322.7 185.5h0M307.2 195.1h0M326.5 183.2h0M312.9 199.2h0M308.8 198.3h0M326.5 183.5h0M321.0 189.2h0M306.8 197.5h0M325.6 182.0h0M321.2 189.9h0M313.7 193.3h0M313.7 192.1h0M308.5 197.8h0M314.4 193.4h0M322.3 186.8h0M327.0 184.8h0M309.9 199.4h0M311.9 194.1h0M311.4 194.8h0M325.6 180.4h0M318.6 190.6h0M323.4 182.1h0M323.2 188.3h0M315.0 186.3h0M321.3 184.8h0M314.0 195.3h0M323.7 185.4h0M324.6 185.1h0M318.8 190.1h0M324.6 183.4h0M316.3 189.9h0M320.6 185.9h0M324.6 183.0h0M325.1 182.0h0M310.6 196.5h0M314.6 191.5h0M311.2 194.0h0M321.3 188.3h0M312.7 195.2h0M313.7 190.2h0M320.3 186.5h0M316.6 193.9h0M327.2 183.1h0M309.0 198.7h0M317.0 188.8h0M317.8 188.1h0M323.3 187.1h0M310.2 196.4h0M317.5 186.3h0M315.3 191.7h0M313.5 197.0h0M319.3 188.2h0M310.4 196.0h0M308.7 192.8h0M310.1 197.0h0M313.8 192.3h0M318.7 191.4h0M319.3 189.9h0M311.7 195.2h0M313.3 193.5h0M318.3 187.7h0M308.4 198.6h0M323.6 182.0h0M311.8 196.3h0M328.4 185.3h0M325.3 183.0h0M315.2 190.7h0M318.3 191.7h0M320.4 187.0h0M306.3 193.6h0M314.3 189.7h0M332.4 174.1h0M342.8 167.7h0M330.0 180.4h0M342.1 168.0h0M330.4 176.4h0M333.3 175.6h0M331.5 175.6h0M327.7 181.6h0M330.6 176.1h0M333.1 172.9h0M329.3 179.4h0M340.7 172.0h0M334.7 177.6h0M330.2 179.1h0M329.8 180.0h0M337.2 175.3h0M330.1 180.9h0M327.5 178.7h0M326.7 177.4h0M332.0 181.6h0M332.6 178.8h0M328.4 182.8h0M327.3 181.7h0M329.5 180.3h0M334.3 179.4h0M332.3 177.8h0M336.2 173.8h0M345.5 165.2h0M343.8 169.0h0M344.7 164.9h0M332.3 177.8h0M329.2 179.2h0M338.5 171.9h0M345.7 163.5h0M331.1 180.5h0M337.1 170.0h0M343.3 170.2h0M329.9 180.3h0M329.2 177.8h0M344.2 167.0h0M327.1 181.1h0M337.2 175.0h0M337.2 174.5h0M330.4 179.5h0M342.9 171.4h0M334.9 171.1h0M330.6 178.7h0M338.9 170.8h0M336.6 176.0h0M328.6 181.1h0M329.1 179.0h0M334.9 174.0h0M331.4 179.6h0M328.9 177.2h0M344.9 165.0h0M346.3 165.7h0M334.1 172.4h0M334.9 174.4h0M339.9 168.9h0M331.7 177.8h0M335.5 176.3h0M333.1 175.9h0M338.8 171.2h0M343.2 166.9h0M339.4 172.8h0M339.0 171.6h0M346.2 167.5h0M337.8 170.1h0M329.0 179.8h0M332.6 178.2h0M338.8 174.8h0M331.9 178.5h0M336.4 172.4h0M341.0 167.0h0M328.2 178.9h0M331.2 177.6h0M338.7 173.1h0M340.7 172.9h0M328.3 174.3h0M327.2 181.0h0M342.8 167.4h0M328.8 177.3h0M330.2 177.6h0M337.1 170.6h0M336.0 171.3h0M335.8 178.1h0M341.1 169.9h0M333.0 173.2h0M329.6 178.6h0M329.4 180.1h0M343.3 170.9h0M330.0 179.6h0M331.9 175.2h0M332.2 176.8h0M334.6 176.5h0M330.9 185.7h0M339.9 170.0h0M333.9 173.2h0M338.9 172.8h0M332.4 181.1h0M335.8 176.6h0M340.8 170.4h0M329.4 181.6h0M341.0 169.7h0M334.4 176.0h0M331.3 177.0h0M335.9 171.7h0M347.4 166.0h0M331.9 177.5h0M328.9 179.4h0M343.1 167.3h0M335.0 177.1h0M329.5 176.4h0M346.5 165.2h0M331.1 178.4h0M345.0 162.5h0M328.7 180.9h0M332.6 176.2h0M327.6 181.1h0M343.6 165.2h0M339.4 170.0h0M331.5 174.4h0M331.5 178.2h0M329.0 177.1h0M336.2 175.5h0M340.6 168.9h0M342.9 170.0h0M334.7 176.3h0M340.8 168.8h0M346.7 164.8h0M329.3 183.3h0M331.6 178.5h0M348.3 161.9h0M355.4 157.0h0M356.3 155.8h0M354.7 158.1h0M355.7 155.5h0M361.6 153.6h0M352.5 160.4h0M350.1 161.3h0M365.0 146.3h0M347.0 161.9h0M353.0 159.4h0M358.9 153.7h0M351.9 159.8h0M367.1 148.0h0M351.8 156.5h0M363.4 146.6h0M361.7 152.8h0M353.6 157.5h0M363.5 147.5h0M367.0 146.1h0M340.4 152.0h0M357.9 152.6h0M347.6 160.8h0M361.6 152.0h0M350.7 161.8h0M348.3 164.2h0M364.6 149.5h0M363.3 149.0h0M359.2 149.7h0M347.8 164.0h0M356.5 157.2h0M357.3 152.7h0M358.3 154.2h0M359.5 152.2h0M357.6 155.0h0M349.8 160.1h0M362.2 152.6h0M356.2 157.2h0M350.5 157.7h0M350.9 157.4h0M366.8 146.2h0M366.3 146.0h0M358.5 154.1h0M347.3 163.3h0M360.4 149.7h0M357.7 155.1h0M347.6 160.7h0M353.7 158.7h0M362.5 145.7h0M355.7 155.3h0M363.9 148.1h0M362.6 148.0h0M355.0 154.6h0M348.6 162.5h0M351.2 160.4h0M345.3 162.4h0M354.0 158.8h0M348.1 162.6h0M361.9 151.0h0M360.2 150.0h0M365.6 147.9h0M351.0 159.9h0M365.7 146.6h0M352.0 156.0h0M357.9 150.7h0M352.1 163.6h0M365.7 145.4h0M353.5 159.0h0M369.4 145.6h0M381.4 129.1h0M375.7 135.7h0M379.2 134.8h0M376.8 137.0h0M368.1 145.7h0M369.8 142.8h0M374.9 138.9h0M367.7 142.9h0M368.9 145.1h0M386.3 125.9h0M367.8 146.0h0M370.0 143.9h0M385.1 125.2h0M368.5 145.4h0M384.5 131.0h0M368.7 141.2h0M373.4 140.1h0M366.8 145.3h0M376.5 134.4h0M374.1 137.2h0M370.4 140.6h0M370.3 139.4h0M376.1 137.2h0M372.6 141.8h0M366.7 145.3h0M378.4 131.7h0M381.0 138.7h0M369.6 146.1h0M376.9 134.4h0M372.6 138.7h0M383.5 126.7h0M382.7 130.1h0M370.4 141.1h0M369.9 142.7h0M389.3 120.6h0M387.5 123.6h0M402.6 107.5h0M392.9 116.7h0M398.2 113.3h0M388.6 122.0h0M405.7 106.5h0M399.9 110.0h0M409.5 108.3h0M393.9 116.5h0M389.4 120.6h0M390.6 121.1h0M389.2 119.0h0M397.7 115.1h0M392.3 123.9h0M398.5 113.0h0M389.1 117.5h0M390.9 122.6h0M416.1 95.5h0M424.1 84.9h0M425.3 88.8h0M427.7 85.8h0M413.2 97.5h0M424.1 91.2h0M416.2 99.7h0M423.7 91.9h0M426.8 89.0h0M416.2 95.9h0M414.8 100.5h0M420.7 88.7h0M419.9 92.5h0M447.8 65.1h0M432.1 83.1h0M447.6 63.4h0M433.3 84.2h0M448.5 64.6h0M446.1 69.1h0M436.1 82.9h0M429.9 84.7h0M447.0 70.4h0M448.8 67.8h0M429.7 84.5h0M434.9 79.0h0M442.7 68.6h0M449.0 67.9h0M445.3 63.4h0M456.9 53.8h0M458.7 58.3h0M454.5 62.5h0M463.0 51.3h0M460.1 58.7h0M457.5 67.9h0M459.6 59.2h0M464.0 48.2h0M455.9 62.3h0M464.7 56.4h0M471.1 45.9h0M462.1 55.1h0M454.2 65.6h0M450.4 63.2h0M476.4 41.1h0M481.3 37.6h0M469.5 40.5h0M475.2 38.4h0M492.5 32.5h0M474.1 44.7h0M481.7 32.6h0M490.7 28.0h0M490.4 24.8h0M473.3 42.6h0M476.0 35.4h0M480.1 31.3h0" stroke="#000" stroke-opacity="0.45" stroke-width="2.2" stroke-linecap="round" fill="none"/><path d="M281.2 219.6h0M275.4 221.7h0M284.4 216.5h0M271.7 227.9h0M285.8 216.1h0M273.6 224.4h0M282.0 219.6h0M285.5 216.4h0M279.0 220.5h0M285.3 217.0h0M285.8 216.7h0M283.2 222.9h0M272.2 228.6h0M279.0 224.5h0M279.5 220.5h0M282.6 222.5h0M284.4 216.5h0M277.4 231.3h0M275.5 227.0h0M279.8 222.3h0M286.4 218.4h0M282.2 219.5h0M287.3 220.5h0M274.8 223.2h0M276.7 222.7h0M286.0 216.2h0M285.4 215.3h0M276.9 222.5h0M275.4 228.6h0M273.7 230.7h0M278.3 222.9h0M275.4 226.7h0M275.8 227.4h0M281.5 221.4h0M282.4 218.6h0M276.6 230.6h0M282.1 222.2h0M281.3 222.8h0M282.6 216.0h0M282.7 215.3h0M278.3 223.5h0M281.9 224.3h0M284.9 216.0h0M273.2 228.3h0M276.1 225.9h0M286.5 219.0h0M277.0 227.6h0M281.2 220.5h0M278.1 224.9h0M284.1 219.7h0M274.9 226.8h0M277.7 226.7h0M276.9 227.9h0M276.5 227.2h0M278.2 221.9h0M281.5 219.6h0M271.3 225.8h0M286.1 214.7h0M285.5 216.7h0M276.3 229.2h0M277.1 220.4h0M287.3 216.5h0M285.6 216.2h0M281.5 214.7h0M273.8 230.0h0M276.5 222.4h0M286.1 220.0h0M288.4 218.0h0M272.3 226.5h0M284.0 221.6h0M279.2 225.9h0M274.9 230.0h0M286.6 219.1h0M276.3 224.9h0M280.0 222.1h0M283.2 220.8h0M283.2 219.7h0M274.5 230.9h0M285.0 219.8h0M277.0 222.2h0M277.6 222.7h0M282.1 224.3h0M274.7 223.7h0M274.6 227.3h0M275.9 228.9h0M276.8 224.3h0M280.5 220.7h0M284.7 215.8h0M283.2 218.7h0M276.0 223.9h0M272.2 228.2h0M281.8 224.8h0M285.1 220.7h0M272.3 225.1h0M277.4 223.1h0M278.4 221.5h0M282.9 219.4h0M283.6 216.0h0M280.7 218.2h0M282.7 217.4h0M283.6 219.8h0M287.0 217.0h0M278.8 226.9h0M276.3 226.3h0M274.3 228.3h0M282.6 217.4h0M271.6 229.0h0M274.0 227.2h0M278.4 222.5h0M287.0 217.4h0M281.9 220.9h0M275.9 226.7h0M274.2 228.4h0M277.3 225.6h0M273.6 231.5h0M284.7 218.8h0M275.2 231.7h0M274.1 223.5h0M275.6 227.3h0M286.6 216.2h0M271.2 228.5h0M280.5 221.7h0M295.2 224.7h0M282.2 216.9h0M284.1 223.4h0M272.9 223.0h0M278.8 230.7h0M276.6 222.3h0M279.5 221.8h0M285.9 214.6h0M275.1 231.7h0M279.9 223.3h0M272.8 228.1h0M276.2 230.9h0M285.7 215.1h0M277.9 223.2h0M287.9 226.1h0M276.2 227.1h0M281.4 218.8h0M275.2 227.7h0M274.5 229.5h0M275.3 222.7h0M272.1 228.2h0M282.0 228.0h0M281.1 219.5h0M283.9 223.9h0M277.9 227.0h0M272.9 223.9h0M283.4 218.4h0M288.2 217.1h0M276.5 222.8h0M279.6 225.0h0M279.5 220.9h0M278.5 224.9h0M285.5 216.4h0M287.6 221.3h0M279.2 220.3h0M269.4 227.2h0M274.0 230.5h0M281.4 223.7h0M277.9 226.9h0M285.0 214.1h0M279.8 221.3h0M278.7 222.5h0M277.0 231.7h0M279.9 220.8h0M273.1 229.8h0M276.8 223.0h0M276.2 222.9h0M281.7 220.7h0M283.2 222.8h0M279.6 218.4h0M275.9 229.6h0M275.0 227.0h0M274.4 232.5h0M273.0 230.4h0M284.0 218.3h0M274.5 231.7h0M273.4 227.1h0M279.6 227.0h0M276.9 225.6h0M280.4 230.5h0M286.1 214.6h0M277.0 224.5h0M274.5 229.9h0M271.1 226.8h0M274.4 229.0h0M275.4 224.9h0M272.7 230.3h0M274.6 230.2h0M274.7 222.9h0M278.5 220.0h0M283.4 216.4h0M281.8 222.3h0M277.3 219.2h0M279.8 222.5h0M278.5 222.4h0M284.2 221.1h0M273.1 230.4h0M271.8 220.4h0M274.7 225.9h0M276.6 229.0h0M276.9 226.8h0M285.6 219.0h0M277.9 225.7h0M286.6 220.3h0M284.9 214.8h0M281.1 228.0h0M275.0 230.8h0M278.8 221.3h0M275.8 228.3h0M288.1 217.9h0M276.2 230.7h0M272.8 229.7h0M283.9 220.1h0M280.2 225.2h0M287.4 220.3h0M275.9 227.6h0M278.3 224.9h0M279.0 226.2h0M287.7 219.1h0M280.0 220.9h0M277.1 227.4h0M276.6 223.5h0M275.5 225.9h0M273.3 226.9h0M275.4 221.2h0M279.3 222.2h0M283.4 218.8h0M282.6 218.9h0M277.4 228.2h0M276.0 229.7h0M287.2 216.9h0M277.5 222.0h0M275.4 222.9h0M284.6 217.5h0M278.9 221.5h0M281.6 212.9h0M270.3 226.5h0M277.7 221.9h0M287.3 215.8h0M284.5 222.0h0M276.9 226.1h0M275.7 227.3h0M282.9 225.6h0M276.4 223.1h0M275.5 222.9h0M282.5 216.0h0M281.5 222.4h0M278.5 226.9h0M285.6 214.7h0M282.8 221.2h0M273.1 230.4h0M274.9 220.5h0M270.1 224.7h0M282.3 219.8h0M283.1 217.3h0M277.5 221.8h0M280.9 225.1h0M275.9 224.3h0M281.4 224.8h0M280.5 218.5h0M279.7 219.4h0M273.4 223.9h0M284.9 219.9h0M287.0 218.3h0M275.1 225.7h0M287.1 216.6h0M279.8 222.7h0M281.9 225.3h0M285.7 214.4h0M283.7 218.7h0M284.8 219.8h0M286.1 217.7h0M283.0 218.3h0M275.8 224.2h0M279.2 218.7h0M275.3 225.2h0M275.7 222.2h0M282.1 220.2h0M288.6 217.9h0M279.0 226.0h0M277.8 225.2h0M271.7 229.3h0M283.6 219.1h0M273.2 225.0h0M284.4 217.3h0M279.3 225.0h0M283.1 214.7h0M273.0 230.3h0M279.1 221.9h0M273.8 225.7h0M271.7 229.4h0M272.6 229.6h0M274.6 226.7h0M276.8 228.8h0M293.0 222.2h0M272.5 230.1h0M284.2 220.2h0M275.2 227.8h0M274.9 229.2h0M281.4 224.7h0M277.1 214.1h0M280.8 221.4h0M279.6 221.6h0M281.7 217.5h0M277.2 224.0h0M275.2 223.6h0M276.8 223.3h0M279.5 220.6h0M275.8 219.8h0M279.2 221.1h0M288.1 216.7h0M281.6 216.7h0M273.2 229.9h0M271.3 224.8h0M277.4 227.3h0M273.1 230.9h0M282.2 219.6h0M278.0 224.6h0M284.4 217.7h0M286.1 219.7h0M275.9 225.7h0M280.9 219.5h0M274.7 221.3h0M276.8 224.0h0M278.8 220.4h0M281.7 217.5h0M275.0 224.8h0M278.8 221.8h0M286.1 218.5h0M274.4 226.9h0M272.8 226.8h0M278.8 225.1h0M276.4 223.6h0M276.3 229.0h0M281.2 217.8h0M276.6 227.3h0M273.2 224.6h0M281.2 219.9h0M274.9 226.2h0M281.7 218.0h0M276.7 226.1h0M287.9 216.5h0M275.1 230.0h0M281.6 218.9h0M274.0 229.5h0M279.2 224.1h0M272.3 222.6h0M284.7 216.0h0M272.1 225.3h0M279.8 223.3h0M273.9 228.6h0M279.6 221.1h0M272.6 208.2h0M278.1 217.4h0M272.6 229.6h0M283.4 218.2h0M277.3 223.9h0M277.1 225.6h0M276.2 227.3h0M273.7 225.4h0M281.9 222.7h0M287.3 219.7h0M280.0 221.3h0M276.4 224.2h0M281.8 221.2h0M274.8 227.2h0M275.4 221.4h0M272.5 228.3h0M283.0 222.2h0M280.9 223.1h0M273.3 225.7h0M281.5 224.3h0M282.0 219.1h0M279.9 215.4h0M289.1 219.0h0M290.4 219.5h0M280.9 223.5h0M287.1 216.5h0M274.6 231.7h0M277.0 226.6h0M279.2 223.2h0M285.4 221.0h0M282.3 222.2h0M281.1 217.1h0M282.5 220.6h0M275.1 226.1h0M286.7 216.8h0M285.1 217.4h0M279.5 219.9h0M282.0 218.6h0M283.7 217.2h0M277.3 227.9h0M270.8 228.0h0M274.8 228.6h0M272.3 226.4h0M286.0 220.7h0M272.7 230.4h0M283.3 220.8h0M275.9 222.1h0M284.9 217.6h0M274.8 229.5h0M281.6 213.4h0M281.1 221.7h0M284.7 216.0h0M278.1 222.5h0M278.2 220.7h0M286.4 215.3h0M285.2 220.7h0M286.0 215.6h0M285.4 215.3h0M282.7 221.2h0M284.4 220.6h0M280.0 222.9h0M281.9 223.7h0M279.9 221.8h0M279.8 221.8h0M283.7 229.8h0M280.3 222.6h0M274.4 228.5h0M281.3 221.2h0M275.6 227.0h0M274.8 226.3h0M278.4 221.7h0M275.5 226.9h0M274.8 226.1h0M274.8 227.0h0M270.7 223.3h0M273.8 230.1h0M275.1 231.9h0M271.7 225.4h0M274.7 229.3h0M280.3 222.7h0M271.9 228.7h0M291.8 214.0h0M299.5 204.3h0M290.3 214.6h0M294.3 208.6h0M298.9 204.4h0M291.4 206.8h0M286.3 209.1h0M296.5 209.7h0M298.2 204.5h0M294.7 209.3h0M299.9 203.6h0M292.8 211.6h0M302.0 206.6h0M302.9 196.3h0M300.8 202.4h0M288.2 211.4h0M291.6 211.1h0M307.5 199.6h0M307.7 201.0h0M294.2 212.3h0M294.4 208.3h0M302.0 200.0h0M296.3 211.0h0M291.4 209.1h0M290.8 214.5h0M303.1 200.7h0M294.3 209.1h0M305.1 197.4h0M291.2 212.7h0M293.1 213.2h0M295.8 212.7h0M298.6 206.5h0M301.8 201.3h0M289.1 207.8h0M291.0 211.7h0M302.3 203.3h0M300.6 205.6h0M297.6 206.8h0M292.1 211.9h0M305.8 203.2h0M297.3 205.3h0M293.1 210.0h0M291.3 211.3h0M304.9 196.7h0M302.7 205.1h0M296.8 206.8h0M293.9 208.7h0M293.8 212.8h0M286.4 209.3h0M305.4 200.2h0M299.7 199.6h0M301.5 200.7h0M298.4 206.3h0M293.0 210.7h0M289.1 216.4h0M286.3 210.8h0M299.9 201.5h0M288.7 213.2h0M295.1 209.9h0M306.2 197.7h0M290.8 217.6h0M296.4 206.8h0M296.4 208.0h0M293.4 209.3h0M300.9 201.1h0M303.4 203.5h0M299.9 203.9h0M293.8 207.4h0M301.8 200.1h0M289.9 213.9h0M295.5 208.7h0M296.3 203.4h0M307.1 199.5h0M300.8 202.6h0M291.2 210.4h0M304.2 197.6h0M300.6 204.4h0M297.1 207.9h0M291.9 211.1h0M289.4 216.9h0M287.5 213.1h0M301.1 206.5h0M304.6 197.6h0M298.1 204.4h0M285.8 211.0h0M292.8 214.7h0M308.2 226.6h0M286.4 213.4h0M298.1 210.5h0M296.1 208.4h0M304.5 196.9h0M297.8 206.4h0M293.3 213.3h0M290.2 215.9h0M302.3 203.4h0M296.0 211.8h0M292.5 210.1h0M295.4 205.6h0M303.0 204.6h0M302.6 206.0h0M285.9 213.5h0M289.6 211.8h0M289.9 208.4h0M304.8 200.2h0M294.5 211.0h0M299.8 204.4h0M295.1 207.5h0M290.9 214.3h0M290.3 214.4h0M297.1 204.6h0M298.8 201.5h0M292.8 211.5h0M290.8 210.5h0M291.4 212.1h0M287.5 215.2h0M290.9 213.1h0M295.1 205.2h0M293.8 208.3h0M288.1 215.8h0M294.2 213.4h0M295.5 207.5h0M289.8 210.5h0M295.1 202.9h0M304.6 200.5h0M289.3 211.8h0M305.2 216.2h0M287.4 214.4h0M294.1 208.0h0M295.8 208.2h0M288.0 212.7h0M307.1 199.3h0M291.9 208.9h0M294.4 208.5h0M291.3 214.6h0M302.2 203.5h0M293.5 207.7h0M295.2 207.8h0M293.0 211.7h0M300.8 209.5h0M289.7 211.2h0M294.1 211.1h0M303.2 202.4h0M293.8 207.4h0M287.4 215.2h0M294.5 208.1h0M296.6 210.8h0M305.4 199.5h0M297.5 205.7h0M294.2 208.6h0M291.0 217.7h0M298.5 209.4h0M289.3 216.8h0M304.8 198.7h0M289.6 212.5h0M294.8 208.5h0M288.8 212.0h0M291.6 206.5h0M292.3 213.7h0M290.9 209.5h0M292.2 209.8h0M292.2 212.8h0M302.5 201.8h0M298.9 218.2h0M294.5 212.7h0M291.4 208.1h0M304.4 199.9h0M293.5 207.4h0M299.4 204.2h0M292.4 210.6h0M288.6 215.2h0M301.8 203.0h0M303.8 201.6h0M289.1 213.9h0M296.2 208.5h0M301.2 204.8h0M304.6 200.5h0M305.9 199.0h0M297.2 206.0h0M290.1 214.0h0M298.6 203.0h0M301.1 200.4h0M296.2 201.5h0M293.7 207.2h0M286.9 211.1h0M301.2 199.3h0M296.3 207.4h0M292.7 211.6h0M304.2 202.5h0M301.7 214.1h0M299.7 204.3h0M299.1 205.6h0M292.4 212.8h0M287.9 215.1h0M291.7 214.6h0M301.6 200.8h0M286.7 212.9h0M289.9 214.5h0M303.3 198.6h0M307.2 200.1h0M304.2 207.5h0M305.9 203.4h0M299.4 200.8h0M291.6 214.9h0M305.4 200.9h0M299.1 207.0h0M306.7 202.6h0M292.0 215.4h0M302.8 212.1h0M298.7 208.6h0M290.3 214.8h0M288.0 210.4h0M294.7 206.6h0M298.3 202.5h0M300.7 207.0h0M307.0 199.6h0M296.9 203.5h0M301.1 204.8h0M292.7 215.9h0M302.7 201.7h0M288.5 213.5h0M292.2 210.9h0M293.3 213.5h0M294.1 212.9h0M295.4 209.4h0M295.6 209.1h0M301.0 201.2h0M308.8 201.7h0M304.2 201.6h0M294.4 210.7h0M294.5 210.3h0M296.4 208.1h0M287.3 215.0h0M288.6 212.6h0M295.4 197.0h0M293.0 211.3h0M303.0 199.2h0M291.9 209.1h0M290.6 215.1h0M307.5 199.2h0M288.0 216.1h0M300.8 203.0h0M292.3 207.7h0M295.7 211.4h0M288.3 213.5h0M295.6 206.3h0M302.2 200.2h0M295.9 214.8h0M297.5 203.2h0M289.6 214.5h0M305.2 198.3h0M290.9 212.7h0M291.9 208.5h0M301.1 213.0h0M300.4 203.3h0M295.9 208.6h0M293.3 210.7h0M287.8 213.1h0M291.0 211.1h0M306.4 200.5h0M301.2 203.3h0M297.5 207.1h0M296.5 207.7h0M298.9 202.5h0M301.9 204.2h0M297.3 209.6h0M297.5 202.9h0M290.9 213.1h0M292.1 214.6h0M301.3 201.7h0M303.8 197.2h0M290.6 213.5h0M287.9 212.4h0M303.1 201.0h0M304.7 200.2h0M305.1 201.4h0M306.7 198.6h0M305.4 199.4h0M297.1 207.0h0M304.5 200.7h0M304.0 199.6h0M287.5 214.3h0M294.0 208.0h0M297.5 212.3h0M291.1 216.3h0M289.5 211.4h0M296.4 207.4h0M287.2 213.2h0M303.9 201.8h0M299.8 204.4h0M307.2 199.0h0M296.0 210.7h0M298.1 207.7h0M294.6 208.6h0M304.8 203.5h0M295.0 206.6h0M301.1 204.9h0M300.6 208.3h0M287.3 215.3h0M302.7 201.5h0M290.3 211.2h0M296.6 203.2h0M299.0 207.2h0M285.7 209.2h0M288.8 213.1h0M294.4 212.4h0M295.9 204.5h0M299.4 202.4h0M301.5 201.3h0M302.9 203.3h0M299.7 208.4h0M295.7 205.4h0M295.1 209.7h0M287.2 214.8h0M290.0 211.6h0M306.2 204.8h0M295.1 207.9h0M289.2 210.8h0M288.4 216.9h0M305.6 201.7h0M296.8 210.6h0M294.8 207.9h0M306.2 203.6h0M305.1 200.8h0M289.4 211.6h0M288.0 215.7h0M300.2 201.3h0M299.1 207.6h0M289.6 211.1h0M297.3 208.6h0M301.8 205.0h0M303.3 199.8h0M294.7 213.6h0M296.7 202.9h0M298.5 203.8h0M288.0 213.2h0M287.1 211.9h0M295.1 209.7h0M290.6 212.7h0M300.2 206.1h0M304.9 199.1h0M303.1 202.7h0M295.0 206.1h0M289.2 212.9h0M302.1 205.0h0M288.4 216.7h0M306.5 200.0h0M288.7 213.5h0M298.2 207.8h0M303.5 197.5h0M303.3 202.5h0M293.7 213.3h0M297.9 206.8h0M292.1 213.6h0M304.0 200.4h0M301.3 202.4h0M293.1 207.4h0M302.5 198.0h0M305.2 198.2h0M299.4 206.7h0M301.6 202.8h0M298.7 202.5h0M302.9 199.1h0M294.0 210.4h0M291.1 219.0h0M298.7 193.8h0M287.3 213.4h0M289.4 215.7h0M304.7 204.8h0M287.4 215.1h0M289.4 214.0h0M300.1 207.0h0M292.6 210.9h0M296.1 210.4h0M304.2 200.0h0M295.4 210.9h0M304.6 197.2h0M294.3 211.4h0M288.7 212.4h0M293.6 214.1h0M304.6 204.6h0M292.2 216.8h0M308.7 201.5h0M301.1 208.5h0M307.8 199.7h0M303.5 200.9h0M304.8 200.1h0M290.9 210.5h0M292.4 211.7h0M287.9 216.5h0M291.1 214.3h0M292.5 210.6h0M290.2 212.2h0M299.7 208.1h0M295.7 209.7h0M293.6 209.1h0M304.5 202.8h0M290.6 212.7h0M289.7 213.8h0M290.2 213.8h0M297.8 208.0h0M289.6 211.5h0M294.3 209.8h0M305.6 198.3h0M301.1 206.7h0M325.5 181.7h0M312.4 193.3h0M312.7 196.8h0M316.5 188.9h0M311.4 194.0h0M313.4 190.9h0M306.9 195.9h0M308.7 195.6h0M312.5 197.6h0M326.7 182.7h0M314.5 191.7h0M325.0 183.0h0M311.8 195.1h0M319.1 185.4h0M325.5 182.8h0M313.6 192.3h0M317.0 189.8h0M311.6 194.3h0M311.4 196.0h0M312.7 197.6h0M308.8 198.7h0M316.3 189.6h0M326.8 183.4h0M312.1 192.4h0M306.3 196.2h0M319.0 185.7h0M321.2 182.0h0M309.7 196.1h0M317.9 187.4h0M319.4 186.1h0M307.3 198.0h0M307.9 196.3h0M315.5 192.7h0M310.0 193.8h0M319.6 194.4h0M312.0 196.2h0M312.5 188.4h0M312.9 193.6h0M315.9 195.0h0M317.9 187.7h0M311.0 195.9h0M320.1 189.3h0M323.5 185.0h0M307.2 196.2h0M320.9 188.4h0M310.0 195.3h0M315.0 188.2h0M324.3 184.9h0M315.7 189.1h0M313.6 193.2h0M308.4 197.7h0M310.4 193.3h0M306.5 197.8h0M320.5 185.5h0M310.8 199.1h0M319.0 185.4h0M307.9 197.6h0M310.9 196.5h0M308.5 198.3h0M322.9 182.0h0M321.8 186.6h0M327.8 183.4h0M307.8 194.9h0M307.6 198.5h0M322.3 185.3h0M309.1 196.1h0M314.7 198.5h0M318.7 191.2h0M329.2 184.6h0M313.7 197.8h0M316.5 193.8h0M310.1 195.7h0M315.7 191.8h0M319.6 183.8h0M308.6 198.4h0M314.2 192.6h0M321.5 183.2h0M319.0 187.5h0M311.9 196.5h0M307.3 195.1h0M316.5 189.8h0M318.3 188.4h0M318.7 190.5h0M324.4 184.0h0M313.6 189.6h0M322.5 212.9h0M309.9 199.7h0M306.8 197.1h0M322.7 183.4h0M325.7 186.2h0M314.6 194.2h0M314.9 190.8h0M313.0 194.8h0M316.2 196.7h0M313.2 191.3h0M308.0 196.6h0M315.2 187.9h0M327.0 182.4h0M321.6 187.7h0M320.8 189.8h0M315.8 201.1h0M320.1 186.9h0M310.3 197.3h0M319.0 188.2h0M317.3 189.9h0M310.4 194.7h0M315.0 193.7h0M323.7 185.6h0M311.7 193.7h0M319.3 189.4h0M312.0 193.0h0M311.7 192.5h0M312.2 195.8h0M307.4 195.1h0M310.5 196.0h0M311.2 197.9h0M311.4 197.6h0M322.2 185.5h0M309.3 199.1h0M315.6 190.6h0M310.9 191.9h0M314.5 190.2h0M311.2 191.1h0M314.5 190.6h0M324.7 184.2h0M324.7 182.5h0M312.1 198.5h0M317.6 190.8h0M309.4 193.7h0M315.3 190.3h0M311.3 192.0h0M306.7 198.0h0M323.1 186.0h0M313.6 194.9h0M322.7 185.2h0M311.6 192.7h0M322.1 187.8h0M313.1 195.2h0M312.6 192.6h0M313.6 193.4h0M321.9 181.8h0M312.8 192.9h0M321.9 183.4h0M311.6 197.2h0M324.2 191.1h0M314.0 189.0h0M314.4 192.8h0M317.2 190.7h0M315.2 187.9h0M325.9 183.1h0M319.8 184.9h0M317.5 193.9h0M309.8 201.3h0M323.8 184.8h0M313.1 197.4h0M318.2 187.1h0M312.0 192.7h0M315.1 193.4h0M315.8 185.5h0M311.6 192.0h0M317.4 192.9h0M314.0 193.7h0M308.7 197.1h0M311.3 193.4h0M315.4 192.6h0M316.9 191.1h0M310.6 196.7h0M313.4 193.4h0M311.3 191.5h0M306.8 196.7h0M310.6 196.2h0M319.9 186.6h0M312.8 193.6h0M315.2 189.1h0M317.6 189.1h0M325.9 184.5h0M325.7 184.6h0M321.7 191.5h0M325.9 184.5h0M320.5 185.8h0M319.3 186.8h0M321.9 186.8h0M308.5 194.7h0M319.9 185.6h0M321.1 185.8h0M313.1 194.1h0M316.5 189.4h0M317.3 188.0h0M325.5 181.5h0M308.1 194.3h0M314.2 193.0h0M312.8 192.7h0M321.7 183.9h0M312.8 193.7h0M317.7 188.3h0M313.6 191.0h0M314.3 195.8h0M316.7 189.1h0M317.2 189.7h0M324.3 182.2h0M315.2 207.5h0M321.3 193.3h0M310.2 195.7h0M315.3 189.4h0M317.6 190.5h0M324.4 185.5h0M309.0 193.7h0M317.0 190.9h0M322.0 181.0h0M322.9 182.7h0M316.5 187.1h0M309.4 198.0h0M316.5 189.5h0M323.0 184.4h0M318.2 187.9h0M307.4 197.7h0M325.0 184.5h0M306.9 197.7h0M314.7 189.9h0M318.0 192.0h0M316.7 190.2h0M317.4 192.1h0M310.7 196.8h0M314.1 195.9h0M319.5 192.0h0M312.5 192.1h0M309.8 198.6h0M319.5 185.7h0M307.5 195.4h0M308.8 198.1h0M319.5 185.2h0M311.9 196.1h0M312.5 191.4h0M320.2 187.2h0M322.5 183.5h0M313.0 192.9h0M319.2 189.4h0M327.2 182.7h0M326.0 184.0h0M311.9 190.2h0M314.8 192.0h0M314.4 194.6h0M318.2 190.3h0M313.1 191.9h0M323.5 184.3h0M324.3 184.6h0M317.8 190.7h0M311.0 197.0h0M323.4 182.7h0M319.9 188.8h0M319.7 186.0h0M327.5 182.7h0M333.1 176.2h0M333.0 174.7h0M340.0 168.8h0M329.6 173.7h0M325.9 179.7h0M345.5 162.7h0M346.2 166.6h0M339.1 167.7h0M345.4 165.2h0M339.7 168.9h0M331.9 177.1h0M341.0 170.8h0M336.0 174.0h0M329.6 178.9h0M328.7 178.5h0M342.9 165.9h0M333.1 179.0h0M347.7 165.4h0M330.3 177.8h0M343.6 166.3h0M332.8 176.2h0M330.2 177.2h0M339.6 170.3h0M337.5 171.7h0M342.4 178.8h0M327.6 178.1h0M337.5 173.8h0M332.5 174.4h0M338.6 169.6h0M328.7 178.1h0M335.2 172.3h0M341.1 165.5h0M338.1 171.9h0M339.6 164.1h0M331.1 180.1h0M330.6 178.2h0M348.0 190.1h0M337.9 173.7h0M341.7 167.2h0M329.8 180.0h0M334.3 173.8h0M328.5 178.7h0M327.9 181.5h0M329.8 176.8h0M327.4 181.0h0M334.5 172.9h0M331.7 176.9h0M343.9 163.9h0M342.7 167.1h0M341.9 168.4h0M327.4 181.7h0M329.0 178.4h0M328.8 179.8h0M331.5 178.9h0M340.1 170.1h0M339.8 167.0h0M342.0 171.8h0M331.1 181.7h0M330.0 176.9h0M329.3 179.6h0M332.4 182.8h0M328.8 181.3h0M331.4 175.3h0M333.9 170.4h0M340.6 170.2h0M338.4 173.1h0M343.7 169.3h0M338.3 170.8h0M326.0 179.5h0M330.4 176.0h0M340.5 176.5h0M337.3 170.9h0M333.4 174.5h0M333.6 172.5h0M335.0 176.6h0M326.0 180.0h0M337.4 173.1h0M346.7 169.4h0M338.8 173.2h0M338.6 173.6h0M329.2 181.3h0M341.4 168.9h0M331.0 177.7h0M334.1 175.1h0M336.8 175.0h0M340.8 172.2h0M330.7 176.7h0M340.2 169.1h0M346.7 164.0h0M332.1 180.2h0M332.6 177.3h0M331.3 179.2h0M331.8 178.5h0M333.3 175.3h0M329.6 177.2h0M334.6 174.7h0M343.5 164.4h0M343.6 168.7h0M332.1 180.3h0M332.8 175.2h0M338.9 167.8h0M335.8 175.9h0M328.6 179.5h0M328.4 182.8h0M343.2 165.0h0M337.4 172.0h0M338.7 172.6h0M335.5 172.2h0M333.3 176.3h0M330.9 177.2h0M329.1 178.0h0M336.8 173.5h0M342.1 170.5h0M332.6 177.3h0M328.9 181.6h0M342.9 170.2h0M331.4 179.4h0M327.4 180.9h0M334.9 178.7h0M338.3 175.4h0M334.3 175.4h0M336.1 176.9h0M324.8 178.9h0M332.7 175.4h0M329.3 180.2h0M328.1 182.6h0M343.7 164.8h0M326.2 180.5h0M333.7 175.7h0M335.2 174.8h0M330.9 179.1h0M332.7 179.0h0M350.7 158.9h0M350.6 162.6h0M347.8 162.3h0M352.9 161.8h0M356.5 154.6h0M359.2 153.6h0M357.6 154.2h0M351.8 160.5h0M357.1 153.2h0M367.3 149.4h0M363.6 148.7h0M361.0 151.6h0M349.0 162.1h0M350.3 164.2h0M357.6 154.8h0M369.8 166.9h0M366.7 148.9h0M366.6 146.6h0M365.3 145.1h0M356.6 156.9h0M357.3 153.4h0M354.5 161.0h0M349.4 162.0h0M363.0 147.5h0M365.8 149.2h0M366.8 147.0h0M356.9 151.6h0M363.1 151.5h0M358.9 156.3h0M354.0 159.1h0M348.2 164.6h0M349.6 162.1h0M346.6 161.3h0M354.8 157.3h0M364.4 150.6h0M359.8 152.5h0M349.4 165.9h0M351.3 160.5h0M359.0 151.7h0M362.0 147.2h0M361.8 152.9h0M350.9 161.8h0M363.7 153.8h0M354.2 153.3h0M360.2 151.8h0M354.2 158.1h0M343.4 153.6h0M367.2 146.9h0M348.0 165.0h0M349.2 163.2h0M358.3 153.6h0M357.7 162.5h0M348.1 160.6h0M357.7 158.2h0M353.7 158.5h0M348.9 164.9h0M350.0 164.0h0M346.7 161.9h0M356.7 157.6h0M351.4 158.2h0M368.0 149.9h0M359.5 153.1h0M359.3 154.5h0M348.7 161.7h0M360.0 154.0h0M350.0 161.5h0M354.9 158.8h0M349.3 166.2h0M372.3 140.7h0M378.6 144.3h0M369.9 139.4h0M375.7 136.1h0M371.9 139.3h0M371.6 137.1h0M376.9 135.0h0M394.8 137.0h0M369.6 143.0h0M368.3 143.8h0M368.6 144.5h0M369.0 146.3h0M382.9 129.6h0M380.2 132.1h0M375.4 134.5h0M381.3 131.5h0M371.9 142.3h0M385.0 129.0h0M372.0 142.5h0M372.3 137.5h0M382.1 126.6h0M367.5 139.9h0M374.3 138.9h0M371.7 136.7h0M374.7 137.4h0M368.3 144.5h0M368.9 142.7h0M371.2 142.5h0M379.6 130.0h0M368.4 143.3h0M381.7 129.6h0M376.8 140.1h0M383.7 125.0h0M376.3 135.8h0M386.9 125.7h0M405.2 105.3h0M398.9 109.9h0M393.2 118.1h0M401.1 107.6h0M392.9 120.2h0M389.7 123.3h0M390.4 120.0h0M408.4 105.3h0M407.0 106.2h0M402.9 107.7h0M404.4 109.3h0M391.0 119.1h0M389.9 124.2h0M395.0 116.3h0M403.5 105.3h0M390.7 118.7h0M388.4 125.2h0M385.9 121.1h0M426.8 87.7h0M423.3 89.1h0M425.3 91.1h0M420.3 94.1h0M420.5 92.0h0M407.2 104.0h0M420.6 95.3h0M423.3 92.2h0M407.2 103.7h0M420.9 90.2h0M420.8 91.9h0M426.6 88.6h0M430.7 93.3h0M434.8 82.7h0M429.5 85.6h0M444.2 70.5h0M451.3 67.4h0M450.6 68.3h0M435.4 80.1h0M436.0 70.1h0M430.4 85.0h0M436.8 79.6h0M430.6 87.2h0M437.9 77.2h0M441.9 75.1h0M436.3 77.0h0M434.4 85.5h0M443.7 74.4h0M458.1 59.1h0M465.0 47.9h0M468.4 48.3h0M466.3 47.7h0M459.2 54.0h0M456.8 60.6h0M456.8 60.3h0M453.2 66.6h0M455.3 64.4h0M458.0 55.6h0M464.9 43.6h0M462.4 50.3h0M455.8 55.9h0M454.3 64.4h0M489.9 25.9h0M479.4 33.0h0M476.0 36.1h0M483.3 33.6h0M479.6 37.4h0M482.8 26.9h0M489.6 23.3h0M479.4 38.3h0M486.5 30.3h0M488.4 22.2h0M484.1 26.5h0M480.7 35.7h0" stroke="#000" stroke-opacity="0.45" stroke-width="2.2" stroke-linecap="round" fill="none"/><path d="M276.9 226.4h0M282.1 228.3h0M283.6 241.9h0M273.6 228.9h0M285.5 217.1h0M278.7 228.1h0M285.3 219.8h0M286.0 217.4h0M285.6 216.5h0M280.3 218.7h0M286.1 220.8h0M276.2 227.1h0M270.4 228.0h0M284.0 218.2h0M275.0 228.4h0M276.1 228.1h0M282.3 227.5h0M276.7 225.4h0M276.0 225.5h0M276.9 221.2h0M279.1 224.6h0M270.2 228.0h0M280.2 216.9h0M283.0 221.5h0M283.2 217.5h0M281.0 222.7h0M283.2 221.4h0M277.1 226.0h0M275.1 223.6h0M280.2 223.7h0M277.5 226.7h0M271.6 223.2h0M271.9 229.6h0M285.9 220.1h0M286.9 220.0h0M271.8 229.3h0M275.9 222.6h0M285.0 216.9h0M282.2 219.1h0M279.4 222.0h0M281.3 218.7h0M284.1 215.8h0M276.0 229.3h0M277.7 221.8h0M287.1 216.2h0M287.5 222.4h0M273.8 228.3h0M282.4 223.6h0M279.0 222.1h0M275.6 229.4h0M277.8 227.6h0M283.2 221.6h0M281.5 220.5h0M283.9 218.1h0M281.4 223.0h0M277.0 218.8h0M277.8 219.5h0M275.9 223.1h0M283.1 218.2h0M277.7 222.2h0M278.5 225.1h0M276.5 222.5h0M280.8 225.8h0M282.9 219.0h0M272.1 228.9h0M281.1 222.3h0M284.7 217.4h0M281.2 220.4h0M282.3 215.5h0M279.1 225.2h0M276.7 227.7h0M272.2 227.5h0M282.6 224.5h0M282.5 220.2h0M282.9 219.7h0M273.1 230.3h0M285.0 220.1h0M280.4 221.6h0M278.0 225.8h0M278.5 223.5h0M276.6 225.4h0M282.2 219.2h0M286.4 219.4h0M276.8 227.3h0M278.2 222.2h0M286.1 215.3h0M282.8 221.1h0M278.1 220.5h0M282.7 222.8h0M277.3 226.3h0M285.2 215.9h0M278.5 233.0h0M273.5 227.7h0M277.7 224.0h0M282.9 217.9h0M272.9 226.2h0M282.9 219.6h0M281.9 220.0h0M283.1 221.7h0M287.2 216.3h0M272.5 223.0h0M284.2 221.5h0M284.1 217.2h0M279.8 222.6h0M282.6 226.1h0M282.0 219.4h0M276.2 224.9h0M288.3 217.2h0M273.3 227.6h0M282.0 219.4h0M277.2 225.5h0M279.2 223.7h0M278.4 225.7h0M277.0 223.7h0M276.7 221.2h0M273.3 225.8h0M288.4 218.6h0M281.8 220.6h0M284.6 218.3h0M284.1 217.0h0M274.8 228.5h0M281.4 218.9h0M283.6 222.1h0M273.5 228.1h0M284.4 216.5h0M282.4 223.6h0M285.4 219.7h0M276.0 231.0h0M276.5 228.1h0M277.4 224.7h0M278.4 224.2h0M273.7 228.6h0M284.5 216.4h0M279.1 217.7h0M273.6 223.4h0M275.5 228.2h0M278.6 220.0h0M283.6 216.1h0M274.8 226.8h0M280.2 222.4h0M281.3 222.2h0M285.0 216.8h0M273.4 231.4h0M283.9 221.5h0M275.6 228.2h0M282.9 222.4h0M273.4 230.0h0M274.1 227.6h0M280.1 223.6h0M281.1 228.3h0M287.7 216.6h0M278.6 225.5h0M278.7 221.9h0M282.9 220.3h0M276.0 223.3h0M273.1 226.6h0M274.2 228.8h0M277.3 225.7h0M285.1 220.9h0M273.2 226.5h0M283.3 222.2h0M278.9 229.0h0M276.5 226.2h0M277.1 224.4h0M272.6 226.2h0M278.1 217.8h0M276.3 225.1h0M284.1 219.0h0M273.9 228.3h0M285.4 215.9h0M276.1 222.9h0M275.1 227.0h0M288.7 217.8h0M276.1 225.4h0M286.1 217.6h0M289.0 217.6h0M285.3 220.4h0M275.4 227.9h0M284.2 220.2h0M281.1 222.5h0M282.0 223.0h0M281.6 222.9h0M278.8 223.3h0M273.6 229.5h0M281.3 220.5h0M283.2 223.4h0M287.6 220.9h0M278.1 221.6h0M286.9 216.4h0M276.8 225.6h0M281.5 217.4h0M275.3 229.5h0M278.7 224.0h0M285.0 220.3h0M273.5 229.6h0M285.2 214.7h0M274.4 226.3h0M270.5 216.8h0M281.6 221.8h0M278.1 222.3h0M287.7 219.8h0M282.8 225.8h0M286.1 216.0h0M283.6 221.1h0M280.0 225.4h0M280.3 222.7h0M282.1 218.2h0M279.8 223.6h0M279.2 222.9h0M279.3 225.4h0M283.3 220.7h0M280.6 218.3h0M274.6 231.4h0M275.5 226.1h0M276.1 227.5h0M275.4 226.2h0M273.6 229.0h0M280.6 216.7h0M281.3 221.2h0M281.4 220.6h0M274.7 228.4h0M275.1 224.9h0M275.4 227.0h0M273.1 227.6h0M277.1 224.0h0M283.8 220.5h0M278.5 218.9h0M273.9 226.7h0M278.6 224.5h0M286.1 227.9h0M277.8 222.3h0M285.7 215.0h0M283.9 223.4h0M281.3 219.6h0M283.8 219.3h0M274.7 229.2h0M280.7 227.4h0M274.6 228.2h0M278.4 223.5h0M282.1 215.6h0M276.2 226.8h0M281.0 225.7h0M284.8 218.3h0M280.5 223.6h0M285.0 223.2h0M271.0 224.8h0M286.0 217.9h0M282.0 217.7h0M283.8 217.3h0M274.9 225.5h0M286.2 218.5h0M280.2 222.7h0M281.7 224.6h0M283.8 216.8h0M275.2 227.3h0M280.7 219.2h0M277.6 220.7h0M274.4 227.7h0M284.3 226.2h0M284.6 217.8h0M272.6 229.6h0M276.9 228.1h0M285.3 217.9h0M283.7 217.4h0M285.1 219.9h0M276.2 232.7h0M286.8 241.7h0M277.8 223.7h0M285.1 217.6h0M282.8 222.5h0M280.4 223.6h0M283.3 216.1h0M275.4 222.6h0M279.3 221.3h0M286.5 217.8h0M278.3 223.2h0M277.4 226.7h0M283.8 219.3h0M276.6 226.7h0M278.8 220.0h0M285.4 217.5h0M292.6 222.7h0M284.5 218.9h0M275.1 216.7h0M283.1 219.3h0M277.4 221.9h0M278.5 219.0h0M276.7 228.2h0M270.8 228.6h0M278.3 226.4h0M277.7 225.0h0M276.4 228.3h0M278.1 222.8h0M283.2 223.2h0M271.9 228.8h0M282.9 218.2h0M276.1 221.2h0M279.9 225.2h0M273.4 225.3h0M273.2 229.8h0M278.3 220.4h0M276.3 225.7h0M281.7 224.0h0M285.7 223.3h0M277.4 225.5h0M284.9 214.8h0M284.6 215.5h0M276.6 226.0h0M280.7 223.1h0M276.4 224.7h0M284.6 219.3h0M274.8 223.7h0M277.3 228.5h0M278.6 221.4h0M287.0 216.8h0M283.7 218.7h0M271.4 227.8h0M282.9 215.7h0M273.5 227.6h0M287.7 219.8h0M281.5 223.2h0M272.9 227.2h0M278.2 219.0h0M285.4 219.9h0M270.9 228.3h0M280.9 216.8h0M285.3 215.9h0M274.9 229.3h0M271.7 229.1h0M276.8 228.0h0M275.7 223.4h0M277.4 222.8h0M284.9 216.9h0M283.9 217.7h0M281.1 232.5h0M283.3 216.8h0M277.0 222.5h0M274.7 230.5h0M277.3 224.3h0M278.9 227.4h0M280.9 214.5h0M284.0 216.3h0M273.7 226.0h0M273.7 227.6h0M283.5 215.9h0M273.0 226.0h0M275.6 227.6h0M284.6 215.4h0M283.4 223.2h0M273.6 226.2h0M282.2 213.5h0M277.8 207.0h0M275.4 226.1h0M288.6 227.6h0M274.4 227.7h0M282.2 224.0h0M283.0 217.3h0M280.2 219.9h0M273.8 224.1h0M276.1 228.2h0M276.9 225.3h0M280.7 222.8h0M285.7 218.3h0M275.5 229.2h0M274.0 227.7h0M272.3 227.9h0M274.0 229.8h0M285.3 216.3h0M285.8 217.9h0M285.5 219.8h0M274.0 226.8h0M274.8 225.7h0M284.8 219.9h0M276.8 223.1h0M272.5 230.4h0M270.6 226.9h0M276.5 227.8h0M284.8 217.0h0M275.8 221.1h0M280.5 218.7h0M286.4 218.5h0M277.4 226.7h0M287.0 218.9h0M283.2 219.6h0M282.7 224.5h0M284.4 218.9h0M279.4 221.1h0M274.1 227.8h0M278.6 227.8h0M278.5 220.4h0M274.8 228.4h0M284.6 218.7h0M269.4 226.9h0M281.1 216.7h0M278.1 219.2h0M287.2 217.5h0M279.0 219.1h0M283.3 217.2h0M282.7 217.8h0M273.3 230.7h0M280.1 222.3h0M288.3 230.4h0M280.1 216.5h0M279.5 220.5h0M282.7 218.2h0M273.0 230.1h0M278.2 224.3h0M280.4 221.0h0M285.3 226.0h0M286.6 216.6h0M272.3 229.3h0M280.8 216.4h0M284.6 217.8h0M283.5 218.3h0M272.6 229.4h0M283.9 220.1h0M281.2 222.5h0M271.2 227.9h0M274.3 225.2h0M275.2 227.8h0M283.5 214.0h0M282.1 221.3h0M286.2 215.7h0M272.1 229.1h0M274.0 222.1h0M281.9 218.8h0M283.2 222.6h0M282.1 221.6h0M281.8 220.8h0M277.1 225.8h0M274.3 227.9h0M273.4 225.1h0M285.2 218.4h0M280.9 220.5h0M273.6 230.3h0M287.3 211.6h0M288.9 210.1h0M298.9 210.1h0M290.6 209.7h0M305.0 198.8h0M300.1 200.2h0M294.1 208.6h0M296.9 208.2h0M305.9 200.4h0M303.0 201.6h0M300.6 207.4h0M286.4 210.8h0M299.6 203.6h0M300.6 205.7h0M296.7 213.0h0M304.6 198.9h0M301.8 202.9h0M301.1 204.9h0M298.1 208.1h0M301.8 202.4h0M288.4 213.4h0M303.0 201.3h0M299.2 204.0h0M307.1 200.0h0M287.8 212.5h0M301.7 212.6h0M289.5 215.3h0M291.2 211.4h0M294.8 207.2h0M288.8 211.3h0M302.2 204.5h0M306.2 198.8h0M290.2 213.3h0M291.3 209.3h0M303.2 197.3h0M305.7 201.0h0M288.7 209.4h0M295.6 211.2h0M302.5 198.8h0M295.6 209.1h0M297.8 203.3h0M303.4 201.4h0M288.5 212.4h0M289.2 210.4h0M295.3 210.7h0M289.2 215.3h0M288.7 213.5h0M294.7 207.4h0M303.1 203.5h0M292.4 216.8h0M305.0 197.7h0M304.3 201.6h0M292.7 213.0h0M298.3 206.0h0M301.2 203.4h0M304.8 202.4h0M303.6 205.2h0M294.7 208.5h0M289.0 216.9h0M291.8 214.2h0M302.0 198.8h0M302.5 204.3h0M299.7 205.4h0M291.8 212.6h0M290.5 212.3h0M292.6 213.9h0M288.2 214.0h0M286.6 206.6h0M300.5 201.2h0M300.5 202.1h0M301.3 204.0h0M293.3 206.2h0M298.0 207.7h0M300.0 208.5h0M305.6 201.1h0M297.9 205.0h0M291.6 212.1h0M292.8 209.3h0M287.2 213.6h0M297.1 206.2h0M293.2 210.8h0M292.3 211.8h0M290.9 210.4h0M299.3 209.6h0M304.6 204.7h0M301.9 206.1h0M296.4 208.9h0M305.7 202.9h0M291.8 209.4h0M286.5 214.4h0M289.5 216.3h0M287.8 216.2h0M296.2 205.5h0M288.6 213.7h0M287.3 215.0h0M295.2 207.6h0M303.8 202.1h0M306.9 202.4h0M299.5 204.3h0M302.8 206.1h0M290.1 207.3h0M305.8 198.5h0M289.0 213.1h0M292.6 209.5h0M289.7 214.9h0M286.6 214.6h0M296.9 207.4h0M297.9 208.3h0M287.9 213.4h0M296.7 207.5h0M293.6 214.6h0M294.2 207.3h0M287.4 214.3h0M296.5 208.1h0M308.0 199.8h0M301.5 201.2h0M288.0 213.5h0M299.7 202.0h0M301.8 201.8h0M303.5 201.7h0M306.0 199.4h0M289.4 214.8h0M287.0 211.1h0M295.5 204.4h0M301.7 202.9h0M306.5 198.1h0M299.1 209.5h0M291.7 208.4h0M304.2 201.2h0M290.3 210.7h0M295.1 205.8h0M292.8 213.4h0M300.8 203.8h0M298.7 204.1h0M308.0 201.5h0M307.5 199.6h0M304.1 203.0h0M302.5 201.0h0M302.0 204.5h0M299.4 205.5h0M287.2 215.6h0M298.4 207.8h0M304.0 198.8h0M291.7 209.6h0M296.4 205.5h0M294.1 212.1h0M295.0 210.1h0M301.5 204.3h0M294.5 207.7h0M300.2 203.8h0M298.9 207.8h0M295.7 210.3h0M303.9 202.0h0M298.5 200.8h0M303.8 196.3h0M297.4 210.4h0M291.1 215.2h0M292.4 211.2h0M303.8 203.7h0M303.5 202.3h0M292.5 210.0h0M292.1 214.1h0M297.9 206.6h0M293.2 209.9h0M300.8 202.9h0M290.4 210.6h0M306.5 199.0h0M291.0 216.7h0M303.5 206.1h0M297.7 220.7h0M306.4 199.7h0M290.4 212.3h0M295.6 205.2h0M291.3 211.7h0M296.2 206.2h0M287.6 214.2h0M292.0 216.4h0M295.4 207.2h0M296.2 204.4h0M297.5 208.3h0M302.0 204.9h0M302.7 206.6h0M299.4 201.2h0M293.4 212.0h0M291.0 212.7h0M294.4 205.3h0M288.3 215.2h0M297.3 209.9h0M295.1 207.5h0M297.0 206.0h0M289.7 217.4h0M293.1 210.8h0M293.5 217.5h0M291.3 212.2h0M291.7 210.9h0M296.5 207.9h0M296.0 210.6h0M302.5 204.6h0M288.1 211.9h0M291.4 213.9h0M296.0 211.5h0M303.0 197.4h0M303.5 202.9h0M293.9 212.6h0M306.2 199.2h0M305.9 197.4h0M301.5 203.2h0M303.1 202.3h0M297.6 208.2h0M299.5 207.1h0M296.0 210.2h0M287.1 211.3h0M286.9 214.2h0M290.7 207.5h0M296.6 206.0h0M297.1 206.8h0M304.9 198.6h0M301.2 207.1h0M288.4 210.0h0M296.1 208.1h0M302.2 202.2h0M293.6 212.4h0M296.1 210.0h0M298.8 209.0h0M302.9 200.8h0M304.7 200.3h0M294.8 204.5h0M299.2 204.6h0M287.5 206.8h0M302.2 202.6h0M289.6 215.7h0M288.8 214.4h0M303.8 200.6h0M308.5 200.4h0M305.3 199.6h0M299.4 207.1h0M306.1 204.5h0M291.8 212.0h0M290.0 214.5h0M293.3 211.5h0M296.2 210.6h0M305.3 198.9h0M288.6 214.2h0M289.4 214.7h0M308.7 200.8h0M305.3 200.6h0M291.4 212.5h0M294.3 213.3h0M289.0 208.1h0M295.8 210.3h0M299.8 203.9h0M290.0 212.6h0M289.7 213.2h0M292.3 212.0h0M293.3 209.4h0M299.8 205.8h0M286.1 214.0h0M301.5 203.2h0M295.7 203.0h0M298.4 210.3h0M298.9 204.0h0M289.1 212.4h0M291.3 212.7h0M291.2 209.4h0M291.2 205.8h0M306.7 200.8h0M300.9 205.0h0M296.4 207.3h0M290.6 212.8h0M291.7 211.7h0M310.4 230.9h0M300.5 204.6h0M298.6 204.6h0M304.9 200.8h0M300.7 202.7h0M301.8 204.1h0M305.9 206.7h0M289.9 212.6h0M289.6 217.4h0M295.1 210.5h0M290.3 210.1h0M299.6 203.8h0M299.2 205.6h0M301.4 209.1h0M305.2 196.8h0M304.7 201.0h0M288.1 216.6h0M290.3 207.9h0M292.4 210.8h0M289.4 211.3h0M295.2 211.8h0M296.4 208.5h0M303.4 201.5h0M298.6 204.2h0M292.1 213.1h0M298.7 208.3h0M295.8 207.6h0M289.3 214.9h0M291.6 213.4h0M304.4 200.4h0M302.1 203.9h0M296.7 208.6h0M293.1 212.4h0M298.5 208.3h0M303.7 204.7h0M298.7 205.7h0M292.1 216.7h0M299.2 205.6h0M298.1 203.5h0M305.5 207.0h0M302.2 200.9h0M296.7 205.7h0M306.8 200.7h0M292.5 211.2h0M304.5 198.0h0M286.7 210.4h0M302.5 206.4h0M291.5 212.9h0M292.1 210.0h0M295.9 209.1h0M293.1 216.1h0M297.9 208.6h0M307.0 201.8h0M299.3 205.5h0M284.8 212.4h0M293.1 215.6h0M293.1 208.4h0M302.7 202.5h0M299.9 204.0h0M299.5 204.4h0M285.6 213.1h0M295.4 205.9h0M288.6 213.5h0M297.4 207.7h0M287.6 215.0h0M291.5 209.3h0M291.5 208.8h0M296.3 211.9h0M301.8 201.6h0M304.8 203.4h0M299.1 204.2h0M302.9 197.2h0M302.8 200.9h0M306.3 203.2h0M302.7 198.2h0M297.5 208.2h0M300.3 204.2h0M304.8 202.2h0M304.8 201.6h0M290.5 214.3h0M294.3 207.8h0M303.2 202.2h0M297.4 205.3h0M294.8 207.7h0M288.0 214.5h0M288.3 215.8h0M295.1 208.5h0M296.2 207.1h0M286.3 213.8h0M299.0 204.7h0M301.9 206.5h0M306.6 199.2h0M288.2 210.6h0M302.2 200.4h0M302.6 224.7h0M295.5 205.8h0M287.7 215.2h0M291.0 213.0h0M298.7 207.8h0M289.1 215.3h0M297.1 207.8h0M301.6 203.5h0M304.0 200.8h0M305.4 202.8h0M288.1 214.2h0M290.9 214.4h0M303.9 199.7h0M290.3 212.1h0M288.6 214.3h0M302.9 201.8h0M304.1 199.4h0M299.8 206.9h0M306.9 200.8h0M290.0 212.3h0M296.0 208.2h0M290.3 212.0h0M291.0 215.3h0M295.0 208.9h0M307.5 200.3h0M290.9 207.9h0M301.6 205.6h0M294.7 215.1h0M303.9 205.0h0M297.2 207.1h0M298.9 209.2h0M297.1 207.2h0M293.2 213.3h0M295.9 210.7h0M298.3 206.2h0M287.3 208.3h0M301.8 201.5h0M303.5 200.4h0M294.2 211.9h0M289.3 213.8h0M308.1 197.7h0M308.2 196.7h0M317.4 191.8h0M310.2 200.2h0M306.8 194.6h0M315.5 192.5h0M317.6 189.7h0M316.5 197.8h0M311.6 196.1h0M317.4 191.0h0M315.2 191.7h0M309.9 197.1h0M309.2 195.1h0M324.8 187.0h0M313.5 192.6h0M315.3 184.6h0M307.8 198.3h0M326.9 182.6h0M313.9 193.4h0M315.0 192.7h0M317.9 186.4h0M309.2 197.3h0M315.8 189.6h0M306.8 196.0h0M306.8 196.1h0M311.6 196.8h0M317.9 190.0h0M317.9 191.1h0M317.3 188.1h0M309.9 197.5h0M312.1 197.8h0M307.8 198.7h0M321.1 187.8h0M316.9 188.9h0M314.4 194.1h0M315.3 189.0h0M312.2 194.5h0M315.4 189.1h0M311.2 195.0h0M312.9 189.6h0M308.7 199.7h0M318.1 187.9h0M321.4 187.1h0M317.1 192.8h0M314.7 187.8h0M311.5 196.5h0M311.8 195.4h0M322.9 186.5h0M316.0 190.1h0M320.6 188.3h0M317.1 187.7h0M310.2 195.1h0M316.7 189.4h0M322.7 183.8h0M316.1 192.8h0M308.1 194.6h0M316.7 190.8h0M309.7 192.2h0M308.9 198.3h0M321.7 186.7h0M319.1 188.0h0M314.9 189.7h0M306.4 197.7h0M316.6 191.7h0M319.9 189.9h0M312.6 196.2h0M316.5 187.7h0M319.1 189.7h0M308.1 196.9h0M312.6 192.2h0M310.8 192.7h0M321.9 183.6h0M316.5 190.7h0M325.9 183.9h0M308.4 193.0h0M306.5 196.3h0M319.6 185.7h0M311.1 195.9h0M319.1 190.6h0M324.4 185.6h0M323.1 184.0h0M310.4 198.6h0M308.1 194.7h0M311.0 196.1h0M313.3 193.6h0M316.8 191.5h0M319.8 187.6h0M311.1 192.7h0M327.5 190.9h0M309.2 196.0h0M325.4 185.2h0M320.3 188.5h0M326.2 181.6h0M306.0 197.2h0M316.8 190.9h0M317.5 192.6h0M322.0 186.7h0M311.2 196.4h0M324.3 184.2h0M321.2 187.8h0M308.7 199.7h0M322.0 188.6h0M324.4 181.5h0M322.5 184.1h0M323.9 183.9h0M308.6 198.1h0M320.9 185.3h0M326.0 182.7h0M310.1 194.4h0M309.8 198.5h0M313.0 196.4h0M318.9 189.1h0M321.8 187.2h0M321.9 184.6h0M309.8 195.9h0M309.7 193.8h0M314.7 193.5h0M313.7 191.9h0M319.7 188.8h0M311.3 195.5h0M309.9 195.3h0M308.0 199.4h0M315.5 191.6h0M319.0 196.0h0M324.9 185.2h0M310.3 197.9h0M310.4 199.6h0M311.9 203.9h0M312.4 192.2h0M310.5 195.7h0M312.6 192.2h0M316.5 189.9h0M315.7 191.7h0M305.3 196.3h0M318.4 186.4h0M316.0 192.4h0M307.9 198.4h0M309.4 199.8h0M324.7 184.3h0M330.6 192.3h0M308.7 197.8h0M313.9 191.7h0M323.0 183.0h0M313.1 193.4h0M323.1 192.5h0M322.5 183.3h0M320.9 185.2h0M311.2 195.1h0M316.0 190.2h0M319.9 185.9h0M309.4 196.6h0M318.3 188.6h0M318.4 189.2h0M322.0 184.3h0M318.3 184.7h0M313.1 195.8h0M320.9 189.1h0M315.1 191.2h0M318.8 191.8h0M306.8 197.0h0M322.2 183.2h0M308.4 197.0h0M315.3 191.8h0M309.3 199.2h0M319.8 190.9h0M313.4 197.3h0M309.8 196.3h0M321.9 182.8h0M310.6 197.2h0M311.7 194.4h0M313.6 193.9h0M315.9 188.2h0M314.3 198.1h0M324.0 184.2h0M325.8 184.6h0M316.4 192.5h0M321.5 189.2h0M311.5 194.4h0M309.8 199.2h0M310.5 195.7h0M310.5 193.3h0M309.1 198.4h0M318.4 190.5h0M308.8 199.7h0M315.9 191.7h0M308.6 198.3h0M325.5 183.0h0M315.2 192.4h0M322.7 183.9h0M322.4 188.3h0M311.4 197.5h0M313.4 190.2h0M315.5 191.6h0M317.7 189.8h0M306.2 196.6h0M313.5 187.4h0M322.6 187.2h0M320.2 186.2h0M316.6 192.6h0M318.6 188.4h0M311.9 192.5h0M312.0 193.3h0M312.0 193.8h0M309.3 201.2h0M315.8 195.7h0M321.2 191.3h0M322.2 183.6h0M323.2 187.4h0M316.6 189.6h0M324.0 183.8h0M321.8 186.2h0M314.9 192.0h0M320.0 186.1h0M308.6 195.9h0M326.2 183.3h0M326.5 182.9h0M322.2 184.8h0M311.6 194.2h0M310.3 194.2h0M309.1 193.5h0M316.9 186.3h0M322.8 189.1h0M321.6 181.0h0M320.2 190.4h0M324.2 186.1h0M311.0 193.3h0M312.3 189.6h0M311.5 197.7h0M317.5 185.6h0M310.9 197.4h0M313.9 190.6h0M314.4 194.6h0M325.0 184.7h0M320.4 188.8h0M317.1 190.8h0M321.0 199.2h0M324.9 186.5h0M322.6 183.5h0M313.7 192.3h0M308.6 194.5h0M318.5 189.1h0M307.9 198.0h0M316.8 190.0h0M313.8 193.1h0M319.9 188.0h0M316.5 188.9h0M324.2 187.5h0M308.7 196.3h0M315.2 186.0h0M306.7 196.3h0M315.7 188.7h0M309.8 193.5h0M329.7 178.5h0M331.6 179.3h0M339.6 169.7h0M338.9 171.8h0M329.5 173.9h0M338.0 171.9h0M329.8 178.0h0M338.7 172.5h0M336.6 174.4h0M334.6 177.0h0M327.5 181.4h0M328.8 181.1h0M340.7 166.1h0M337.3 171.4h0M329.9 178.3h0M334.5 175.7h0M349.3 167.0h0M341.2 169.6h0M333.4 175.2h0M334.6 177.9h0M328.0 178.3h0M332.7 177.3h0M339.0 171.9h0M341.5 169.2h0M325.5 179.4h0M343.0 169.2h0M330.2 177.5h0M344.7 163.2h0M340.6 166.7h0M332.1 177.6h0M329.4 180.4h0M344.4 166.4h0M346.3 164.5h0M334.7 174.3h0M332.0 175.8h0M339.0 169.4h0M338.6 171.9h0M340.0 167.1h0M334.2 172.3h0M336.0 176.4h0M327.2 181.6h0M335.8 175.7h0M330.4 178.7h0M327.1 179.6h0M338.3 172.2h0M339.8 169.9h0M332.1 176.9h0M340.9 169.5h0M342.6 167.0h0M329.3 175.6h0M329.7 179.7h0M333.3 178.8h0M343.8 167.2h0M329.2 180.3h0M341.8 169.6h0M342.4 170.5h0M339.4 171.9h0M332.2 174.5h0M339.5 171.3h0M329.7 178.3h0M330.4 182.1h0M343.2 163.0h0M331.2 177.8h0M344.2 167.5h0M340.0 174.0h0M344.4 168.3h0M340.8 171.5h0M328.7 182.0h0M337.6 172.1h0M342.6 165.5h0M328.2 180.3h0M332.0 173.7h0M330.3 179.6h0M328.6 181.2h0M345.2 172.8h0M331.6 176.5h0M331.0 180.9h0M344.8 170.4h0M340.0 167.9h0M330.9 174.5h0M343.5 164.9h0M343.5 169.4h0M339.1 171.0h0M342.9 168.3h0M341.1 166.0h0M334.5 174.2h0M326.6 179.7h0M339.1 169.7h0M334.0 172.8h0M344.5 163.9h0M337.4 170.7h0M340.2 171.7h0M338.2 172.1h0M335.6 175.5h0M342.3 165.6h0M327.1 181.2h0M332.8 174.8h0M344.0 170.8h0M342.6 174.1h0M332.0 178.1h0M332.4 179.1h0M327.4 178.4h0M343.5 169.9h0M331.7 179.9h0M329.3 177.3h0M335.4 174.6h0M340.9 169.5h0M332.5 177.4h0M331.3 176.3h0M340.2 167.6h0M342.1 170.5h0M340.4 183.9h0M328.6 177.4h0M340.7 168.0h0M335.1 174.7h0M338.0 167.7h0M340.1 168.2h0M328.6 181.0h0M329.1 179.0h0M340.4 173.0h0M334.2 175.0h0M327.3 179.2h0M329.3 175.3h0M337.5 172.3h0M333.0 175.9h0M346.6 164.5h0M331.1 181.8h0M337.8 171.1h0M333.9 176.1h0M328.5 176.9h0M345.4 166.1h0M330.7 179.4h0M358.7 154.2h0M347.9 162.4h0M364.0 144.2h0M349.3 165.5h0M357.9 156.8h0M359.9 148.1h0M362.8 149.5h0M344.3 161.0h0M365.9 146.5h0M359.2 153.0h0M356.1 159.9h0M349.3 163.2h0M356.2 154.5h0M347.6 164.4h0M358.3 152.1h0M353.9 153.1h0M350.0 164.1h0M355.1 156.3h0M349.8 163.1h0M348.8 163.6h0M353.7 159.9h0M348.2 156.7h0M348.3 163.8h0M362.8 152.7h0M382.9 172.7h0M356.7 153.1h0M356.4 154.7h0M356.0 152.9h0M348.5 163.3h0M348.3 163.6h0M353.5 160.6h0M353.0 159.4h0M360.6 154.7h0M360.1 150.7h0M347.9 162.5h0M352.4 158.7h0M359.6 152.8h0M347.1 161.6h0M361.9 146.2h0M349.2 163.0h0M356.6 156.0h0M354.7 157.6h0M351.6 160.4h0M365.9 147.8h0M346.1 162.2h0M358.2 153.7h0M361.3 148.9h0M359.5 150.0h0M355.9 154.0h0M360.4 148.2h0M355.0 157.5h0M351.0 162.4h0M358.3 153.0h0M354.1 155.9h0M352.5 161.3h0M362.1 149.6h0M363.8 147.6h0M355.9 158.1h0M366.5 147.1h0M359.9 152.6h0M364.7 148.1h0M346.7 160.7h0M356.7 156.4h0M352.8 159.0h0M352.7 160.0h0M353.5 158.3h0M349.1 160.0h0M351.6 159.2h0M371.2 140.4h0M369.7 142.7h0M372.7 142.6h0M369.1 144.5h0M386.5 124.8h0M366.7 145.0h0M384.6 129.7h0M378.5 137.0h0M371.6 143.2h0M375.7 135.3h0M380.8 133.7h0M377.5 134.7h0M367.0 145.6h0M371.5 142.3h0M372.4 137.9h0M370.1 141.4h0M374.6 139.1h0M375.2 136.0h0M379.4 134.5h0M381.5 128.4h0M395.9 134.9h0M368.8 143.8h0M375.1 140.4h0M380.1 133.6h0M369.2 139.9h0M376.3 134.8h0M383.6 127.8h0M384.1 125.9h0M371.2 139.9h0M375.4 137.6h0M371.9 145.7h0M383.1 129.1h0M375.9 135.1h0M378.5 131.5h0M371.5 140.4h0M391.6 122.0h0M398.3 111.0h0M396.3 119.1h0M391.0 117.9h0M402.7 108.6h0M404.0 102.6h0M398.4 111.7h0M388.1 122.3h0M394.3 114.7h0M396.8 117.3h0M389.6 118.8h0M407.2 107.6h0M394.9 112.2h0M397.0 116.5h0M386.5 124.4h0M405.8 107.0h0M396.3 115.1h0M392.9 121.0h0M416.7 97.4h0M423.1 95.8h0M428.1 87.3h0M428.1 86.6h0M419.1 96.1h0M411.7 100.0h0M406.1 100.0h0M424.8 90.8h0M412.6 101.5h0M420.2 99.3h0M426.4 92.1h0M424.9 89.6h0M412.6 102.6h0M440.9 77.8h0M447.4 69.3h0M444.3 70.0h0M447.2 61.8h0M428.9 85.5h0M427.3 81.2h0M442.3 72.2h0M440.6 74.2h0M444.3 85.7h0M446.2 72.3h0M448.6 65.8h0M434.2 81.4h0M447.9 69.7h0M446.5 76.5h0M443.6 75.4h0M451.3 61.2h0M468.8 50.2h0M462.4 54.4h0M467.7 50.4h0M456.3 58.9h0M458.4 53.0h0M461.6 47.4h0M467.4 49.4h0M452.5 61.0h0M466.7 43.3h0M462.2 52.2h0M467.7 48.0h0M452.0 60.5h0M459.5 53.7h0M492.0 23.9h0M481.6 32.8h0M477.6 39.2h0M486.8 35.4h0M491.2 27.0h0M467.7 39.1h0M491.0 26.7h0M484.6 19.5h0M475.4 37.1h0M475.7 37.2h0M472.4 30.0h0M471.7 39.3h0" stroke="#000" stroke-opacity="0.45" stroke-width="2.2" stroke-linecap="round" fill="none"/><path d="M274.8 227.1h0M279.0 226.8h0M271.8 226.2h0M277.4 226.0h0M274.7 228.4h0M278.5 223.5h0M280.0 225.8h0M273.1 229.9h0M276.9 225.9h0M287.9 218.3h0M281.9 219.7h0M283.7 219.2h0M276.0 225.5h0M276.7 225.2h0M278.6 223.7h0M272.4 225.2h0M284.5 218.9h0M278.2 221.1h0M284.9 218.6h0M289.7 219.6h0M281.4 221.3h0M277.7 221.4h0M285.0 217.7h0M273.2 225.3h0M273.8 230.8h0M281.9 225.3h0M282.9 217.0h0M277.8 224.7h0M272.2 226.7h0M280.0 219.6h0M275.6 225.6h0M280.8 221.8h0M276.3 225.9h0M273.8 231.0h0M283.6 219.3h0M280.6 219.8h0M276.9 224.5h0M277.4 224.7h0M279.5 227.6h0M276.6 226.7h0M270.5 225.8h0M273.0 230.3h0M283.2 217.6h0M286.6 216.3h0M282.6 219.6h0M285.7 215.7h0M286.0 215.0h0M273.0 230.9h0M283.3 222.3h0M273.2 225.5h0M284.4 225.2h0M275.9 222.8h0M275.3 224.9h0M283.8 219.0h0M274.4 231.3h0M278.3 225.8h0M274.4 232.5h0M276.5 226.5h0M281.4 221.7h0M275.2 229.6h0M277.5 226.2h0M280.7 217.6h0M284.8 221.4h0M282.5 217.7h0M283.7 216.1h0M274.4 222.3h0M284.8 220.8h0M279.8 225.5h0M279.4 224.6h0M284.1 216.8h0M281.1 221.2h0M274.8 225.4h0M278.8 228.2h0M276.4 229.7h0M284.6 219.6h0M274.8 226.7h0M272.1 230.0h0M275.2 229.7h0M273.6 225.5h0M276.7 229.3h0M283.9 224.0h0M275.6 225.5h0M272.7 230.7h0M274.6 229.5h0M285.5 220.4h0M278.9 219.0h0M285.5 220.0h0M278.8 220.0h0M273.3 230.6h0M286.6 217.3h0M279.9 225.0h0M272.3 227.7h0M283.4 216.2h0M287.1 217.2h0M279.2 223.6h0M283.1 216.3h0M283.3 215.1h0M281.1 219.0h0M283.8 219.4h0M275.4 220.9h0M284.1 218.6h0M276.8 226.0h0M276.8 226.3h0M273.9 229.4h0M283.9 221.3h0M288.7 219.8h0M285.3 216.2h0M283.8 218.4h0M275.5 222.1h0M273.6 228.9h0M282.2 217.6h0M279.2 222.8h0M278.5 222.0h0M283.0 224.0h0M273.2 224.9h0M279.0 226.0h0M280.1 226.3h0M279.5 218.9h0M282.4 216.0h0M283.9 219.9h0M285.5 220.1h0M282.4 221.6h0M275.3 229.9h0M277.3 231.0h0M282.0 222.2h0M279.4 224.6h0M273.5 229.0h0M284.7 218.8h0M272.8 227.0h0M275.7 224.2h0M279.4 225.6h0M274.4 224.8h0M272.9 229.9h0M279.4 221.5h0M282.1 220.9h0M283.4 220.3h0M274.5 230.4h0M274.7 226.1h0M279.2 222.0h0M276.9 228.4h0M274.9 231.0h0M277.8 221.5h0M284.3 214.2h0M274.9 227.1h0M285.2 216.4h0M278.1 226.8h0M274.9 224.8h0M277.9 224.0h0M274.6 229.2h0M273.9 227.9h0M283.1 223.8h0M275.1 229.7h0M279.4 223.1h0M278.2 219.1h0M275.0 227.1h0M279.8 223.5h0M278.9 222.6h0M274.5 225.2h0M279.7 223.1h0M285.6 214.6h0M273.3 229.0h0M277.8 225.3h0M274.0 228.4h0M281.7 223.2h0M278.4 226.9h0M287.1 217.4h0M274.7 223.8h0M274.5 229.5h0M282.4 214.8h0M273.9 227.8h0M274.1 229.9h0M285.2 218.9h0M276.5 225.8h0M275.2 225.9h0M281.7 231.9h0M281.9 217.7h0M277.3 231.6h0M281.9 222.7h0M281.9 221.3h0M278.7 223.2h0M279.3 216.5h0M276.4 222.4h0M278.1 225.4h0M279.5 222.0h0M275.3 219.4h0M273.9 225.1h0M277.5 221.1h0M275.3 222.7h0M283.3 215.3h0M274.4 228.6h0M278.8 227.1h0M286.7 218.9h0M273.1 228.5h0M273.7 228.5h0M271.0 227.5h0M289.2 218.9h0M269.6 225.0h0M275.2 227.1h0M274.6 224.0h0M275.0 227.0h0M288.1 218.4h0M286.2 217.2h0M280.0 229.4h0M275.5 225.8h0M281.4 221.5h0M285.1 217.7h0M286.7 216.5h0M278.1 226.5h0M283.1 215.3h0M275.6 226.4h0M274.7 226.2h0M284.4 222.5h0M283.2 222.9h0M281.1 219.3h0M279.0 219.0h0M275.9 225.8h0M279.9 223.1h0M280.9 223.5h0M274.1 227.3h0M283.5 216.7h0M282.1 221.1h0M280.2 221.2h0M275.0 228.7h0M285.2 214.8h0M276.6 229.0h0M271.6 228.4h0M275.4 221.8h0M283.2 215.5h0M272.4 227.9h0M279.7 225.5h0M280.1 219.1h0M282.8 220.9h0M284.6 225.7h0M286.1 218.1h0M283.4 221.3h0M273.1 230.6h0M282.6 216.6h0M283.8 221.8h0M280.5 218.5h0M280.4 224.2h0M274.9 228.5h0M280.6 216.7h0M280.7 219.0h0M274.6 222.2h0M275.6 229.4h0M282.4 218.4h0M272.8 230.7h0M284.6 219.6h0M282.7 222.0h0M274.2 223.9h0M283.9 218.8h0M281.2 217.5h0M286.1 216.9h0M277.2 225.8h0M279.6 222.1h0M272.8 228.0h0M287.3 216.3h0M284.3 216.5h0M282.0 217.5h0M279.6 221.8h0M276.2 228.0h0M271.5 227.0h0M279.5 224.6h0M288.5 218.3h0M287.1 217.2h0M273.5 230.4h0M281.8 218.4h0M281.7 221.3h0M270.7 227.0h0M284.7 221.9h0M280.8 223.4h0M275.1 226.8h0M280.9 223.8h0M282.3 214.6h0M274.2 229.8h0M272.9 225.7h0M273.5 224.5h0M285.0 219.4h0M281.8 217.3h0M274.0 229.7h0M272.7 229.1h0M274.5 228.2h0M286.9 216.3h0M287.6 217.8h0M282.0 218.8h0M274.1 229.0h0M286.1 220.1h0M272.2 227.7h0M282.8 220.0h0M278.8 221.7h0M273.3 229.8h0M288.1 219.9h0M283.8 218.5h0M273.0 230.3h0M284.5 215.3h0M285.2 218.4h0M275.6 225.9h0M275.6 231.5h0M280.0 226.2h0M274.2 229.6h0M274.8 222.4h0M275.7 222.7h0M287.1 218.8h0M279.1 223.9h0M272.9 226.4h0M272.2 227.1h0M280.6 221.2h0M273.2 225.9h0M276.2 225.1h0M271.8 227.6h0M279.0 224.5h0M276.6 224.2h0M273.1 225.8h0M274.3 221.7h0M282.7 219.2h0M274.1 224.0h0M275.2 229.6h0M281.0 222.6h0M277.7 227.9h0M284.2 216.6h0M284.5 217.2h0M279.9 222.9h0M283.3 223.5h0M274.0 225.3h0M284.4 219.5h0M276.8 224.2h0M279.5 223.5h0M273.7 229.7h0M275.1 221.9h0M283.7 217.7h0M287.1 216.3h0M274.8 228.6h0M287.0 219.2h0M279.1 218.7h0M273.7 227.4h0M282.6 219.7h0M278.3 224.2h0M278.6 224.3h0M283.0 219.7h0M272.2 230.2h0M279.4 222.0h0M278.7 220.3h0M274.9 227.3h0M273.9 230.1h0M279.4 223.0h0M281.6 218.2h0M273.7 229.0h0M273.4 230.9h0M286.6 216.3h0M282.7 219.8h0M282.5 228.2h0M277.9 226.6h0M278.6 225.3h0M278.5 221.6h0M277.9 225.7h0M273.9 227.3h0M279.5 222.7h0M276.6 223.4h0M271.2 228.5h0M273.4 226.4h0M279.2 221.7h0M283.9 225.3h0M279.2 219.2h0M287.7 218.1h0M277.0 220.2h0M275.9 223.2h0M281.1 228.2h0M281.4 225.9h0M272.7 226.5h0M281.5 226.9h0M274.6 227.5h0M276.0 227.3h0M273.0 229.4h0M279.6 221.5h0M274.6 226.3h0M281.8 217.4h0M274.7 230.3h0M279.0 226.9h0M275.9 228.9h0M273.1 230.1h0M288.7 222.5h0M276.4 227.1h0M277.3 226.1h0M288.5 218.9h0M287.5 216.6h0M279.7 221.6h0M280.0 222.5h0M281.9 222.4h0M284.5 224.2h0M277.2 228.5h0M277.9 228.6h0M275.6 224.2h0M282.0 220.6h0M282.1 223.3h0M278.5 226.6h0M274.2 224.9h0M273.5 226.7h0M279.4 227.0h0M276.0 225.4h0M286.0 216.1h0M282.5 218.9h0M280.0 223.3h0M273.5 229.1h0M293.2 234.8h0M282.7 226.2h0M279.0 225.7h0M281.8 219.3h0M285.3 220.8h0M270.4 223.7h0M289.1 218.4h0M273.3 228.1h0M285.7 222.5h0M274.1 223.3h0M288.9 217.7h0M283.0 222.1h0M282.5 224.1h0M277.5 226.6h0M275.3 231.2h0M278.8 220.3h0M280.2 220.7h0M277.9 224.8h0M277.4 223.8h0M271.3 226.2h0M273.9 226.5h0M288.0 221.9h0M278.9 223.4h0M272.5 229.5h0M282.8 222.2h0M287.9 220.1h0M278.7 224.0h0M283.4 215.6h0M276.6 228.3h0M277.2 229.6h0M287.9 223.5h0M297.6 205.2h0M302.1 206.3h0M303.3 202.4h0M300.4 206.1h0M298.8 203.8h0M301.8 203.6h0M290.9 211.1h0M293.7 210.3h0M295.4 210.1h0M294.3 208.5h0M292.0 211.2h0M300.3 203.7h0M292.7 206.3h0M291.0 207.3h0M305.6 197.5h0M300.0 212.6h0M307.4 199.7h0M295.4 212.8h0M300.4 199.2h0M288.8 214.9h0M298.8 205.2h0M302.7 201.2h0M292.5 206.3h0M295.9 208.6h0M292.4 211.1h0M305.9 199.4h0M297.9 206.0h0M288.6 214.2h0M300.7 204.4h0M297.8 212.4h0M300.6 203.5h0M303.9 198.2h0M306.9 198.9h0M289.5 212.0h0M293.3 209.2h0M298.4 206.1h0M300.2 204.4h0M286.8 214.6h0M291.4 214.6h0M295.4 206.8h0M287.2 214.9h0M301.2 204.8h0M292.9 214.3h0M289.7 215.6h0M301.9 196.9h0M296.4 209.7h0M296.2 207.2h0M305.0 200.9h0M289.3 213.7h0M306.2 198.3h0M305.3 200.7h0M306.7 198.6h0M296.5 209.3h0M291.9 213.2h0M299.0 204.6h0M305.6 208.2h0M300.3 210.0h0M292.0 207.0h0M292.1 208.6h0M291.6 212.1h0M296.3 208.9h0M289.6 214.9h0M297.1 203.7h0M288.9 214.0h0M300.6 202.5h0M296.6 202.3h0M290.0 212.7h0M287.1 213.8h0M297.0 209.3h0M300.4 208.2h0M288.8 212.2h0M300.1 208.7h0M299.5 204.5h0M292.8 213.8h0M294.5 210.4h0M301.6 203.0h0M287.2 211.8h0M298.7 204.5h0M299.4 204.9h0M295.8 204.4h0M298.2 207.3h0M289.6 214.2h0M291.0 216.6h0M291.0 214.3h0M299.0 208.4h0M288.6 211.4h0M286.8 212.6h0M288.7 208.7h0M289.5 210.0h0M303.0 200.9h0M289.8 213.8h0M289.6 210.3h0M286.9 214.4h0M288.6 214.4h0M294.6 208.3h0M302.2 204.3h0M294.7 207.4h0M301.6 204.0h0M303.5 200.4h0M287.8 215.0h0M288.6 215.2h0M292.3 209.8h0M305.0 198.9h0M300.5 204.0h0M291.9 213.0h0M303.2 203.4h0M292.4 212.6h0M300.3 204.1h0M289.7 212.4h0M293.5 208.0h0M296.2 205.8h0M303.0 203.4h0M298.0 209.1h0M308.1 203.2h0M301.0 205.4h0M294.3 207.3h0M304.4 197.7h0M288.7 211.3h0M288.3 214.2h0M293.8 206.3h0M290.3 208.8h0M300.0 200.6h0M297.2 202.4h0M288.5 216.9h0M295.5 210.5h0M302.1 199.9h0M299.2 206.4h0M291.4 211.5h0M291.9 213.7h0M296.6 209.5h0M288.5 210.4h0M290.9 212.0h0M289.2 209.5h0M295.6 207.3h0M290.5 218.2h0M298.7 204.9h0M304.9 197.9h0M297.9 202.9h0M292.4 209.2h0M291.2 210.1h0M289.1 214.2h0M301.2 199.7h0M303.1 217.2h0M299.3 209.8h0M292.2 211.7h0M303.2 204.6h0M288.9 215.8h0M300.2 206.6h0M301.8 202.8h0M301.2 200.9h0M298.5 211.3h0M297.9 210.0h0M290.3 209.0h0M305.9 200.3h0M305.6 199.0h0M298.1 205.2h0M295.3 208.3h0M286.2 213.4h0M288.7 210.0h0M285.8 212.0h0M300.8 205.3h0M294.3 214.4h0M305.9 203.3h0M291.1 209.9h0M308.5 200.3h0M288.2 216.2h0M302.5 204.1h0M290.6 211.4h0M298.4 204.4h0M294.3 208.1h0M293.5 206.5h0M295.8 206.0h0M294.7 208.5h0M306.8 200.9h0M295.5 207.0h0M288.2 214.2h0M303.2 204.3h0M290.0 205.5h0M304.9 202.2h0M304.6 196.2h0M298.7 206.0h0M288.9 214.8h0M297.7 200.2h0M287.7 215.8h0M288.0 214.0h0M295.2 210.3h0M285.8 209.7h0M287.6 214.5h0M292.4 209.1h0M290.5 208.2h0M300.3 208.3h0M289.0 213.9h0M285.6 212.6h0M294.4 211.0h0M298.6 210.5h0M295.6 211.3h0M304.7 201.8h0M294.7 220.7h0M301.1 203.8h0M284.9 212.8h0M293.9 211.5h0M292.0 210.0h0M296.0 207.9h0M301.7 202.7h0M291.3 209.7h0M298.5 208.9h0M306.1 197.5h0M299.1 203.7h0M288.5 214.8h0M305.8 201.3h0M293.2 207.8h0M298.5 205.8h0M301.1 202.0h0M299.9 206.3h0M303.9 199.8h0M302.8 202.7h0M306.6 198.1h0M299.4 202.7h0M302.7 203.7h0M288.6 210.5h0M299.7 205.4h0M298.1 207.1h0M296.8 204.3h0M293.4 201.8h0M289.4 213.5h0M305.0 198.9h0M302.1 204.6h0M294.9 208.5h0M292.8 215.4h0M304.8 197.6h0M314.9 218.6h0M294.7 204.9h0M289.1 210.1h0M288.2 212.1h0M287.0 213.5h0M296.7 205.7h0M300.8 206.0h0M297.9 210.8h0M291.7 211.2h0M287.8 215.7h0M296.7 203.7h0M293.3 206.2h0M288.6 216.9h0M303.0 199.8h0M286.4 214.7h0M297.8 203.1h0M300.9 203.5h0M294.6 208.1h0M303.8 201.2h0M300.5 203.1h0M296.5 206.8h0M300.0 205.2h0M297.5 206.9h0M304.2 203.2h0M308.0 200.1h0M294.2 204.7h0M302.2 202.2h0M299.4 204.5h0M287.9 210.2h0M291.9 211.8h0M291.3 212.2h0M289.3 214.2h0M293.3 210.3h0M303.4 203.3h0M288.2 215.1h0M293.8 208.1h0M297.6 224.4h0M301.3 204.5h0M307.4 210.6h0M294.4 211.6h0M301.7 201.4h0M298.5 202.9h0M289.7 216.6h0M289.9 212.0h0M296.4 204.7h0M297.7 203.8h0M293.1 208.0h0M294.3 206.5h0M289.2 214.6h0M291.4 213.9h0M298.2 207.1h0M307.1 198.9h0M303.4 199.2h0M304.3 198.8h0M292.9 211.9h0M306.2 200.6h0M302.5 200.9h0M291.9 206.9h0M283.2 210.9h0M298.4 199.5h0M293.9 209.2h0M301.7 203.1h0M300.8 207.9h0M294.8 207.0h0M287.2 211.9h0M294.0 207.4h0M298.1 205.6h0M306.9 198.4h0M297.7 205.8h0M302.4 201.8h0M293.9 213.2h0M298.4 202.0h0M287.2 214.9h0M294.7 208.8h0M299.3 207.3h0M289.4 216.4h0M306.9 199.9h0M289.8 213.8h0M294.0 203.1h0M290.6 208.6h0M293.7 209.0h0M302.1 201.9h0M299.7 202.8h0M290.8 212.2h0M295.2 211.5h0M285.7 212.6h0M291.5 212.8h0M299.4 206.9h0M305.5 203.0h0M294.4 213.9h0M291.5 212.8h0M288.2 211.0h0M287.6 211.6h0M294.1 207.0h0M301.6 205.1h0M288.8 216.5h0M292.2 210.3h0M286.3 214.2h0M307.7 199.5h0M308.6 200.7h0M296.6 208.6h0M293.1 209.9h0M289.8 216.5h0M295.1 206.4h0M302.8 198.8h0M307.1 198.7h0M306.2 199.7h0M286.4 213.7h0M298.0 203.6h0M286.4 214.7h0M298.4 203.6h0M294.5 210.2h0M286.6 214.8h0M290.0 218.3h0M290.1 212.7h0M293.4 207.1h0M291.7 214.6h0M286.8 211.0h0M298.6 205.7h0M306.2 199.7h0M301.6 203.2h0M292.0 210.4h0M288.5 213.4h0M298.2 206.4h0M295.7 205.6h0M296.9 209.7h0M294.3 211.6h0M294.6 210.2h0M294.5 206.2h0M304.7 202.5h0M301.9 200.8h0M298.3 203.6h0M294.0 212.4h0M301.1 205.7h0M306.9 203.2h0M295.2 208.2h0M299.6 200.5h0M293.5 211.0h0M302.0 198.4h0M296.5 205.2h0M301.5 203.1h0M288.8 214.7h0M301.7 206.9h0M299.3 206.2h0M300.1 204.9h0M292.8 210.4h0M297.0 206.4h0M302.8 204.3h0M295.5 209.0h0M301.7 217.1h0M288.3 209.5h0M299.7 202.4h0M306.6 201.6h0M289.5 201.7h0M289.6 216.2h0M301.2 204.8h0M303.3 198.2h0M290.4 216.1h0M290.4 217.0h0M304.4 204.2h0M283.3 198.4h0M294.5 213.4h0M294.5 210.7h0M291.6 211.5h0M289.8 210.5h0M299.1 201.2h0M296.9 209.5h0M300.5 203.4h0M296.7 203.5h0M289.0 215.9h0M306.2 201.4h0M306.4 199.7h0M286.5 214.6h0M287.7 212.2h0M287.2 214.9h0M312.3 198.9h0M315.6 189.9h0M312.8 197.9h0M318.0 189.0h0M313.0 193.8h0M312.2 190.9h0M317.2 194.3h0M318.9 189.2h0M322.1 182.7h0M321.8 186.7h0M306.8 196.5h0M321.0 188.7h0M313.8 192.1h0M307.2 197.5h0M316.0 189.3h0M314.6 194.1h0M314.6 191.7h0M315.9 189.1h0M307.8 196.9h0M312.2 198.4h0M307.0 197.3h0M319.6 189.2h0M311.0 199.4h0M322.0 184.4h0M315.5 193.9h0M315.6 188.4h0M315.0 192.0h0M320.5 188.7h0M321.4 189.4h0M323.7 185.2h0M318.1 190.4h0M319.1 189.7h0M321.2 187.9h0M310.9 180.2h0M318.4 189.3h0M318.5 192.2h0M309.5 200.8h0M326.4 180.8h0M309.9 195.7h0M314.2 197.2h0M310.9 199.0h0M318.4 184.1h0M314.5 194.1h0M322.7 186.8h0M325.6 183.8h0M318.3 189.7h0M310.9 186.8h0M320.2 184.5h0M320.6 187.0h0M312.0 192.8h0M311.5 192.6h0M307.3 197.4h0M313.4 197.5h0M323.2 183.6h0M317.5 187.4h0M326.2 182.8h0M311.5 194.4h0M317.7 191.8h0M314.7 192.7h0M314.3 189.8h0M312.1 191.5h0M315.9 189.3h0M325.0 181.9h0M309.2 196.8h0M317.2 191.8h0M310.7 196.4h0M308.4 194.1h0M316.2 190.4h0M316.1 191.7h0M324.0 186.4h0M309.9 194.5h0M304.9 195.9h0M319.3 187.9h0M308.6 196.4h0M311.0 201.5h0M311.8 191.7h0M316.1 185.5h0M326.4 183.0h0M310.0 195.3h0M311.8 194.1h0M319.2 189.1h0M317.0 190.5h0M314.5 195.6h0M320.0 187.5h0M308.2 197.7h0M311.0 196.9h0M323.4 183.1h0M309.8 196.0h0M313.8 195.0h0M322.0 186.9h0M318.2 189.4h0M306.6 197.6h0M311.4 203.6h0M311.7 196.3h0M310.2 195.7h0M325.1 183.1h0M319.7 188.6h0M325.8 181.6h0M307.2 196.0h0M314.9 193.1h0M311.4 195.3h0M309.5 194.4h0M324.2 185.0h0M312.7 197.1h0M309.1 199.9h0M312.9 192.4h0M317.7 189.0h0M310.9 198.6h0M314.8 194.5h0M320.4 188.7h0M307.9 196.6h0M308.3 199.9h0M311.6 195.8h0M317.2 191.4h0M322.6 214.6h0M316.7 189.7h0M317.1 189.9h0M311.5 193.3h0M308.6 199.1h0M321.4 189.0h0M320.2 189.0h0M313.3 193.2h0M320.6 188.6h0M325.8 181.1h0M309.5 198.0h0M314.6 191.7h0M322.4 186.1h0M312.6 192.8h0M314.0 192.6h0M312.6 194.4h0M318.9 187.3h0M317.7 190.6h0M309.6 196.9h0M317.3 190.9h0M313.7 192.3h0M311.8 190.6h0M311.1 196.4h0M318.9 189.5h0M324.3 187.8h0M319.3 190.3h0M319.2 189.6h0M326.1 183.7h0M326.5 182.6h0M315.9 190.0h0M312.3 191.0h0M319.2 191.4h0M325.0 188.3h0M308.7 198.3h0M326.5 183.2h0M306.0 195.2h0M311.9 193.8h0M310.3 193.8h0M322.2 184.9h0M308.9 193.6h0M322.7 185.6h0M315.3 192.5h0M323.6 185.4h0M307.6 198.4h0M311.3 197.5h0M310.5 194.8h0M319.5 186.4h0M318.8 190.0h0M308.3 196.3h0M311.5 192.4h0M309.9 200.0h0M323.0 183.7h0M309.5 190.2h0M313.1 195.2h0M325.4 180.5h0M317.3 186.9h0M323.9 183.6h0M317.9 189.2h0M320.7 185.2h0M310.3 196.4h0M313.4 195.3h0M315.1 193.4h0M312.0 199.0h0M309.1 199.5h0M313.3 193.6h0M309.9 193.0h0M320.7 187.9h0M314.8 192.2h0M318.1 190.1h0M308.6 195.4h0M325.0 183.8h0M312.1 193.2h0M321.7 184.7h0M310.0 194.9h0M310.2 192.2h0M311.5 192.5h0M320.0 185.5h0M317.0 191.7h0M307.4 197.2h0M316.2 192.3h0M324.0 184.5h0M314.9 190.4h0M316.8 191.7h0M316.6 191.6h0M326.7 184.9h0M323.4 183.4h0M314.9 193.5h0M312.8 197.1h0M325.5 181.4h0M324.6 180.1h0M316.9 188.9h0M315.2 193.0h0M314.1 194.7h0M325.3 185.0h0M315.4 191.1h0M318.7 189.7h0M324.4 182.0h0M318.9 185.5h0M316.1 189.3h0M314.6 192.1h0M315.4 189.8h0M314.8 193.3h0M312.7 191.3h0M314.0 194.2h0M314.6 194.7h0M328.3 184.3h0M314.8 190.3h0M318.0 186.3h0M313.0 195.4h0M324.0 180.2h0M312.2 196.9h0M317.2 188.0h0M308.8 198.2h0M322.9 182.1h0M322.4 183.8h0M312.5 192.9h0M320.0 185.7h0M310.5 195.1h0M319.7 190.4h0M306.7 188.4h0M311.8 197.9h0M307.8 197.8h0M313.2 192.8h0M312.8 194.2h0M312.0 192.6h0M310.6 198.2h0M321.8 186.6h0M325.0 180.0h0M317.4 184.8h0M308.4 195.8h0M313.2 195.6h0M317.4 194.8h0M312.8 194.2h0M309.4 195.8h0M311.4 195.1h0M312.7 196.7h0M321.2 186.3h0M314.9 192.3h0M331.1 177.0h0M333.8 169.5h0M337.4 172.4h0M328.5 180.1h0M328.1 178.6h0M337.2 173.1h0M342.0 167.6h0M337.1 173.4h0M346.7 164.9h0M340.1 171.7h0M334.4 176.6h0M333.0 178.9h0M333.2 178.8h0M346.7 166.0h0M330.4 180.8h0M328.7 177.2h0M328.7 180.0h0M328.4 177.2h0M331.8 180.8h0M333.7 176.6h0M340.5 173.4h0M341.5 169.2h0M330.8 180.1h0M337.7 172.8h0M345.5 163.2h0M346.0 163.8h0M342.9 167.2h0M332.9 180.0h0M344.6 166.2h0M329.6 176.6h0M345.7 165.3h0M332.8 180.0h0M334.4 178.3h0M335.9 175.7h0M328.7 181.7h0M333.6 176.3h0M332.7 177.6h0M327.5 178.1h0M333.2 171.4h0M337.0 174.4h0M333.7 177.7h0M333.4 178.1h0M337.9 173.8h0M338.2 173.4h0M343.2 169.0h0M327.2 180.5h0M329.6 177.7h0M341.8 168.6h0M340.4 172.5h0M329.7 181.6h0M334.6 172.4h0M346.5 164.5h0M334.7 176.7h0M326.8 181.0h0M333.0 168.0h0M331.1 174.0h0M327.7 182.2h0M332.6 179.2h0M345.8 164.8h0M345.6 164.4h0M337.3 172.0h0M331.2 181.9h0M343.2 164.4h0M343.6 168.0h0M327.4 177.8h0M344.4 164.7h0M339.9 175.2h0M340.8 171.8h0M342.2 172.0h0M341.2 169.7h0M327.9 176.9h0M345.1 164.8h0M339.7 168.4h0M342.3 169.0h0M326.2 179.5h0M328.5 176.0h0M344.6 174.6h0M337.3 173.8h0M330.5 183.1h0M343.1 168.5h0M331.7 177.3h0M333.5 176.6h0M329.9 183.0h0M327.2 180.5h0M338.2 169.9h0M327.8 182.2h0M330.2 177.7h0M332.3 173.7h0M329.8 178.1h0M334.5 174.8h0M329.8 180.2h0M347.7 165.2h0M331.4 179.1h0M328.4 181.0h0M344.7 167.2h0M346.5 164.3h0M347.2 165.2h0M333.4 174.9h0M336.3 170.9h0M327.7 182.2h0M335.7 169.8h0M332.1 179.7h0M338.8 171.3h0M336.7 173.4h0M342.0 169.5h0M344.9 164.6h0M339.9 167.3h0M344.3 166.5h0M345.5 164.0h0M339.4 172.3h0M334.4 177.1h0M327.3 180.6h0M337.1 174.1h0M343.9 167.6h0M346.5 167.2h0M329.2 179.1h0M346.9 166.6h0M334.6 173.5h0M330.8 180.5h0M337.1 171.5h0M342.8 169.3h0M338.3 172.0h0M337.9 170.2h0M336.9 176.5h0M330.5 177.6h0M340.7 171.6h0M333.6 175.1h0M330.4 175.8h0M339.6 168.7h0M343.4 164.3h0M335.3 172.8h0M353.6 155.7h0M350.2 166.7h0M351.2 159.0h0M361.2 152.0h0M351.5 158.7h0M351.0 159.3h0M353.2 158.6h0M364.8 149.6h0M363.0 150.9h0M355.2 157.9h0M350.8 161.9h0M364.0 144.6h0M362.1 149.3h0M362.5 150.6h0M345.9 163.1h0M353.8 155.2h0M366.1 144.9h0M346.9 163.2h0M360.3 153.1h0M347.3 163.7h0M354.4 156.9h0M365.8 145.8h0M360.4 152.9h0M347.3 163.2h0M359.6 151.6h0M346.3 158.8h0M361.5 150.6h0M349.5 162.1h0M354.8 156.1h0M346.8 162.8h0M365.2 145.5h0M352.7 157.3h0M355.4 157.2h0M363.5 150.2h0M361.1 152.0h0M352.7 161.2h0M355.2 162.1h0M360.9 150.8h0M360.7 153.4h0M349.9 161.5h0M353.3 156.0h0M359.0 153.6h0M348.8 158.9h0M352.0 160.2h0M356.7 156.4h0M353.4 161.5h0M354.3 160.9h0M364.7 146.7h0M363.7 147.9h0M359.9 151.4h0M360.0 152.3h0M350.1 164.0h0M353.9 157.4h0M349.2 159.6h0M350.6 163.1h0M354.3 157.7h0M356.9 157.0h0M353.6 159.6h0M356.1 157.9h0M360.5 150.1h0M353.7 156.2h0M348.3 161.7h0M349.6 161.4h0M348.9 163.2h0M360.9 154.4h0M358.3 150.0h0M345.6 162.6h0M359.8 154.1h0M366.8 140.3h0M380.6 130.6h0M368.6 141.3h0M382.8 128.9h0M372.4 149.5h0M370.6 136.5h0M372.6 136.5h0M373.1 137.0h0M369.7 141.2h0M368.2 145.3h0M372.9 139.3h0M367.5 143.2h0M380.6 129.0h0M378.7 136.4h0M378.0 134.6h0M372.1 139.1h0M377.0 135.1h0M376.7 136.3h0M370.0 140.6h0M365.8 144.3h0M370.6 140.8h0M372.5 136.2h0M372.1 144.2h0M380.0 131.5h0M380.5 143.1h0M385.6 126.7h0M370.7 141.4h0M379.9 133.6h0M377.6 136.7h0M376.9 136.3h0M372.1 142.2h0M376.3 134.3h0M379.4 132.5h0M390.3 148.7h0M383.9 131.8h0M397.9 113.8h0M396.8 117.2h0M387.6 124.4h0M398.1 114.3h0M385.1 122.9h0M389.0 123.8h0M400.3 109.9h0M402.4 112.0h0M401.0 109.1h0M386.7 122.8h0M390.1 121.5h0M399.4 110.8h0M394.2 116.5h0M388.9 126.4h0M394.5 115.1h0M400.7 110.2h0M394.0 114.4h0M402.7 105.9h0M403.4 111.0h0M416.4 99.9h0M426.7 86.5h0M414.1 99.8h0M418.6 94.3h0M423.1 89.9h0M424.4 91.9h0M406.3 102.4h0M418.8 92.7h0M413.1 99.1h0M422.7 91.0h0M410.8 102.8h0M428.0 89.1h0M409.9 102.5h0M433.0 83.7h0M448.1 71.9h0M430.5 84.9h0M441.1 78.1h0M449.7 67.4h0M441.7 76.9h0M430.7 86.0h0M434.2 80.6h0M436.2 71.0h0M440.6 76.9h0M442.4 77.2h0M453.0 68.6h0M442.6 72.2h0M437.8 83.2h0M464.1 51.5h0M470.9 45.1h0M453.4 54.7h0M465.7 49.3h0M453.7 65.7h0M469.9 48.0h0M467.1 40.4h0M460.3 48.6h0M460.7 46.8h0M447.8 60.9h0M472.6 45.6h0M466.0 50.9h0M463.7 55.5h0M461.0 50.6h0M458.5 58.4h0M472.9 40.5h0M474.5 38.6h0M485.3 35.7h0M478.0 33.1h0M477.8 31.9h0M488.6 31.0h0M489.2 24.5h0M490.6 27.5h0M489.8 25.2h0M489.3 27.8h0M476.5 41.1h0M483.5 28.7h0" stroke="#000" stroke-opacity="0.45" stroke-width="2.2" stroke-linecap="round" fill="none"/><path d="M276.6 223.7h0M274.4 227.9h0M285.2 219.4h0M286.3 218.1h0M276.6 223.7h0M284.0 219.2h0M275.4 227.0h0M286.3 215.0h0M272.1 224.1h0M286.5 219.5h0M284.6 220.3h0M285.7 217.6h0M287.4 216.5h0M286.2 218.1h0M275.9 226.5h0M284.1 221.0h0M283.8 218.4h0M287.4 216.0h0M276.9 225.0h0M281.8 219.6h0M276.5 222.3h0M278.1 221.5h0M282.3 219.1h0M280.4 222.4h0M282.0 219.0h0M272.5 228.5h0M282.8 223.8h0M274.6 225.0h0M281.7 225.6h0M282.8 222.8h0M278.9 221.2h0M280.6 223.9h0M279.1 219.0h0M284.8 218.6h0M280.6 219.9h0M276.3 222.6h0M279.1 220.7h0M274.1 226.7h0M272.7 225.9h0M281.9 216.4h0M277.3 221.4h0M276.9 228.8h0M278.6 226.3h0M282.1 217.6h0M283.4 218.2h0M281.4 226.2h0M284.8 214.1h0M280.3 221.1h0M281.7 216.3h0M289.9 219.5h0M284.4 216.5h0M276.8 227.7h0M272.6 229.6h0M273.6 230.6h0M283.5 221.8h0M282.2 220.2h0M274.8 229.0h0M281.1 222.8h0M284.5 223.3h0M274.4 227.9h0M281.9 220.7h0M272.3 230.1h0M285.9 216.7h0M286.6 215.6h0M276.8 216.7h0M278.6 222.5h0M272.8 223.9h0M285.1 215.2h0M282.3 229.3h0M279.6 221.8h0M280.4 221.2h0M285.0 220.0h0M284.1 223.8h0M271.7 229.1h0M279.1 225.2h0M275.3 226.4h0M278.6 224.8h0M274.2 223.7h0M284.0 221.5h0M284.3 221.6h0M275.9 225.0h0M275.1 226.8h0M285.2 217.2h0M283.7 219.7h0M275.5 226.5h0M280.9 221.0h0M285.4 218.5h0M284.6 217.3h0M288.1 217.3h0M272.4 230.4h0M276.3 229.6h0M285.6 218.3h0M281.9 220.1h0M284.8 217.7h0M271.3 225.0h0M282.6 218.4h0M275.7 229.3h0M284.4 215.8h0M282.0 220.8h0M279.2 224.4h0M273.7 223.4h0M280.3 220.2h0M285.4 216.3h0M273.1 228.5h0M283.1 218.7h0M274.4 224.9h0M278.9 226.6h0M274.7 226.1h0M282.6 219.9h0M280.3 223.9h0M269.3 227.1h0M280.4 235.5h0M278.7 228.5h0M277.4 222.2h0M277.2 230.0h0M275.8 225.0h0M280.5 218.0h0M272.3 224.9h0M272.3 228.5h0M276.8 225.4h0M283.7 214.3h0M278.6 220.8h0M286.7 216.8h0M277.5 223.5h0M272.9 225.8h0M277.4 225.9h0M278.6 222.6h0M275.6 223.4h0M278.4 222.6h0M282.1 222.7h0M276.5 221.1h0M276.6 226.5h0M278.4 223.9h0M286.0 215.8h0M281.5 220.7h0M284.0 215.0h0M284.7 218.0h0M275.8 228.3h0M280.6 221.8h0M274.9 228.5h0M274.7 228.0h0M279.1 222.3h0M279.1 226.5h0M284.1 215.8h0M278.6 223.7h0M282.6 220.2h0M283.9 215.2h0M277.3 221.5h0M282.8 216.8h0M283.8 223.9h0M273.6 231.3h0M281.5 217.9h0M274.7 225.7h0M274.6 226.2h0M282.9 220.8h0M278.0 234.5h0M277.4 224.7h0M286.6 222.5h0M272.1 227.4h0M277.1 227.2h0M282.8 220.7h0M279.4 229.3h0M280.7 222.2h0M273.0 230.8h0M280.8 218.1h0M273.8 228.5h0M277.2 235.0h0M284.3 219.4h0M277.2 226.2h0M275.9 229.4h0M276.5 224.1h0M278.2 224.1h0M275.8 228.8h0M273.5 229.3h0M287.6 217.7h0M274.0 226.2h0M282.7 218.4h0M275.2 229.1h0M281.5 219.0h0M277.8 224.2h0M271.9 225.6h0M285.6 218.1h0M270.8 227.7h0M279.7 228.9h0M278.0 225.2h0M277.6 218.8h0M282.7 217.4h0M277.8 231.7h0M279.8 227.3h0M282.8 221.9h0M274.7 229.2h0M283.6 216.4h0M274.7 230.3h0M271.7 229.3h0M281.8 219.8h0M286.7 216.3h0M280.4 220.2h0M275.8 226.7h0M272.0 224.1h0M286.6 216.8h0M274.7 230.7h0M276.7 218.2h0M280.5 218.6h0M271.8 228.0h0M283.4 215.5h0M273.2 227.6h0M278.8 228.6h0M272.7 226.2h0M279.7 222.4h0M281.1 221.3h0M275.8 222.0h0M277.8 221.8h0M277.0 223.8h0M270.8 228.4h0M287.4 218.0h0M279.7 221.5h0M281.6 219.0h0M274.4 231.3h0M285.6 219.0h0M283.6 219.1h0M273.0 230.4h0M282.0 224.3h0M278.4 225.6h0M286.3 216.9h0M278.4 226.6h0M282.9 219.1h0M280.4 215.9h0M278.8 220.9h0M276.1 227.7h0M270.5 227.5h0M282.7 218.0h0M280.7 219.9h0M284.3 219.9h0M274.6 225.8h0M285.1 221.3h0M284.4 221.6h0M270.1 227.8h0M280.5 224.3h0M276.0 225.9h0M284.6 215.5h0M285.1 218.1h0M273.3 226.9h0M278.2 229.0h0M278.6 222.9h0M285.7 216.7h0M285.1 217.1h0M271.6 227.5h0M282.7 221.1h0M275.2 233.1h0M276.7 228.7h0M282.3 215.7h0M281.8 217.7h0M275.1 224.9h0M272.1 224.8h0M271.4 229.2h0M274.7 231.1h0M280.7 218.1h0M278.8 227.6h0M283.2 214.2h0M281.9 220.8h0M274.2 224.4h0M285.4 221.0h0M289.1 218.7h0M271.7 228.4h0M286.1 215.9h0M285.7 221.5h0M286.4 223.4h0M282.4 219.5h0M277.0 221.4h0M282.6 218.0h0M273.1 229.9h0M282.8 216.0h0M280.0 222.2h0M276.7 224.5h0M277.6 232.2h0M284.6 214.2h0M275.2 226.5h0M283.9 215.6h0M284.5 217.8h0M273.6 225.5h0M280.4 224.8h0M281.6 216.8h0M286.3 217.7h0M287.7 216.3h0M278.6 225.4h0M276.9 225.7h0M281.6 215.3h0M283.7 217.8h0M286.6 218.4h0M284.1 223.6h0M282.4 220.8h0M283.1 216.5h0M283.1 218.2h0M275.5 222.2h0M287.1 219.2h0M281.2 219.0h0M284.0 216.1h0M287.8 216.3h0M279.3 218.9h0M273.7 224.7h0M277.8 227.5h0M281.8 218.4h0M276.5 224.5h0M287.6 219.9h0M275.6 227.2h0M275.6 228.9h0M288.8 223.1h0M282.7 219.6h0M279.0 224.3h0M279.9 224.2h0M283.5 221.6h0M280.5 221.5h0M282.5 221.9h0M278.1 224.5h0M274.6 225.5h0M277.1 224.9h0M275.3 224.9h0M278.9 225.8h0M285.6 215.2h0M276.9 225.4h0M285.5 218.6h0M276.2 231.0h0M276.0 226.0h0M282.7 215.4h0M276.7 225.7h0M283.5 216.8h0M279.2 220.5h0M283.5 219.1h0M279.6 223.0h0M285.3 215.3h0M283.2 214.3h0M276.8 224.3h0M278.0 223.6h0M276.3 227.5h0M283.1 214.9h0M281.6 221.4h0M283.0 215.3h0M279.6 221.8h0M274.4 226.5h0M277.1 222.3h0M272.1 228.5h0M283.8 218.7h0M279.4 223.0h0M275.1 229.9h0M283.9 221.2h0M279.6 218.1h0M272.4 230.0h0M275.9 227.1h0M275.8 226.1h0M283.2 216.9h0M274.9 230.7h0M274.7 222.9h0M284.9 220.0h0M287.0 218.4h0M276.8 223.7h0M276.9 218.7h0M281.7 218.2h0M276.1 223.0h0M287.2 217.2h0M275.6 225.8h0M282.4 223.4h0M282.2 221.7h0M276.1 230.4h0M271.3 228.6h0M272.8 230.0h0M280.3 221.2h0M277.1 223.6h0M272.9 228.8h0M282.8 218.4h0M276.1 227.1h0M275.0 230.6h0M274.4 231.3h0M278.1 224.8h0M278.2 228.8h0M274.2 227.6h0M272.5 229.4h0M273.7 227.4h0M273.3 223.4h0M276.8 224.5h0M283.9 220.7h0M282.9 220.7h0M272.2 224.9h0M278.8 226.8h0M277.7 222.3h0M273.7 228.1h0M274.2 225.7h0M274.1 223.8h0M289.7 219.1h0M284.5 214.6h0M274.1 224.8h0M273.3 224.1h0M284.5 216.7h0M282.1 221.1h0M287.4 219.8h0M274.6 231.4h0M281.1 222.7h0M276.9 230.7h0M279.9 219.9h0M272.1 227.1h0M275.4 230.0h0M273.6 229.7h0M284.9 213.7h0M275.7 232.8h0M288.2 221.1h0M285.3 217.7h0M276.2 229.3h0M282.7 217.3h0M280.7 221.9h0M279.0 227.2h0M279.7 223.9h0M279.4 223.4h0M279.6 223.5h0M276.5 224.2h0M283.2 222.5h0M273.5 227.8h0M273.7 219.1h0M282.6 224.5h0M281.1 220.6h0M285.5 217.0h0M281.9 219.3h0M280.2 220.1h0M282.1 219.7h0M276.7 224.5h0M277.4 230.5h0M285.6 219.2h0M276.3 223.7h0M278.5 229.3h0M278.8 225.8h0M277.2 224.6h0M274.5 230.2h0M282.8 222.5h0M273.2 227.9h0M275.7 223.3h0M277.4 225.1h0M298.9 206.1h0M301.7 201.3h0M300.0 204.2h0M300.2 206.2h0M292.1 209.5h0M307.1 201.6h0M290.6 216.5h0M308.0 199.8h0M299.4 206.0h0M290.3 213.0h0M294.7 199.3h0M288.1 212.9h0M301.6 200.6h0M297.6 208.8h0M298.1 202.8h0M288.4 215.5h0M300.6 208.1h0M292.3 210.2h0M304.5 199.4h0M299.1 204.2h0M291.9 207.6h0M291.9 212.8h0M297.4 203.0h0M292.4 206.3h0M302.5 203.6h0M291.1 212.3h0M291.9 211.6h0M297.7 208.2h0M295.5 211.1h0M296.9 204.5h0M297.2 207.4h0M291.1 211.2h0M294.9 209.7h0M299.6 202.0h0M306.2 199.3h0M288.4 210.0h0M303.6 200.6h0M295.1 208.5h0M305.3 197.9h0M304.9 199.1h0M302.5 204.9h0M303.5 196.5h0M287.6 214.2h0M303.3 203.1h0M290.6 216.9h0M293.6 213.3h0M293.0 207.8h0M296.4 207.5h0M288.6 214.8h0M301.5 206.3h0M298.0 205.9h0M303.9 203.3h0M301.9 204.5h0M303.6 204.5h0M306.5 199.0h0M301.7 198.4h0M301.9 207.9h0M294.5 207.4h0M288.0 213.4h0M294.5 208.2h0M292.9 195.3h0M303.2 205.0h0M295.4 211.8h0M290.2 207.1h0M296.9 205.2h0M295.2 211.6h0M291.1 210.6h0M304.0 199.0h0M306.0 199.4h0M291.4 209.8h0M301.5 204.0h0M305.7 199.2h0M305.4 199.2h0M289.2 213.7h0M293.2 211.2h0M291.5 216.7h0M308.7 201.8h0M289.1 217.6h0M298.0 208.9h0M302.0 202.2h0M293.2 209.7h0M301.2 208.8h0M291.5 212.6h0M289.8 213.8h0M295.5 211.3h0M304.3 198.5h0M290.4 218.5h0M305.2 202.5h0M301.4 199.3h0M301.9 200.3h0M290.2 210.4h0M299.8 209.4h0M297.5 205.8h0M286.9 213.0h0M303.6 197.1h0M298.9 203.6h0M294.9 208.7h0M289.7 212.8h0M289.3 212.7h0M296.5 211.2h0M293.4 205.2h0M302.9 200.1h0M300.3 202.2h0M289.1 215.7h0M294.8 210.4h0M301.5 208.2h0M303.8 201.5h0M294.0 209.8h0M306.2 198.6h0M299.0 204.5h0M286.5 214.7h0M307.4 202.2h0M291.5 210.1h0M289.3 215.7h0M298.0 207.1h0M293.4 208.1h0M298.8 208.2h0M292.7 209.1h0M288.8 212.4h0M293.9 210.9h0M290.2 209.3h0M294.5 220.2h0M289.2 216.5h0M295.6 205.8h0M284.9 202.2h0M286.2 213.8h0M299.4 202.4h0M285.3 211.9h0M295.5 206.8h0M297.4 204.4h0M284.7 210.1h0M295.9 207.4h0M290.4 209.1h0M304.4 197.3h0M301.4 204.8h0M300.8 200.9h0M289.8 208.7h0M302.4 204.4h0M298.5 208.6h0M292.7 219.2h0M288.4 212.3h0M285.4 213.6h0M292.9 210.4h0M292.4 211.0h0M291.1 212.5h0M286.3 213.4h0M294.6 211.7h0M290.0 213.4h0M303.9 198.6h0M302.8 202.8h0M294.6 212.2h0M296.3 207.8h0M296.4 209.6h0M296.1 207.8h0M288.3 210.9h0M290.0 214.8h0M291.7 213.7h0M296.9 206.3h0M288.6 214.4h0M295.3 211.7h0M296.6 207.0h0M301.2 207.9h0M289.8 212.9h0M296.5 207.1h0M289.8 217.4h0M293.8 211.8h0M296.1 209.7h0M299.3 210.4h0M296.2 204.6h0M304.3 200.7h0M296.4 204.3h0M293.8 211.1h0M298.7 208.8h0M287.8 215.7h0M291.8 211.3h0M288.3 213.7h0M299.4 206.9h0M288.0 214.7h0M299.6 205.2h0M300.8 200.9h0M292.0 216.1h0M295.2 209.5h0M302.5 206.5h0M306.3 199.7h0M293.9 210.8h0M304.5 202.7h0M292.9 207.8h0M301.2 201.0h0M303.3 204.0h0M288.4 215.4h0M292.2 205.7h0M305.6 200.5h0M302.4 199.0h0M306.9 201.2h0M291.0 210.0h0M300.0 202.2h0M303.5 201.5h0M298.5 207.7h0M296.8 204.2h0M293.8 210.9h0M288.7 205.3h0M293.7 207.2h0M298.1 216.2h0M295.6 209.2h0M291.7 206.8h0M287.3 212.9h0M294.7 208.5h0M289.6 216.4h0M288.0 215.3h0M305.9 197.7h0M290.7 213.8h0M299.1 204.6h0M287.7 210.9h0M293.1 213.7h0M291.9 212.0h0M301.8 205.5h0M291.0 208.5h0M295.8 207.8h0M291.7 214.1h0M304.0 204.0h0M288.6 210.1h0M285.7 211.8h0M307.8 200.1h0M290.3 214.6h0M300.9 206.0h0M300.9 206.4h0M291.1 213.5h0M294.6 212.9h0M291.7 209.3h0M297.8 208.1h0M303.8 198.7h0M298.1 207.7h0M302.1 201.7h0M292.8 210.7h0M295.5 210.1h0M294.5 205.6h0M299.0 206.4h0M304.0 201.4h0M293.5 209.6h0M292.6 210.3h0M287.0 215.4h0M298.5 205.8h0M295.4 207.0h0M301.3 206.9h0M303.2 201.6h0M304.2 200.0h0M286.7 212.9h0M287.9 207.1h0M290.4 211.9h0M302.1 203.0h0M301.1 202.8h0M295.3 210.6h0M291.6 209.3h0M290.0 213.3h0M288.4 214.3h0M304.1 201.1h0M287.2 211.6h0M289.5 213.6h0M295.0 210.0h0M308.3 200.8h0M292.9 212.7h0M289.2 214.2h0M300.4 201.7h0M287.1 209.7h0M298.9 206.5h0M299.0 206.2h0M302.9 205.0h0M293.3 210.7h0M295.4 210.5h0M307.5 199.8h0M296.4 207.8h0M292.1 215.7h0M300.7 205.2h0M301.2 205.9h0M295.0 209.7h0M306.8 200.8h0M293.3 202.4h0M286.7 213.6h0M295.0 212.3h0M304.6 196.1h0M305.5 203.0h0M293.2 206.5h0M290.1 212.6h0M287.9 213.4h0M292.7 216.1h0M294.4 214.0h0M304.4 199.8h0M292.6 209.3h0M287.3 209.2h0M286.8 215.2h0M295.1 211.4h0M302.2 204.6h0M301.3 202.9h0M297.9 208.2h0M286.0 211.7h0M301.2 208.3h0M295.2 206.5h0M298.2 210.0h0M303.6 204.5h0M305.0 202.1h0M286.5 212.3h0M289.1 215.9h0M300.8 204.6h0M301.8 196.8h0M292.6 206.9h0M299.7 202.1h0M286.0 213.1h0M289.8 212.9h0M306.8 202.6h0M293.3 210.5h0M297.6 204.1h0M299.4 209.2h0M291.8 207.1h0M295.2 207.2h0M306.9 200.5h0M289.0 214.6h0M294.3 210.1h0M298.9 202.8h0M300.9 205.1h0M289.8 218.5h0M303.1 201.3h0M289.0 208.0h0M289.3 217.7h0M306.2 199.3h0M300.2 203.6h0M294.8 209.6h0M288.6 215.7h0M289.6 213.1h0M299.9 202.9h0M296.3 211.0h0M297.9 206.2h0M298.2 210.5h0M291.7 215.0h0M297.6 210.9h0M289.3 218.1h0M293.7 207.4h0M299.7 202.3h0M286.6 212.2h0M289.2 213.6h0M285.1 211.1h0M303.3 205.9h0M302.8 205.1h0M305.1 200.8h0M293.1 210.1h0M289.4 215.4h0M297.0 210.9h0M297.4 206.9h0M296.1 203.7h0M292.8 213.4h0M303.7 200.7h0M294.1 211.7h0M301.2 202.1h0M301.9 204.9h0M289.9 212.0h0M287.4 211.1h0M294.5 210.8h0M302.5 203.6h0M306.8 201.5h0M304.8 199.6h0M304.5 203.2h0M288.0 213.5h0M288.7 215.3h0M303.5 201.1h0M291.7 215.6h0M292.7 212.0h0M299.0 202.2h0M300.0 202.5h0M297.6 205.2h0M302.6 204.7h0M294.0 209.9h0M296.5 208.2h0M285.3 212.0h0M297.3 209.1h0M298.0 203.9h0M301.2 205.3h0M285.0 213.0h0M294.4 210.5h0M290.6 210.6h0M289.4 212.5h0M305.0 203.2h0M290.7 204.8h0M292.6 214.9h0M300.2 202.1h0M301.5 203.5h0M295.2 204.3h0M300.4 203.9h0M293.0 210.2h0M294.3 206.7h0M302.3 203.3h0M288.7 211.8h0M295.4 207.6h0M288.4 215.2h0M298.4 204.0h0M305.9 199.4h0M296.9 209.7h0M292.6 209.0h0M300.8 205.6h0M297.7 207.5h0M296.5 211.5h0M295.8 209.8h0M304.5 196.9h0M287.4 212.0h0M289.3 211.1h0M292.3 209.8h0M296.5 206.2h0M321.0 190.4h0M307.7 194.8h0M310.7 196.1h0M311.2 194.7h0M310.6 195.1h0M319.2 191.9h0M314.4 192.2h0M314.3 191.2h0M316.5 194.0h0M308.5 195.8h0M312.6 195.3h0M307.5 198.7h0M320.8 187.3h0M313.2 193.7h0M314.5 191.9h0M309.2 196.6h0M309.0 196.5h0M311.1 192.9h0M316.2 194.6h0M312.4 192.2h0M307.7 195.1h0M319.7 187.8h0M310.9 194.4h0M315.6 187.6h0M306.6 198.0h0M310.1 191.6h0M322.0 184.5h0M320.5 184.3h0M321.6 181.8h0M323.3 186.4h0M315.1 188.5h0M305.8 194.9h0M315.0 191.6h0M309.9 197.8h0M319.9 188.6h0M314.9 192.6h0M325.1 185.7h0M318.8 191.2h0M315.5 198.6h0M321.9 186.6h0M322.9 183.9h0M311.0 193.6h0M320.9 186.8h0M321.2 189.9h0M317.0 187.0h0M311.3 198.2h0M322.9 183.4h0M314.5 189.7h0M319.0 187.8h0M308.9 195.4h0M317.0 189.4h0M319.7 187.8h0M315.9 191.5h0M323.3 186.6h0M326.6 182.6h0M318.6 190.3h0M317.9 191.5h0M314.9 194.7h0M307.9 199.4h0M325.1 182.8h0M307.5 197.2h0M316.4 186.3h0M308.7 193.2h0M314.4 193.8h0M308.9 197.0h0M320.9 187.9h0M311.2 199.7h0M324.2 185.1h0M317.6 192.3h0M318.5 188.9h0M316.8 189.6h0M323.5 184.3h0M315.6 192.6h0M308.5 198.4h0M310.5 196.8h0M315.8 190.7h0M307.8 197.0h0M314.6 192.7h0M313.0 193.7h0M325.2 181.6h0M317.6 192.5h0M309.3 194.9h0M327.1 182.9h0M315.2 193.3h0M315.6 191.3h0M314.8 194.0h0M318.8 188.4h0M323.8 185.5h0M318.6 188.9h0M315.5 192.7h0M308.4 197.6h0M309.7 198.3h0M318.8 186.9h0M309.0 198.5h0M313.6 193.4h0M314.1 203.6h0M307.4 197.2h0M315.6 192.2h0M316.6 189.8h0M310.1 196.4h0M320.1 184.5h0M318.5 187.1h0M312.6 198.6h0M317.7 189.5h0M316.0 194.4h0M317.2 194.1h0M318.1 188.3h0M307.4 198.5h0M321.7 186.1h0M320.2 189.6h0M318.4 185.9h0M321.4 185.2h0M318.3 191.0h0M321.4 185.8h0M310.2 197.7h0M311.5 193.5h0M321.0 185.9h0M320.0 188.8h0M313.3 194.5h0M313.7 199.7h0M317.8 190.2h0M320.5 187.0h0M311.0 194.2h0M309.9 193.2h0M305.2 195.3h0M323.8 182.9h0M318.7 186.1h0M323.6 185.0h0M314.5 189.1h0M315.9 190.7h0M326.1 182.4h0M314.7 192.5h0M316.5 188.4h0M315.6 190.3h0M312.4 195.8h0M314.9 193.3h0M316.1 187.3h0M324.2 188.7h0M316.2 191.4h0M319.3 189.3h0M318.3 190.2h0M305.5 196.4h0M311.5 194.1h0M309.4 197.4h0M308.3 195.8h0M319.9 185.5h0M309.9 198.4h0M326.2 183.9h0M317.0 189.4h0M321.8 187.1h0M315.1 192.4h0M314.8 193.0h0M321.8 185.4h0M318.1 188.4h0M325.2 186.6h0M322.5 185.6h0M307.7 198.9h0M311.8 193.6h0M307.5 196.3h0M309.7 198.3h0M308.7 197.5h0M326.8 181.8h0M323.7 184.8h0M318.6 191.1h0M320.0 190.1h0M309.4 199.1h0M317.4 192.9h0M307.3 197.3h0M313.2 192.2h0M322.9 188.1h0M310.6 192.8h0M320.9 190.8h0M315.8 190.2h0M315.5 190.1h0M315.7 191.2h0M322.3 186.0h0M309.9 201.7h0M322.3 181.8h0M318.9 190.8h0M310.2 199.7h0M317.2 191.3h0M325.2 182.2h0M314.9 187.2h0M315.3 191.7h0M316.8 190.3h0M317.1 188.3h0M314.1 193.1h0M323.0 185.8h0M310.2 193.7h0M313.2 189.7h0M308.3 197.8h0M309.0 198.4h0M323.1 190.6h0M316.6 190.1h0M322.1 186.3h0M317.7 189.0h0M314.0 189.9h0M325.0 187.0h0M320.2 187.1h0M319.3 186.1h0M309.0 198.4h0M319.6 186.4h0M321.1 185.4h0M314.0 193.0h0M307.5 197.8h0M325.3 183.3h0M322.6 184.5h0M314.1 194.6h0M314.3 189.2h0M311.5 191.4h0M313.8 191.4h0M317.7 190.9h0M307.2 197.0h0M310.9 195.9h0M316.2 188.7h0M316.2 189.1h0M316.2 193.6h0M326.6 185.5h0M310.8 196.5h0M315.8 189.8h0M319.8 188.0h0M323.2 183.9h0M307.4 197.0h0M312.9 194.6h0M308.9 195.9h0M318.0 189.7h0M324.3 185.8h0M308.4 195.7h0M313.1 195.0h0M322.7 185.2h0M319.8 189.9h0M314.1 194.7h0M306.2 195.7h0M313.9 192.2h0M319.2 189.4h0M308.9 195.9h0M310.7 190.8h0M313.4 190.7h0M316.0 188.0h0M316.7 191.7h0M315.0 189.2h0M312.4 197.1h0M326.0 184.8h0M307.4 187.7h0M318.5 192.9h0M309.1 199.8h0M313.1 196.9h0M312.5 193.2h0M310.6 196.0h0M316.7 187.3h0M318.8 187.0h0M342.3 170.1h0M336.3 172.3h0M331.8 178.7h0M334.2 178.6h0M332.4 179.1h0M332.4 174.8h0M339.8 172.1h0M326.5 178.8h0M342.3 169.1h0M332.0 176.8h0M330.2 176.1h0M332.2 179.3h0M334.3 177.0h0M328.0 180.6h0M329.2 181.6h0M328.3 178.6h0M327.3 180.9h0M340.6 169.9h0M341.2 171.7h0M331.9 176.8h0M329.2 180.6h0M341.9 167.5h0M335.5 173.9h0M333.2 176.3h0M336.4 173.0h0M343.1 168.8h0M340.8 170.0h0M338.8 173.7h0M339.8 172.2h0M341.7 170.9h0M328.5 169.5h0M328.5 177.5h0M339.4 169.2h0M348.0 165.5h0M335.7 171.6h0M338.8 171.0h0M337.0 175.1h0M329.9 179.3h0M327.3 181.7h0M334.5 175.0h0M327.1 177.8h0M332.5 175.6h0M328.3 181.2h0M346.8 164.9h0M329.8 178.4h0M341.6 167.1h0M344.7 167.2h0M337.9 174.5h0M338.7 169.4h0M338.2 172.3h0M335.8 172.5h0M338.8 168.6h0M333.3 174.8h0M345.9 164.9h0M341.3 169.3h0M329.6 176.2h0M340.8 171.6h0M330.2 179.8h0M339.6 169.0h0M331.9 180.0h0M332.1 178.1h0M334.8 177.5h0M346.0 167.2h0M328.3 181.6h0M339.2 170.4h0M339.2 169.5h0M336.7 175.0h0M329.1 182.8h0M329.0 183.6h0M332.8 178.2h0M342.3 169.7h0M333.0 171.7h0M333.3 177.6h0M335.4 174.5h0M327.8 181.6h0M334.8 177.5h0M327.2 181.2h0M332.2 176.3h0M342.5 169.8h0M331.0 179.1h0M340.1 173.1h0M329.4 179.2h0M336.5 172.0h0M329.5 180.9h0M336.9 170.3h0M338.8 172.5h0M345.1 166.9h0M331.7 178.0h0M337.1 172.6h0M339.8 170.6h0M337.3 174.8h0M344.3 166.7h0M332.4 179.7h0M345.2 168.1h0M331.7 177.4h0M332.2 172.1h0M330.7 178.6h0M334.9 176.3h0M336.6 176.2h0M335.6 173.3h0M329.6 177.8h0M342.9 170.6h0M337.3 173.1h0M345.5 168.8h0M328.3 180.9h0M334.8 174.3h0M325.8 178.9h0M328.3 180.7h0M346.4 164.2h0M337.2 174.3h0M336.5 172.3h0M336.3 172.5h0M329.3 178.2h0M343.4 168.6h0M338.8 168.9h0M329.3 178.4h0M332.0 177.1h0M328.9 180.6h0M339.0 172.8h0M333.3 173.7h0M334.5 173.6h0M337.4 171.7h0M345.3 166.4h0M329.9 176.1h0M335.3 175.9h0M326.8 180.1h0M332.1 174.1h0M334.6 174.2h0M328.9 181.4h0M338.9 168.7h0M345.6 164.5h0M338.9 167.6h0M357.9 156.8h0M365.1 148.7h0M364.1 150.2h0M355.1 158.9h0M359.1 153.4h0M358.6 153.6h0M364.3 147.5h0M369.0 148.1h0M358.1 155.2h0M358.0 154.4h0M365.5 145.7h0M366.2 146.8h0M353.9 157.0h0M364.7 148.4h0M353.9 150.6h0M358.0 153.4h0M347.9 162.7h0M353.5 158.8h0M358.4 154.9h0M354.4 156.7h0M355.2 157.2h0M355.2 157.4h0M352.7 159.7h0M360.5 150.5h0M350.5 160.0h0M362.4 151.3h0M359.7 152.3h0M360.9 151.8h0M355.0 155.7h0M362.3 150.3h0M350.5 161.9h0M352.8 161.2h0M354.1 160.1h0M360.1 152.9h0M352.2 158.0h0M360.8 148.3h0M364.5 145.4h0M365.2 147.5h0M354.3 156.6h0M360.8 149.3h0M350.3 159.9h0M361.6 148.5h0M351.5 163.0h0M352.2 160.3h0M359.6 153.5h0M354.7 162.5h0M359.2 153.8h0M357.2 155.0h0M349.6 158.1h0M363.7 146.8h0M356.8 157.6h0M360.8 149.3h0M358.5 153.3h0M364.4 148.8h0M350.0 162.2h0M361.7 150.9h0M350.5 159.9h0M361.4 151.2h0M354.3 162.0h0M349.9 162.1h0M348.2 163.9h0M354.3 161.7h0M351.2 161.5h0M348.0 161.1h0M355.8 158.2h0M349.0 165.8h0M350.3 158.2h0M347.8 165.0h0M371.0 143.5h0M383.9 123.3h0M377.9 133.6h0M381.6 129.2h0M381.1 129.7h0M383.7 129.0h0M376.3 133.5h0M367.9 146.1h0M379.0 135.5h0M366.6 144.6h0M370.7 140.7h0M372.3 139.3h0M370.0 142.0h0M367.3 145.8h0M377.5 135.9h0M379.3 134.8h0M385.9 127.7h0M386.1 124.8h0M379.9 132.4h0M380.4 131.3h0M376.3 136.4h0M369.2 143.9h0M367.7 140.9h0M367.1 144.1h0M371.2 140.2h0M372.9 138.1h0M381.8 128.2h0M385.8 126.3h0M383.5 128.5h0M388.1 129.0h0M375.2 139.0h0M367.3 141.0h0M378.1 138.5h0M387.1 125.3h0M368.5 145.9h0M397.8 110.1h0M387.1 123.4h0M398.5 112.0h0M398.3 112.7h0M397.4 112.6h0M386.3 121.5h0M390.3 123.1h0M393.3 116.5h0M399.4 111.5h0M401.0 111.3h0M392.5 116.2h0M401.0 114.8h0M402.7 110.1h0M388.2 120.3h0M392.2 124.8h0M393.4 123.4h0M398.4 115.6h0M385.7 123.6h0M399.0 108.9h0M415.4 94.5h0M416.0 97.3h0M407.4 102.5h0M419.4 89.0h0M425.6 84.7h0M407.9 97.2h0M413.0 97.4h0M423.3 90.3h0M424.2 90.8h0M413.7 103.4h0M424.5 91.6h0M415.0 97.5h0M413.1 101.2h0M443.3 70.0h0M442.3 75.1h0M433.2 78.1h0M450.2 68.5h0M446.9 69.0h0M438.0 79.2h0M444.5 73.8h0M447.6 65.4h0M441.7 81.0h0M432.2 82.1h0M438.4 77.5h0M432.8 82.5h0M433.6 80.7h0M432.5 82.4h0M458.2 57.0h0M467.1 59.0h0M459.1 55.1h0M469.0 46.0h0M459.6 47.7h0M465.1 46.5h0M465.4 56.5h0M463.8 51.0h0M463.3 59.1h0M459.1 57.8h0M453.9 61.1h0M460.0 51.9h0M461.5 46.8h0M454.8 62.0h0M471.6 41.1h0M473.8 38.5h0M470.3 38.6h0M477.0 31.3h0M488.2 29.3h0M491.8 23.6h0M480.0 31.2h0M479.6 34.7h0M485.3 33.2h0M476.2 43.4h0M469.3 40.0h0M489.1 25.7h0M491.6 24.0h0" stroke="#000" stroke-opacity="0.45" stroke-width="2.2" stroke-linecap="round" fill="none"/><path d="M274.0 225.9h0M272.8 228.9h0M280.9 225.8h0M279.3 220.5h0M275.6 222.8h0M278.0 223.8h0M275.3 228.6h0M273.3 229.6h0M286.4 218.4h0M278.7 225.8h0M284.2 216.8h0M272.4 228.1h0M280.8 222.3h0M284.4 216.9h0M278.9 224.6h0M277.6 221.2h0M277.2 227.1h0M276.1 224.3h0M285.3 220.6h0M285.4 222.2h0M282.0 220.3h0M284.6 217.5h0M278.8 223.9h0M275.4 225.1h0M273.8 226.5h0M285.8 215.5h0M283.2 223.8h0M288.2 216.8h0M273.0 229.3h0M283.5 218.4h0M271.0 228.7h0M272.7 225.9h0M279.3 224.1h0M282.8 220.0h0M290.8 219.4h0M271.3 227.4h0M285.0 222.6h0M273.6 226.0h0M285.9 216.5h0M275.8 213.1h0M288.4 222.1h0M285.2 217.4h0M273.4 229.9h0M280.7 221.8h0M278.2 225.6h0M280.7 224.4h0M275.0 227.8h0M281.0 223.7h0M276.9 222.0h0M276.7 227.4h0M280.0 222.7h0M286.2 216.7h0M277.8 221.3h0M283.6 218.2h0M285.5 216.8h0M270.6 224.8h0M286.4 218.8h0M282.7 216.7h0M275.1 225.7h0M275.0 226.8h0M282.2 217.8h0M275.7 228.0h0M285.3 216.3h0M278.6 222.9h0M281.0 225.2h0M279.4 224.6h0M278.9 225.4h0M274.9 228.1h0M275.6 224.7h0M273.6 228.1h0M278.6 223.3h0M275.6 226.9h0M277.5 220.8h0M275.0 231.7h0M273.4 230.9h0M282.0 222.1h0M273.4 228.0h0M276.4 227.4h0M278.9 225.1h0M278.6 225.6h0M283.1 216.7h0M284.4 215.5h0M276.6 229.5h0M271.7 229.2h0M277.2 223.5h0M281.7 224.5h0M275.5 223.9h0M281.9 216.4h0M282.4 218.6h0M280.9 218.8h0M278.3 221.4h0M284.5 216.0h0M274.1 231.6h0M278.1 220.5h0M287.5 218.9h0M287.5 216.2h0M277.1 226.3h0M274.0 225.4h0M276.8 225.8h0M282.8 219.5h0M287.4 216.8h0M279.7 224.2h0M283.7 216.0h0M283.1 217.9h0M282.7 221.6h0M277.1 226.8h0M286.4 225.3h0M280.1 224.6h0M272.1 225.4h0M282.6 224.9h0M279.3 223.8h0M276.1 223.7h0M281.5 221.3h0M276.6 222.3h0M274.9 224.6h0M275.1 230.1h0M276.8 221.4h0M275.2 225.3h0M279.2 219.7h0M285.5 217.6h0M282.1 218.6h0M272.3 229.9h0M272.0 227.2h0M277.4 229.0h0M277.9 226.6h0M281.1 217.9h0M269.9 227.0h0M285.7 220.0h0M280.4 222.8h0M278.6 221.0h0M282.6 222.1h0M274.6 230.9h0M277.7 223.6h0M284.3 213.6h0M281.0 219.4h0M275.5 232.0h0M277.2 219.1h0M277.0 228.2h0M280.7 222.8h0M282.5 222.0h0M283.3 221.5h0M284.2 214.0h0M279.3 224.2h0M285.9 219.1h0M283.0 220.4h0M270.6 228.4h0M286.5 218.7h0M284.6 219.8h0M274.0 225.1h0M281.3 217.3h0M284.7 219.7h0M272.2 229.3h0M276.9 229.5h0M285.7 220.1h0M275.0 225.8h0M271.8 229.5h0M277.6 225.8h0M281.9 220.6h0M274.5 226.2h0M276.5 223.8h0M285.5 222.0h0M278.8 224.1h0M286.6 220.4h0M281.6 219.3h0M286.0 221.4h0M277.9 223.6h0M283.4 222.7h0M282.4 219.0h0M283.5 215.1h0M281.9 221.3h0M279.6 218.6h0M273.1 226.0h0M285.0 213.9h0M278.2 223.4h0M283.7 216.5h0M267.9 220.5h0M282.1 220.3h0M276.8 226.0h0M280.8 218.4h0M274.8 230.4h0M277.2 221.2h0M279.3 226.6h0M288.1 217.7h0M282.8 222.5h0M276.5 229.5h0M284.0 226.4h0M280.3 220.5h0M284.9 220.5h0M286.6 218.0h0M284.9 219.7h0M286.8 215.9h0M287.7 218.1h0M283.5 220.3h0M272.1 229.0h0M284.4 217.6h0M279.9 220.8h0M277.7 224.0h0M279.5 222.5h0M276.0 229.0h0M272.2 227.8h0M272.8 228.8h0M279.4 219.1h0M269.6 225.3h0M281.0 223.2h0M279.0 228.3h0M276.6 221.3h0M280.9 219.5h0M279.7 230.2h0M273.9 224.8h0M280.9 222.6h0M282.5 220.2h0M278.1 228.4h0M276.8 222.1h0M286.2 217.7h0M271.7 229.1h0M272.8 227.9h0M281.2 224.0h0M276.8 228.4h0M280.7 217.5h0M281.2 221.6h0M277.9 226.5h0M275.3 225.1h0M279.6 222.6h0M276.0 225.4h0M279.0 227.3h0M287.7 216.8h0M273.1 231.1h0M282.0 216.6h0M279.3 222.9h0M273.4 226.7h0M279.7 223.1h0M276.7 234.7h0M274.1 230.1h0M275.7 224.7h0M286.5 216.6h0M276.9 226.9h0M283.5 220.1h0M276.3 221.3h0M283.8 218.4h0M278.2 225.7h0M276.7 223.2h0M273.1 225.2h0M280.1 216.7h0M275.8 225.6h0M271.4 229.1h0M274.7 229.8h0M282.0 220.1h0M284.9 218.2h0M283.4 222.8h0M272.4 224.9h0M270.3 227.8h0M287.3 220.6h0M275.8 232.5h0M277.1 229.0h0M272.9 229.4h0M280.5 215.9h0M280.6 219.3h0M274.5 223.2h0M277.5 225.0h0M281.6 223.5h0M282.0 218.1h0M284.9 216.2h0M275.0 230.2h0M272.2 225.9h0M277.6 222.9h0M284.1 223.1h0M274.7 231.2h0M285.2 213.7h0M278.0 222.6h0M282.3 217.4h0M271.7 228.4h0M271.1 228.2h0M272.7 228.9h0M282.7 219.3h0M278.4 222.5h0M275.4 227.7h0M286.1 217.1h0M283.7 213.6h0M281.1 223.4h0M275.2 229.5h0M280.3 226.2h0M278.6 226.0h0M282.3 222.0h0M277.9 221.9h0M276.1 228.3h0M286.1 218.5h0M272.7 227.5h0M272.3 229.4h0M283.4 218.3h0M282.5 223.7h0M277.6 224.2h0M281.8 224.1h0M288.7 218.7h0M273.5 231.6h0M285.4 216.3h0M280.8 224.3h0M280.1 223.5h0M285.1 234.6h0M278.4 219.7h0M276.8 230.5h0M280.9 225.6h0M287.6 220.6h0M278.6 221.0h0M283.7 217.3h0M281.7 222.0h0M285.0 222.5h0M279.2 218.0h0M273.9 224.9h0M274.7 229.7h0M282.7 220.8h0M287.4 217.3h0M284.8 219.3h0M276.1 219.7h0M274.8 232.1h0M272.5 220.4h0M281.8 221.0h0M275.6 225.7h0M286.7 215.8h0M277.7 227.1h0M281.5 219.5h0M276.4 221.5h0M272.3 228.5h0M272.4 229.8h0M284.3 218.7h0M285.8 218.1h0M281.5 221.7h0M289.4 219.3h0M286.4 221.6h0M286.7 216.3h0M274.3 230.3h0M274.1 224.1h0M277.9 217.8h0M286.0 217.5h0M274.0 230.0h0M283.4 216.8h0M280.4 222.7h0M271.7 227.7h0M285.2 218.9h0M277.9 221.8h0M282.9 222.7h0M286.5 216.3h0M278.7 224.9h0M279.4 225.7h0M283.2 222.1h0M279.9 216.7h0M277.7 221.8h0M286.9 216.5h0M284.3 219.1h0M284.5 219.6h0M281.0 220.1h0M282.8 216.2h0M284.5 223.2h0M284.8 215.5h0M282.5 216.7h0M277.2 226.4h0M286.0 216.3h0M279.1 223.0h0M284.6 215.8h0M280.7 220.6h0M279.1 220.6h0M281.4 218.7h0M276.2 226.7h0M281.1 220.2h0M282.7 222.5h0M274.7 226.1h0M284.9 216.1h0M274.9 225.0h0M278.5 226.0h0M279.6 218.2h0M278.0 226.7h0M275.1 229.6h0M275.6 226.8h0M273.1 225.2h0M280.3 219.7h0M279.3 221.2h0M279.3 224.8h0M280.7 218.8h0M281.0 222.7h0M282.0 222.0h0M274.1 227.8h0M282.3 223.0h0M272.1 229.9h0M273.7 224.8h0M274.8 222.9h0M273.5 229.3h0M287.4 218.4h0M286.0 214.6h0M278.2 221.4h0M287.2 218.1h0M278.1 228.2h0M279.0 221.2h0M283.6 218.1h0M280.4 222.7h0M285.9 215.9h0M272.5 228.6h0M275.8 222.8h0M279.4 221.1h0M284.3 215.8h0M279.2 229.0h0M282.1 217.6h0M278.7 220.1h0M271.2 227.3h0M275.0 223.8h0M283.1 217.3h0M276.3 228.0h0M273.2 229.0h0M273.1 228.6h0M273.8 231.5h0M284.1 219.8h0M274.6 226.9h0M274.4 224.2h0M272.1 226.7h0M277.9 224.7h0M273.8 227.5h0M282.7 220.8h0M280.7 225.4h0M274.5 229.3h0M270.6 228.1h0M273.8 225.2h0M282.6 220.8h0M282.5 224.9h0M276.5 223.9h0M283.9 218.5h0M276.8 222.1h0M286.9 217.9h0M281.5 222.5h0M285.9 215.0h0M281.2 225.5h0M272.1 228.9h0M288.9 218.8h0M284.6 218.7h0M273.3 229.3h0M278.9 224.9h0M273.4 226.0h0M295.1 212.8h0M300.8 203.1h0M302.9 204.9h0M294.7 212.4h0M300.7 202.0h0M299.8 205.0h0M292.8 209.3h0M292.1 215.1h0M297.8 210.1h0M290.3 213.8h0M298.0 207.0h0M290.0 208.9h0M289.2 213.0h0M305.1 205.2h0M295.3 210.3h0M293.7 215.4h0M288.7 212.4h0M293.9 208.3h0M306.6 202.0h0M288.9 211.0h0M286.9 214.8h0M302.2 203.4h0M300.8 201.6h0M288.5 215.1h0M290.3 212.4h0M305.0 203.1h0M305.9 199.0h0M304.1 201.9h0M302.7 201.1h0M292.2 211.5h0M295.8 206.6h0M305.3 199.7h0M287.4 213.4h0M291.0 217.1h0M293.9 208.9h0M291.5 212.6h0M292.7 214.1h0M294.0 208.0h0M304.4 199.4h0M300.7 199.1h0M298.2 209.5h0M303.7 198.5h0M291.8 210.4h0M291.8 207.1h0M289.3 217.7h0M291.7 209.2h0M292.8 207.7h0M295.0 210.1h0M291.7 213.4h0M290.0 212.6h0M290.7 210.8h0M298.2 200.5h0M304.8 200.7h0M303.1 208.6h0M305.2 197.4h0M303.6 199.6h0M289.9 213.1h0M307.4 200.9h0M287.3 213.1h0M289.0 213.3h0M293.7 212.9h0M292.8 206.1h0M289.3 212.8h0M306.5 200.5h0M295.6 213.3h0M305.9 199.7h0M304.5 199.0h0M303.3 198.2h0M294.1 212.0h0M305.2 217.2h0M302.6 202.7h0M290.3 212.1h0M290.7 210.5h0M305.5 200.5h0M290.5 210.3h0M299.6 203.7h0M293.9 207.9h0M305.0 202.1h0M292.5 211.0h0M301.7 200.9h0M297.0 204.2h0M293.3 216.5h0M290.7 210.0h0M293.7 209.9h0M302.9 203.3h0M293.8 205.0h0M291.7 209.5h0M305.6 202.5h0M288.6 214.0h0M304.7 198.3h0M287.5 215.9h0M289.1 213.9h0M291.6 220.1h0M286.6 213.7h0M301.7 206.0h0M291.9 215.7h0M295.9 208.4h0M288.6 212.7h0M295.8 206.2h0M306.1 199.6h0M289.4 212.0h0M294.2 210.5h0M286.8 212.1h0M302.2 202.6h0M294.9 209.6h0M302.6 203.0h0M298.7 204.9h0M286.4 214.6h0M297.7 212.9h0M301.1 208.3h0M303.2 204.2h0M294.5 209.4h0M294.8 210.4h0M303.2 203.1h0M300.9 204.8h0M291.9 213.4h0M291.2 212.7h0M294.6 212.8h0M297.3 203.2h0M294.1 209.0h0M295.0 210.8h0M299.8 208.1h0M299.7 205.0h0M291.1 210.1h0M306.2 198.1h0M294.0 208.6h0M296.8 207.8h0M288.9 210.4h0M286.5 209.6h0M306.0 200.6h0M298.5 204.1h0M295.3 209.5h0M285.4 212.7h0M301.5 201.5h0M292.1 208.3h0M305.2 198.8h0M298.8 204.4h0M307.1 199.7h0M298.5 206.4h0M294.0 211.8h0M298.5 205.3h0M298.3 204.3h0M299.5 210.1h0M288.7 216.0h0M292.2 211.2h0M304.4 197.8h0M298.9 208.5h0M301.1 207.0h0M302.9 201.4h0M292.8 210.3h0M305.3 197.1h0M307.2 201.3h0M296.7 208.0h0M292.6 213.3h0M289.2 213.3h0M289.9 215.8h0M289.5 212.1h0M307.2 202.1h0M301.2 203.7h0M304.9 198.4h0M304.4 212.9h0M293.3 208.5h0M302.3 199.3h0M286.6 213.5h0M296.4 211.1h0M297.6 207.6h0M302.0 206.0h0M291.8 212.2h0M299.3 207.2h0M291.6 213.2h0M300.3 205.7h0M294.7 213.2h0M304.7 201.6h0M288.6 215.3h0M289.9 215.1h0M290.7 211.3h0M293.1 209.2h0M302.1 200.7h0M290.0 208.8h0M305.3 204.3h0M297.7 209.3h0M298.7 202.1h0M299.6 202.1h0M291.7 211.9h0M304.4 198.7h0M293.1 212.1h0M288.4 212.6h0M293.5 207.1h0M300.2 199.2h0M302.8 201.6h0M301.1 206.1h0M295.2 207.3h0M294.3 209.6h0M297.1 203.3h0M303.8 199.4h0M302.5 200.4h0M300.4 201.3h0M299.5 206.5h0M300.2 204.1h0M288.7 214.8h0M306.2 201.5h0M294.9 207.7h0M287.7 216.0h0M295.3 204.3h0M297.4 206.6h0M294.7 209.0h0M287.3 215.5h0M291.0 212.2h0M287.7 215.1h0M304.9 199.5h0M297.0 210.7h0M305.4 197.0h0M301.7 204.4h0M306.8 198.4h0M299.8 206.8h0M300.5 207.4h0M294.2 210.9h0M293.0 212.3h0M304.3 206.2h0M303.2 200.6h0M303.9 202.4h0M307.4 201.2h0M291.4 215.8h0M297.3 206.4h0M296.4 204.6h0M302.7 204.8h0M299.6 205.7h0M305.4 199.7h0M289.2 217.8h0M287.9 215.9h0M301.9 203.7h0M300.3 206.1h0M288.1 214.5h0M304.2 196.1h0M301.4 200.6h0M296.3 206.0h0M297.9 203.2h0M295.5 205.3h0M294.7 211.2h0M299.7 204.3h0M296.5 213.5h0M294.4 211.8h0M292.3 206.0h0M293.4 208.1h0M306.0 198.4h0M295.0 207.3h0M302.3 203.4h0M289.3 214.1h0M296.3 206.0h0M297.7 206.1h0M304.5 202.4h0M296.4 211.2h0M295.7 204.5h0M291.0 211.5h0M287.6 215.5h0M304.9 200.2h0M292.9 208.6h0M306.5 201.4h0M290.6 211.1h0M287.5 215.2h0M299.7 204.0h0M299.9 210.8h0M297.5 205.5h0M290.0 217.3h0M300.8 208.6h0M290.5 206.7h0M294.1 207.5h0M297.7 207.0h0M294.3 210.2h0M304.6 197.9h0M300.4 203.1h0M303.7 199.9h0M295.8 208.9h0M289.9 213.4h0M293.9 207.9h0M288.4 216.6h0M290.4 212.6h0M302.6 201.8h0M291.2 210.4h0M298.1 204.0h0M301.7 207.0h0M307.2 201.0h0M294.8 218.5h0M296.2 207.1h0M288.7 216.0h0M288.1 208.2h0M287.0 213.4h0M303.9 198.1h0M293.2 209.7h0M299.0 205.1h0M293.7 208.7h0M303.2 198.1h0M295.6 208.1h0M302.5 203.2h0M298.7 206.2h0M296.2 209.1h0M284.3 210.7h0M284.2 210.6h0M302.8 201.3h0M305.4 197.1h0M292.9 214.0h0M294.2 212.2h0M292.9 208.0h0M292.0 212.6h0M306.5 202.0h0M302.1 203.6h0M287.6 213.1h0M298.9 206.6h0M301.3 204.8h0M291.5 209.4h0M297.5 211.2h0M303.4 199.6h0M292.0 209.1h0M300.4 205.3h0M292.6 209.2h0M293.8 204.8h0M298.4 203.5h0M287.7 214.9h0M290.8 215.8h0M293.5 210.0h0M302.6 206.6h0M302.6 198.4h0M299.6 205.5h0M288.5 212.8h0M284.8 212.3h0M299.3 204.0h0M292.2 211.9h0M296.3 211.9h0M302.7 206.6h0M294.5 208.7h0M307.4 199.8h0M295.2 201.6h0M298.8 203.8h0M295.9 209.6h0M290.1 212.5h0M293.7 210.2h0M293.8 208.5h0M293.3 208.3h0M296.1 209.9h0M304.5 201.8h0M293.7 210.2h0M293.3 208.1h0M296.3 212.7h0M303.8 202.6h0M286.2 212.6h0M297.1 206.2h0M292.2 208.7h0M290.4 213.4h0M290.6 212.2h0M293.0 212.1h0M293.7 209.4h0M306.7 201.1h0M294.9 210.9h0M291.6 208.8h0M296.1 203.6h0M294.7 207.3h0M302.5 201.7h0M304.4 202.7h0M294.3 209.5h0M285.7 213.5h0M291.3 211.5h0M302.8 199.2h0M297.8 206.3h0M301.2 201.5h0M298.7 206.0h0M291.2 213.6h0M296.2 208.3h0M292.5 208.3h0M289.8 216.6h0M295.7 210.2h0M287.5 210.9h0M303.7 201.9h0M296.3 209.0h0M285.9 214.1h0M303.5 212.2h0M302.2 202.7h0M285.5 211.6h0M295.9 210.3h0M289.7 210.7h0M296.4 205.6h0M303.2 203.7h0M304.4 201.0h0M295.5 212.2h0M302.8 202.2h0M303.6 200.4h0M303.6 201.3h0M305.5 200.0h0M294.9 210.6h0M290.3 215.3h0M291.0 213.8h0M303.8 203.1h0M290.3 212.4h0M290.0 214.6h0M297.5 205.1h0M305.0 198.1h0M296.2 204.4h0M284.3 204.4h0M306.1 201.0h0M302.5 210.7h0M304.7 201.5h0M294.9 212.7h0M300.5 205.8h0M296.1 210.8h0M287.9 214.7h0M293.4 212.2h0M311.8 193.4h0M311.9 194.0h0M319.6 188.6h0M325.5 186.2h0M311.3 197.9h0M310.6 190.4h0M311.1 195.0h0M316.1 194.6h0M315.1 190.7h0M315.9 194.4h0M315.8 191.0h0M308.9 200.7h0M319.7 188.7h0M319.9 186.2h0M316.1 191.9h0M309.7 192.7h0M314.5 193.7h0M311.7 189.0h0M313.7 192.8h0M318.8 188.4h0M309.9 201.6h0M314.7 192.4h0M325.9 182.9h0M318.2 191.0h0M318.5 188.1h0M320.2 184.3h0M318.6 193.1h0M310.4 199.3h0M318.3 188.8h0M318.9 188.1h0M308.2 196.0h0M326.7 184.0h0M306.4 196.4h0M309.9 197.5h0M309.5 197.3h0M308.0 193.5h0M322.9 188.9h0M309.5 197.9h0M314.6 196.8h0M323.6 184.2h0M323.1 184.2h0M310.2 197.5h0M321.0 185.9h0M325.1 183.6h0M315.5 192.4h0M326.2 183.0h0M308.2 193.3h0M318.1 186.9h0M308.5 197.1h0M311.1 199.4h0M315.2 192.1h0M326.3 184.3h0M316.8 191.7h0M314.2 193.2h0M314.2 189.0h0M325.2 183.2h0M324.5 186.3h0M312.1 198.2h0M309.5 196.2h0M307.1 195.5h0M311.7 196.0h0M319.9 189.9h0M317.0 192.0h0M320.5 200.2h0M318.0 186.2h0M315.2 195.9h0M317.4 185.6h0M327.6 183.1h0M314.8 186.7h0M317.3 188.1h0M317.0 191.7h0M323.5 192.3h0M313.3 195.5h0M316.7 192.8h0M314.5 190.8h0M320.2 185.4h0M314.4 195.4h0M326.1 182.9h0M312.0 190.0h0M316.6 189.9h0M311.6 194.4h0M319.4 187.5h0M314.7 202.1h0M324.6 183.0h0M316.8 189.8h0M322.8 186.0h0M310.6 191.3h0M325.3 184.1h0M312.6 192.5h0M324.5 181.4h0M322.5 183.2h0M318.2 187.1h0M320.1 189.8h0M320.9 183.5h0M305.6 195.1h0M326.2 183.7h0M317.7 194.8h0M313.4 191.5h0M311.0 198.3h0M313.8 192.0h0M322.3 182.2h0M310.6 198.5h0M322.0 185.1h0M309.2 195.9h0M312.2 195.0h0M324.8 185.2h0M305.8 195.6h0M320.1 184.0h0M323.3 185.8h0M316.6 190.6h0M314.9 195.3h0M318.8 189.4h0M312.7 194.6h0M322.2 187.5h0M312.0 193.4h0M313.7 191.6h0M315.5 190.7h0M316.7 190.1h0M314.8 192.7h0M322.2 188.8h0M313.7 194.3h0M326.2 180.6h0M312.6 193.8h0M310.0 193.7h0M314.7 191.1h0M322.6 183.7h0M309.5 198.7h0M315.7 188.4h0M310.1 195.0h0M326.5 181.6h0M316.0 193.0h0M320.2 187.3h0M316.3 187.9h0M314.7 193.5h0M318.2 187.9h0M315.7 190.1h0M308.6 194.4h0M311.0 190.6h0M315.2 196.3h0M307.4 196.1h0M311.1 199.3h0M315.8 188.3h0M307.1 198.1h0M324.8 181.2h0M317.1 189.6h0M309.9 195.6h0M316.0 193.0h0M307.9 193.5h0M314.9 191.5h0M306.4 193.5h0M323.0 187.1h0M321.4 183.7h0M315.5 195.7h0M325.1 182.1h0M316.8 191.3h0M320.5 187.2h0M326.1 182.9h0M313.9 190.3h0M321.8 182.8h0M312.9 196.1h0M307.0 197.5h0M317.4 191.2h0M311.1 193.4h0M309.7 194.9h0M308.7 199.5h0M318.2 184.1h0M302.3 191.8h0M314.6 190.0h0M322.7 184.7h0M318.4 208.4h0M313.0 193.2h0M308.3 199.2h0M309.3 196.4h0M318.0 189.2h0M317.3 191.3h0M309.4 195.9h0M309.7 198.5h0M309.7 195.2h0M319.9 190.6h0M321.3 186.5h0M326.0 183.0h0M315.8 192.2h0M304.5 194.8h0M316.6 192.3h0M305.0 195.9h0M321.6 191.6h0M319.6 188.3h0M310.3 199.3h0M308.6 198.3h0M322.3 186.4h0M312.9 193.9h0M307.9 195.2h0M318.0 185.4h0M307.0 196.7h0M308.7 193.7h0M312.8 193.8h0M307.9 195.3h0M314.1 192.7h0M308.5 199.5h0M308.8 199.9h0M313.2 192.1h0M318.3 187.1h0M310.6 196.5h0M308.1 195.8h0M327.8 182.7h0M328.5 184.8h0M316.1 189.7h0M324.0 182.5h0M310.1 198.3h0M304.9 193.3h0M318.9 188.2h0M319.4 188.0h0M311.0 196.8h0M305.7 196.9h0M318.4 187.5h0M307.0 194.1h0M311.4 197.5h0M319.7 186.2h0M317.0 192.1h0M316.5 188.9h0M317.3 187.6h0M324.1 183.0h0M313.1 196.4h0M316.4 189.8h0M309.8 199.5h0M308.6 193.6h0M324.2 186.1h0M323.8 187.5h0M325.6 184.2h0M312.3 193.3h0M315.0 193.7h0M322.0 188.6h0M311.8 191.4h0M323.4 182.7h0M318.1 188.4h0M311.1 194.0h0M322.6 186.3h0M312.7 192.7h0M307.8 199.4h0M322.0 184.1h0M313.8 196.5h0M310.3 198.0h0M308.7 193.1h0M312.6 197.6h0M313.4 198.0h0M317.3 192.2h0M316.2 189.9h0M318.5 190.8h0M308.2 194.7h0M314.1 191.7h0M313.2 198.3h0M331.1 177.9h0M344.9 165.4h0M343.1 167.7h0M341.8 171.3h0M330.7 179.3h0M328.6 181.0h0M338.9 170.8h0M333.4 177.9h0M329.2 178.0h0M331.9 176.7h0M342.3 169.3h0M339.4 174.1h0M335.5 172.0h0M329.1 178.7h0M336.7 173.4h0M335.8 173.7h0M346.7 165.2h0M336.5 169.8h0M336.6 169.3h0M334.6 172.0h0M337.3 171.7h0M333.9 176.1h0M335.2 170.6h0M329.8 176.7h0M336.6 175.6h0M334.6 175.7h0M341.7 168.8h0M327.5 179.4h0M334.0 175.4h0M327.9 178.5h0M332.5 174.9h0M342.4 166.6h0M337.7 175.5h0M331.1 180.3h0M343.7 167.1h0M342.3 166.5h0M330.4 176.3h0M330.1 178.3h0M344.1 163.4h0M343.8 169.2h0M344.4 168.9h0M344.9 165.3h0M337.8 170.6h0M331.1 180.0h0M341.3 163.7h0M333.2 172.9h0M328.1 181.8h0M341.5 169.1h0M343.9 166.1h0M328.3 180.9h0M334.6 176.1h0M345.3 165.5h0M336.9 174.6h0M336.8 172.7h0M335.8 180.3h0M330.5 179.0h0M338.0 171.2h0M338.7 173.0h0M335.2 173.6h0M331.5 181.9h0M337.3 169.8h0M334.2 174.8h0M342.0 169.1h0M346.2 164.3h0M342.7 170.9h0M334.8 176.0h0M330.8 172.6h0M339.8 172.2h0M334.0 176.6h0M331.1 178.9h0M325.8 178.8h0M329.6 177.6h0M341.1 168.8h0M341.9 169.4h0M332.0 174.9h0M332.2 178.6h0M336.9 173.8h0M334.7 175.9h0M326.9 179.9h0M333.4 178.2h0M331.9 177.0h0M331.3 182.3h0M345.2 162.9h0M335.0 174.0h0M338.7 170.2h0M339.3 173.9h0M328.3 177.1h0M335.9 174.0h0M342.6 167.8h0M337.4 170.9h0M341.0 169.7h0M342.2 166.0h0M334.2 175.5h0M334.6 174.1h0M339.9 168.7h0M335.9 173.7h0M329.6 182.0h0M343.4 167.4h0M340.4 168.4h0M340.6 169.1h0M332.0 176.4h0M341.5 169.7h0M330.6 174.5h0M338.7 172.0h0M329.2 180.2h0M339.8 168.5h0M334.1 172.1h0M332.6 177.1h0M345.6 164.1h0M331.8 178.7h0M330.7 176.6h0M338.7 173.4h0M345.1 168.0h0M333.4 178.9h0M333.0 180.0h0M328.7 179.9h0M331.0 177.3h0M345.1 171.0h0M330.8 175.7h0M343.0 165.0h0M345.8 167.2h0M334.9 174.1h0M327.2 180.6h0M337.0 174.0h0M336.9 175.6h0M329.5 180.2h0M329.0 180.2h0M348.8 177.7h0M341.0 167.3h0M333.1 170.8h0M334.0 172.0h0M337.6 173.9h0M359.8 151.9h0M363.0 150.8h0M363.0 145.5h0M364.1 146.5h0M349.0 161.8h0M358.4 161.6h0M351.8 157.8h0M351.8 158.2h0M360.5 151.0h0M347.6 163.3h0M353.0 157.3h0M357.0 153.2h0M348.9 161.9h0M359.3 153.4h0M360.5 150.6h0M360.9 154.1h0M348.7 164.0h0M367.1 148.3h0M368.7 148.4h0M359.4 153.4h0M361.2 151.3h0M348.7 165.8h0M366.7 148.5h0M361.7 151.7h0M360.9 148.4h0M359.1 149.4h0M364.0 149.2h0M357.1 158.7h0M353.5 158.1h0M367.9 154.2h0M349.6 162.5h0M362.5 150.6h0M352.0 158.5h0M363.0 148.0h0M355.5 156.9h0M354.6 156.5h0M352.5 161.8h0M349.6 162.1h0M352.9 156.4h0M366.0 149.6h0M355.3 154.2h0M365.4 146.9h0M362.2 151.0h0M349.9 160.7h0M353.6 159.2h0M356.8 152.9h0M353.8 159.7h0M351.7 156.0h0M348.8 161.9h0M362.8 151.9h0M358.8 153.0h0M350.6 161.3h0M357.3 156.2h0M364.9 152.2h0M347.6 160.1h0M358.5 153.5h0M356.2 155.7h0M357.9 153.6h0M361.2 152.5h0M348.9 164.1h0M350.2 159.1h0M357.4 155.3h0M349.1 159.7h0M350.5 159.8h0M350.2 161.4h0M361.6 152.2h0M359.4 170.5h0M360.7 154.8h0M376.3 137.7h0M366.5 144.4h0M374.3 136.9h0M385.3 126.7h0M383.7 126.6h0M385.3 127.3h0M368.9 146.1h0M371.1 143.5h0M385.9 125.9h0M379.4 135.0h0M381.5 145.3h0M377.6 150.0h0M377.1 129.1h0M377.8 140.9h0M375.1 138.6h0M367.1 144.7h0M376.3 139.4h0M378.5 135.8h0M368.5 144.7h0M384.2 127.8h0M367.5 144.4h0M377.6 134.0h0M380.5 127.5h0M369.8 145.4h0M385.7 124.8h0M369.2 143.9h0M376.5 140.4h0M369.6 142.1h0M378.5 130.7h0M383.7 127.0h0M377.9 134.1h0M368.4 142.7h0M370.9 144.0h0M367.4 145.7h0M381.6 133.1h0M387.5 122.1h0M398.2 118.1h0M396.8 115.2h0M394.3 116.4h0M399.3 111.0h0M396.9 117.1h0M398.7 111.8h0M391.2 124.2h0M400.3 109.0h0M398.1 114.5h0M394.6 116.1h0M402.0 110.7h0M403.2 104.6h0M407.2 105.1h0M397.1 110.5h0M387.6 125.4h0M393.2 123.0h0M406.4 107.0h0M412.1 98.0h0M412.6 99.5h0M425.7 89.3h0M419.6 96.1h0M416.0 96.9h0M424.8 90.3h0M412.7 100.3h0M414.6 98.0h0M419.0 98.4h0M424.1 91.0h0M427.4 87.0h0M410.5 105.5h0M411.1 97.9h0M425.9 89.5h0M433.9 83.0h0M439.3 79.1h0M446.4 66.3h0M433.5 80.8h0M444.2 71.2h0M431.6 82.1h0M439.2 76.5h0M442.3 79.0h0M445.8 74.3h0M434.4 83.1h0M434.2 81.1h0M449.5 76.1h0M434.1 79.1h0M438.2 80.5h0M461.5 50.3h0M453.7 56.7h0M454.0 63.0h0M452.7 58.3h0M466.5 45.3h0M457.2 62.0h0M471.1 46.6h0M460.6 60.3h0M467.8 48.6h0M470.1 49.3h0M457.7 63.0h0M467.0 48.6h0M454.3 65.0h0M465.9 42.1h0M472.7 42.2h0M484.3 30.8h0M481.1 29.2h0M482.5 33.7h0M481.8 31.5h0M484.4 25.9h0M476.4 36.6h0M489.9 25.0h0M476.9 40.9h0M482.1 34.5h0M474.3 37.0h0M482.1 32.1h0M491.4 27.4h0" stroke="#000" stroke-opacity="0.45" stroke-width="2.2" stroke-linecap="round" fill="none"/>
</g>
<rect x="278.6" y="20.4" width="215.45" height="199.6" fill="none" stroke="#111" stroke-width="0.95"/>
<line x1="275.00" y1="206.14" x2="278.6" y2="206.14" stroke="#000" stroke-width="1.05"/>
<line x1="275.00" y1="178.20" x2="278.6" y2="178.20" stroke="#000" stroke-width="1.05"/>
<line x1="275.00" y1="150.26" x2="278.6" y2="150.26" stroke="#000" stroke-width="1.05"/>
<line x1="275.00" y1="122.32" x2="278.6" y2="122.32" stroke="#000" stroke-width="1.05"/>
<line x1="275.00" y1="94.38" x2="278.6" y2="94.38" stroke="#000" stroke-width="1.05"/>
<line x1="275.00" y1="66.44" x2="278.6" y2="66.44" stroke="#000" stroke-width="1.05"/>
<line x1="275.00" y1="38.50" x2="278.6" y2="38.50" stroke="#000" stroke-width="1.05"/>
<line x1="284.81" y1="220.0" x2="284.81" y2="222.30" stroke="#000" stroke-width="0.8"/>
<line x1="290.37" y1="220.0" x2="290.37" y2="222.30" stroke="#000" stroke-width="0.8"/>
<line x1="295.07" y1="220.0" x2="295.07" y2="222.30" stroke="#000" stroke-width="0.8"/>
<line x1="299.14" y1="220.0" x2="299.14" y2="222.30" stroke="#000" stroke-width="0.8"/>
<line x1="302.74" y1="220.0" x2="302.74" y2="222.30" stroke="#000" stroke-width="0.8"/>
<line x1="305.95" y1="220.0" x2="305.95" y2="224.00" stroke="#000" stroke-width="1.05"/>
<line x1="327.09" y1="220.0" x2="327.09" y2="222.30" stroke="#000" stroke-width="0.8"/>
<line x1="339.46" y1="220.0" x2="339.46" y2="222.30" stroke="#000" stroke-width="0.8"/>
<line x1="348.23" y1="220.0" x2="348.23" y2="222.30" stroke="#000" stroke-width="0.8"/>
<line x1="355.04" y1="220.0" x2="355.04" y2="222.30" stroke="#000" stroke-width="0.8"/>
<line x1="360.60" y1="220.0" x2="360.60" y2="222.30" stroke="#000" stroke-width="0.8"/>
<line x1="365.30" y1="220.0" x2="365.30" y2="222.30" stroke="#000" stroke-width="0.8"/>
<line x1="369.37" y1="220.0" x2="369.37" y2="222.30" stroke="#000" stroke-width="0.8"/>
<line x1="372.96" y1="220.0" x2="372.96" y2="222.30" stroke="#000" stroke-width="0.8"/>
<line x1="376.17" y1="220.0" x2="376.17" y2="224.00" stroke="#000" stroke-width="1.05"/>
<line x1="397.31" y1="220.0" x2="397.31" y2="222.30" stroke="#000" stroke-width="0.8"/>
<line x1="409.68" y1="220.0" x2="409.68" y2="222.30" stroke="#000" stroke-width="0.8"/>
<line x1="418.45" y1="220.0" x2="418.45" y2="222.30" stroke="#000" stroke-width="0.8"/>
<line x1="425.26" y1="220.0" x2="425.26" y2="222.30" stroke="#000" stroke-width="0.8"/>
<line x1="430.82" y1="220.0" x2="430.82" y2="222.30" stroke="#000" stroke-width="0.8"/>
<line x1="435.52" y1="220.0" x2="435.52" y2="222.30" stroke="#000" stroke-width="0.8"/>
<line x1="439.59" y1="220.0" x2="439.59" y2="222.30" stroke="#000" stroke-width="0.8"/>
<line x1="443.19" y1="220.0" x2="443.19" y2="222.30" stroke="#000" stroke-width="0.8"/>
<line x1="446.40" y1="220.0" x2="446.40" y2="224.00" stroke="#000" stroke-width="1.05"/>
<line x1="467.54" y1="220.0" x2="467.54" y2="222.30" stroke="#000" stroke-width="0.8"/>
<line x1="479.91" y1="220.0" x2="479.91" y2="222.30" stroke="#000" stroke-width="0.8"/>
<line x1="488.68" y1="220.0" x2="488.68" y2="222.30" stroke="#000" stroke-width="0.8"/>
<text x="297.05" y="235.1" font-size="11.9" textLength="11.6" lengthAdjust="spacingAndGlyphs">10</text>
<text x="309.45" y="231.8" font-size="8.8">6</text>
<text x="367.27" y="235.1" font-size="11.9" textLength="11.6" lengthAdjust="spacingAndGlyphs">10</text>
<text x="379.67" y="231.8" font-size="8.8">7</text>
<text x="437.50" y="235.1" font-size="11.9" textLength="11.6" lengthAdjust="spacingAndGlyphs">10</text>
<text x="449.90" y="231.8" font-size="8.8">8</text>
<text x="387.13" y="14.6" font-size="14.5" text-anchor="middle">L1</text>
<text x="340.08" y="250.7" font-size="12.2" textLength="84" lengthAdjust="spacingAndGlyphs">Rupture area (m</text>
<text x="424.48" y="246.4" font-size="8.2">2</text>
<text x="429.48" y="250.7" font-size="12.2">)</text>
<text x="41.6" y="210.24" font-size="11.7" text-anchor="end" textLength="22.6" lengthAdjust="spacingAndGlyphs">15.5</text>
<text x="41.6" y="182.02" font-size="11.7" text-anchor="end" textLength="22.6" lengthAdjust="spacingAndGlyphs">16.0</text>
<text x="41.6" y="153.81" font-size="11.7" text-anchor="end" textLength="22.6" lengthAdjust="spacingAndGlyphs">16.5</text>
<text x="41.6" y="125.59" font-size="11.7" text-anchor="end" textLength="22.6" lengthAdjust="spacingAndGlyphs">17.0</text>
<text x="41.6" y="97.38" font-size="11.7" text-anchor="end" textLength="22.6" lengthAdjust="spacingAndGlyphs">17.5</text>
<text x="41.6" y="69.17" font-size="11.7" text-anchor="end" textLength="22.6" lengthAdjust="spacingAndGlyphs">18.0</text>
<text x="41.6" y="40.95" font-size="11.7" text-anchor="end" textLength="22.6" lengthAdjust="spacingAndGlyphs">18.5</text>
<g transform="translate(12.6,198.6) rotate(-90)"><text x="0" y="0" font-size="12.2" textLength="147.2" lengthAdjust="spacingAndGlyphs">Log. Seismic moment (logM</text><text x="146.8" y="2.4" font-size="8.2">0</text><text x="150.6" y="0" font-size="12.2">)</text></g>
</svg></body></html>
